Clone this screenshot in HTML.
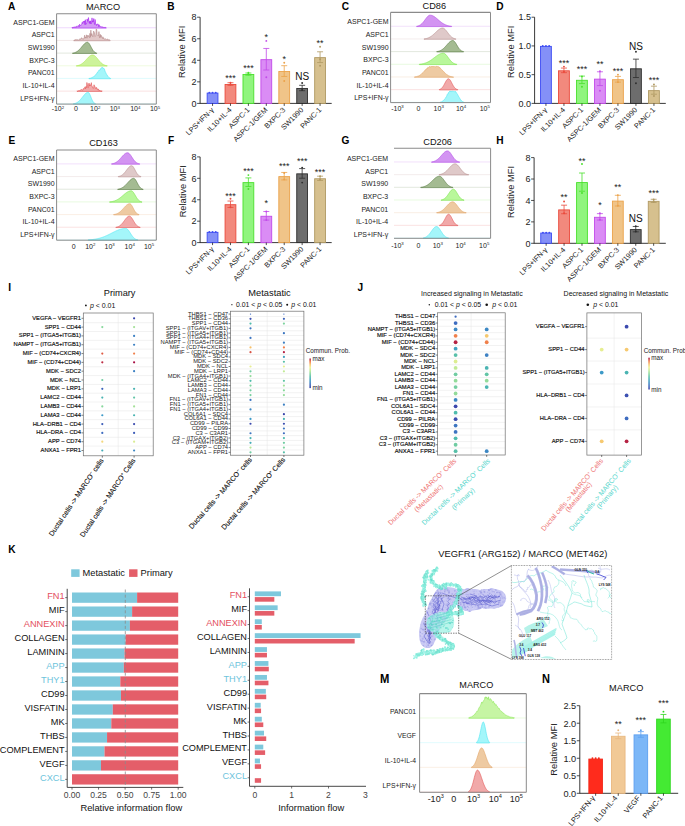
<!DOCTYPE html><html><head><meta charset="utf-8"><style>html,body{margin:0;padding:0;background:#fff;}svg{display:block;font-family:"Liberation Sans", sans-serif;}</style></head><body><svg width="685" height="826" viewBox="0 0 685 826"><rect width="685" height="826" fill="#fff"/>
<g transform="translate(8.00 10.23) scale(0.88 1)"><text x="0" y="0" font-size="11.5" font-weight="bold" fill="#000">A</text></g>
<line x1="56.60" y1="27.78" x2="156.30" y2="27.78" stroke="#a21cf0" stroke-width="0.5" stroke-opacity="0.35"/>
<path d="M72.03 28.08 L72.03 27.38 L72.48 27.74 L72.92 27.22 L73.36 27.23 L73.81 27.51 L74.25 26.94 L74.70 27.03 L75.14 27.29 L75.58 26.71 L76.03 27.47 L76.47 26.33 L76.91 26.13 L77.36 25.94 L77.80 26.43 L78.25 26.13 L78.69 25.45 L79.13 26.85 L79.58 24.31 L80.02 25.36 L80.47 25.48 L80.91 25.63 L81.35 24.38 L81.80 23.64 L82.24 22.30 L82.69 23.64 L83.13 21.54 L83.57 21.10 L84.02 22.41 L84.46 20.92 L84.90 24.62 L85.35 19.73 L85.79 24.54 L86.24 23.36 L86.68 23.48 L87.12 18.97 L87.57 21.34 L88.01 19.98 L88.46 17.58 L88.90 21.27 L89.34 23.32 L89.79 20.98 L90.23 23.69 L90.68 20.78 L91.12 23.96 L91.56 22.74 L92.01 17.88 L92.45 22.23 L92.90 20.80 L93.34 21.74 L93.78 18.52 L94.23 23.04 L94.67 24.56 L95.11 19.48 L95.56 23.56 L96.00 24.18 L96.45 25.57 L96.89 23.98 L97.33 24.05 L97.78 24.20 L98.22 24.14 L98.67 26.71 L99.11 24.73 L99.55 26.42 L100.00 25.95 L100.44 26.64 L100.89 26.58 L101.33 26.95 L101.77 26.63 L102.22 26.62 L102.66 27.36 L103.10 26.96 L103.55 27.42 L103.99 27.41 L104.44 27.55 L104.88 27.27 L105.32 27.53 L105.77 27.45 L106.21 27.78 L106.21 28.08 Z" fill="#d39af4" stroke="#a21cf0" stroke-width="0.6" stroke-linejoin="round"/>
<text x="54.60" y="24.78" font-size="7" text-anchor="end" fill="#222">ASPC1-GEM</text>
<line x1="56.60" y1="40.45" x2="156.30" y2="40.45" stroke="#b58888" stroke-width="0.5" stroke-opacity="0.35"/>
<path d="M73.79 40.75 L73.79 40.42 L74.24 40.01 L74.69 40.42 L75.13 39.57 L75.58 39.81 L76.03 39.85 L76.48 39.78 L76.93 39.39 L77.38 39.55 L77.83 40.08 L78.28 40.23 L78.73 39.69 L79.18 39.74 L79.62 39.70 L80.07 38.64 L80.52 39.42 L80.97 38.84 L81.42 37.88 L81.87 37.77 L82.32 39.14 L82.77 38.66 L83.22 39.47 L83.66 38.53 L84.11 38.51 L84.56 35.27 L85.01 38.11 L85.46 36.92 L85.91 38.19 L86.36 34.82 L86.81 37.91 L87.26 38.13 L87.71 35.19 L88.15 36.56 L88.60 35.60 L89.05 36.89 L89.50 37.70 L89.95 33.35 L90.40 37.31 L90.85 30.15 L91.30 35.63 L91.75 33.59 L92.19 34.92 L92.64 36.65 L93.09 36.94 L93.54 31.11 L93.99 31.67 L94.44 32.81 L94.89 36.72 L95.34 36.30 L95.79 35.86 L96.24 28.88 L96.68 29.69 L97.13 34.63 L97.58 35.19 L98.03 36.01 L98.48 35.79 L98.93 31.62 L99.38 35.95 L99.83 38.01 L100.28 34.30 L100.72 37.12 L101.17 35.28 L101.62 36.24 L102.07 37.85 L102.52 38.46 L102.97 36.84 L103.42 38.47 L103.87 37.98 L104.32 39.40 L104.77 39.21 L105.21 38.91 L105.66 38.77 L106.11 39.48 L106.56 38.96 L107.01 39.55 L107.46 39.22 L107.91 39.08 L108.36 39.90 L108.81 39.92 L109.26 39.84 L109.70 39.89 L110.15 40.32 L110.15 40.75 Z" fill="#e2c8c8" stroke="#b58888" stroke-width="0.6" stroke-linejoin="round"/>
<text x="54.60" y="37.45" font-size="7" text-anchor="end" fill="#222">ASPC1</text>
<line x1="56.60" y1="53.12" x2="156.30" y2="53.12" stroke="#56793f" stroke-width="0.5" stroke-opacity="0.35"/>
<path d="M72.53 53.42 L72.53 53.13 L72.97 53.06 L73.41 52.98 L73.85 52.88 L74.29 52.77 L74.73 52.64 L75.17 52.48 L75.61 52.30 L76.05 52.09 L76.49 51.86 L76.93 51.60 L77.37 51.30 L77.81 50.98 L78.25 50.62 L78.69 50.23 L79.13 49.82 L79.58 49.37 L80.02 48.89 L80.46 48.39 L80.90 47.88 L81.34 47.35 L81.78 46.81 L82.22 46.27 L82.66 45.73 L83.10 45.21 L83.54 44.70 L83.98 44.23 L84.42 43.79 L84.86 43.40 L85.30 43.05 L85.74 42.76 L86.18 42.54 L86.62 42.38 L87.07 42.29 L87.51 42.28 L87.95 42.41 L88.39 42.71 L88.83 43.16 L89.27 43.75 L89.71 44.45 L90.15 45.23 L90.59 46.06 L91.03 46.91 L91.47 47.75 L91.91 48.56 L92.35 49.32 L92.79 50.02 L93.23 50.64 L93.68 51.19 L94.12 51.65 L94.56 52.04 L95.00 52.36 L95.44 52.62 L95.88 52.83 L96.32 52.99 L96.76 53.11 L96.76 53.42 Z" fill="#a4bb92" stroke="#56793f" stroke-width="0.6" stroke-linejoin="round"/>
<text x="54.60" y="50.12" font-size="7" text-anchor="end" fill="#222">SW1990</text>
<line x1="56.60" y1="65.79" x2="156.30" y2="65.79" stroke="#a8e84a" stroke-width="0.5" stroke-opacity="0.35"/>
<path d="M76.37 66.09 L76.37 65.79 L76.82 65.72 L77.26 65.65 L77.71 65.56 L78.16 65.45 L78.60 65.33 L79.05 65.19 L79.49 65.03 L79.94 64.84 L80.39 64.64 L80.83 64.41 L81.28 64.15 L81.72 63.87 L82.17 63.56 L82.62 63.22 L83.06 62.85 L83.51 62.46 L83.96 62.04 L84.40 61.61 L84.85 61.15 L85.30 60.67 L85.74 60.18 L86.19 59.68 L86.63 59.18 L87.08 58.68 L87.53 58.18 L87.97 57.70 L88.42 57.24 L88.86 56.81 L89.31 56.41 L89.76 56.05 L90.20 55.73 L90.65 55.46 L91.10 55.24 L91.54 55.08 L91.99 54.98 L92.44 54.94 L92.88 54.97 L93.33 55.07 L93.77 55.24 L94.22 55.47 L94.67 55.77 L95.11 56.13 L95.56 56.54 L96.00 56.99 L96.45 57.48 L96.90 57.99 L97.34 58.52 L97.79 59.07 L98.24 59.62 L98.68 60.16 L99.13 60.70 L99.57 61.22 L100.02 61.71 L100.47 62.19 L100.91 62.63 L101.36 63.04 L101.81 63.43 L102.25 63.78 L102.70 64.09 L103.15 64.38 L103.59 64.63 L104.04 64.85 L104.48 65.05 L104.93 65.22 L105.38 65.37 L105.82 65.50 L106.27 65.60 L106.72 65.69 L107.16 65.77 L107.16 66.09 Z" fill="#cdf39a" stroke="#a8e84a" stroke-width="0.6" stroke-linejoin="round"/>
<text x="54.60" y="62.79" font-size="7" text-anchor="end" fill="#222">BXPC-3</text>
<line x1="56.60" y1="78.46" x2="156.30" y2="78.46" stroke="#4fe6f2" stroke-width="0.5" stroke-opacity="0.35"/>
<path d="M88.89 78.76 L88.89 78.47 L89.33 78.41 L89.77 78.35 L90.22 78.30 L90.66 78.07 L91.10 78.04 L91.55 77.72 L91.99 77.61 L92.43 77.35 L92.88 77.07 L93.32 77.00 L93.76 76.54 L94.21 76.27 L94.65 75.70 L95.09 75.34 L95.54 75.15 L95.98 74.21 L96.42 73.93 L96.87 73.31 L97.31 72.36 L97.75 72.35 L98.20 71.44 L98.64 70.69 L99.08 69.82 L99.53 69.97 L99.97 69.93 L100.42 69.69 L100.86 68.20 L101.30 67.74 L101.75 67.78 L102.19 67.85 L102.63 67.28 L103.08 68.03 L103.52 69.02 L103.96 68.54 L104.41 69.09 L104.85 70.49 L105.29 71.85 L105.74 72.63 L106.18 73.55 L106.62 74.42 L107.07 74.98 L107.51 75.92 L107.95 76.30 L108.40 76.78 L108.84 77.43 L109.28 77.70 L109.73 78.00 L110.17 78.27 L110.61 78.38 L110.61 78.76 Z" fill="#a4f6fa" stroke="#4fe6f2" stroke-width="0.6" stroke-linejoin="round"/>
<text x="54.60" y="75.46" font-size="7" text-anchor="end" fill="#222">PANC01</text>
<line x1="56.60" y1="91.13" x2="156.30" y2="91.13" stroke="#e35858" stroke-width="0.5" stroke-opacity="0.35"/>
<path d="M77.09 91.43 L77.09 90.72 L77.54 91.17 L77.98 91.08 L78.43 90.63 L78.87 90.55 L79.32 90.52 L79.76 90.56 L80.21 90.71 L80.65 89.80 L81.10 90.10 L81.55 89.41 L81.99 90.43 L82.44 90.06 L82.88 90.26 L83.33 88.59 L83.77 88.91 L84.22 87.95 L84.66 87.81 L85.11 86.78 L85.55 88.88 L86.00 86.60 L86.45 87.57 L86.89 82.53 L87.34 84.24 L87.78 87.39 L88.23 88.07 L88.67 83.92 L89.12 83.08 L89.56 86.12 L90.01 84.49 L90.45 85.61 L90.90 84.92 L91.35 82.65 L91.79 86.18 L92.24 86.22 L92.68 87.96 L93.13 87.99 L93.57 88.32 L94.02 84.78 L94.46 86.15 L94.91 86.33 L95.35 88.61 L95.80 88.74 L96.25 87.22 L96.69 88.60 L97.14 88.33 L97.58 89.86 L98.03 89.92 L98.47 88.91 L98.92 90.85 L99.36 90.65 L99.81 90.04 L100.25 90.92 L100.70 90.89 L101.15 90.87 L101.59 91.05 L102.04 90.77 L102.04 91.43 Z" fill="#f1a9a9" stroke="#e35858" stroke-width="0.6" stroke-linejoin="round"/>
<text x="54.60" y="88.13" font-size="7" text-anchor="end" fill="#222">IL-10+IL-4</text>
<line x1="56.60" y1="103.80" x2="156.30" y2="103.80" stroke="#4fe6f2" stroke-width="0.5" stroke-opacity="0.35"/>
<path d="M73.33 104.10 L73.33 103.78 L73.77 103.70 L74.22 103.61 L74.66 103.50 L75.10 103.38 L75.55 103.23 L75.99 103.06 L76.43 102.86 L76.88 102.63 L77.32 102.37 L77.76 102.09 L78.21 101.76 L78.65 101.41 L79.09 101.02 L79.54 100.59 L79.98 100.14 L80.42 99.65 L80.87 99.14 L81.31 98.60 L81.75 98.05 L82.20 97.48 L82.64 96.90 L83.08 96.33 L83.53 95.76 L83.97 95.21 L84.41 94.69 L84.86 94.20 L85.30 93.75 L85.74 93.35 L86.19 93.01 L86.63 92.73 L87.07 92.52 L87.52 92.38 L87.96 92.32 L88.40 92.39 L88.85 92.73 L89.29 93.33 L89.73 94.16 L90.18 95.15 L90.62 96.24 L91.06 97.37 L91.51 98.48 L91.95 99.52 L92.39 100.46 L92.84 101.28 L93.28 101.97 L93.72 102.53 L94.17 102.97 L94.61 103.31 L95.05 103.56 L95.50 103.74 L95.50 104.10 Z" fill="#a4f6fa" stroke="#4fe6f2" stroke-width="0.6" stroke-linejoin="round"/>
<text x="54.60" y="100.80" font-size="7" text-anchor="end" fill="#222">LPS+IFN-γ</text>
<line x1="56.60" y1="13.70" x2="156.30" y2="13.70" stroke="#8a8a8a" stroke-width="1.1"/>
<line x1="156.30" y1="13.70" x2="156.30" y2="104.10" stroke="#8a8a8a" stroke-width="1"/>
<line x1="56.60" y1="104.10" x2="156.30" y2="104.10" stroke="#8a8a8a" stroke-width="1"/>
<line x1="56.60" y1="13.70" x2="56.60" y2="104.10" stroke="#8a8a8a" stroke-width="1"/>
<text x="103.00" y="10.10" font-size="9.2" text-anchor="middle" fill="#111">MARCO</text>
<text x="57.90" y="111.20" font-size="7" text-anchor="middle" fill="#222">-10<tspan font-size="4.34" dy="-2.66">2</tspan></text>
<text x="76.00" y="111.20" font-size="7" text-anchor="middle" fill="#222">0</text>
<text x="95.20" y="111.20" font-size="7" text-anchor="middle" fill="#222">10<tspan font-size="4.34" dy="-2.66">2</tspan></text>
<text x="114.80" y="111.20" font-size="7" text-anchor="middle" fill="#222">10<tspan font-size="4.34" dy="-2.66">3</tspan></text>
<text x="135.30" y="111.20" font-size="7" text-anchor="middle" fill="#222">10<tspan font-size="4.34" dy="-2.66">4</tspan></text>
<text x="155.00" y="111.20" font-size="7" text-anchor="middle" fill="#222">10<tspan font-size="4.34" dy="-2.66">5</tspan></text>
<g transform="translate(341.70 10.23) scale(0.88 1)"><text x="0" y="0" font-size="11.5" font-weight="bold" fill="#000">C</text></g>
<line x1="390.60" y1="26.28" x2="490.50" y2="26.28" stroke="#b24ae6" stroke-width="0.5" stroke-opacity="0.35"/>
<path d="M416.60 26.58 L416.60 26.28 L417.05 26.20 L417.50 26.10 L417.95 25.99 L418.40 25.84 L418.85 25.67 L419.29 25.48 L419.74 25.25 L420.19 24.98 L420.64 24.67 L421.09 24.33 L421.54 23.94 L421.99 23.52 L422.44 23.05 L422.89 22.55 L423.34 22.01 L423.79 21.44 L424.24 20.84 L424.69 20.23 L425.14 19.61 L425.59 18.99 L426.04 18.38 L426.49 17.80 L426.94 17.25 L427.38 16.74 L427.83 16.29 L428.28 15.91 L428.73 15.60 L429.18 15.37 L429.63 15.23 L430.08 15.18 L430.53 15.19 L430.98 15.25 L431.43 15.33 L431.88 15.46 L432.33 15.61 L432.78 15.80 L433.23 16.02 L433.68 16.26 L434.13 16.53 L434.58 16.83 L435.03 17.15 L435.47 17.48 L435.92 17.83 L436.37 18.20 L436.82 18.57 L437.27 18.95 L437.72 19.34 L438.17 19.73 L438.62 20.11 L439.07 20.50 L439.52 20.88 L439.97 21.25 L440.42 21.62 L440.87 21.97 L441.32 22.31 L441.77 22.64 L442.22 22.96 L442.67 23.26 L443.12 23.54 L443.56 23.81 L444.01 24.07 L444.46 24.30 L444.91 24.53 L445.36 24.73 L445.81 24.92 L446.26 25.10 L446.71 25.26 L447.16 25.41 L447.61 25.54 L448.06 25.66 L448.51 25.77 L448.96 25.87 L449.41 25.96 L449.86 26.04 L450.31 26.11 L450.76 26.17 L451.21 26.23 L451.65 26.28 L451.65 26.58 Z" fill="#d394f2" stroke="#b24ae6" stroke-width="0.6" stroke-linejoin="round"/>
<text x="388.60" y="24.28" font-size="7" text-anchor="end" fill="#222">ASPC1-GEM</text>
<line x1="390.60" y1="38.95" x2="490.50" y2="38.95" stroke="#b78f8f" stroke-width="0.5" stroke-opacity="0.35"/>
<path d="M424.03 39.25 L424.03 38.92 L424.48 38.86 L424.93 38.79 L425.38 38.71 L425.83 38.62 L426.27 38.52 L426.72 38.40 L427.17 38.27 L427.62 38.12 L428.07 37.96 L428.52 37.78 L428.96 37.58 L429.41 37.36 L429.86 37.12 L430.31 36.86 L430.76 36.59 L431.20 36.29 L431.65 35.97 L432.10 35.63 L432.55 35.27 L433.00 34.90 L433.45 34.51 L433.89 34.11 L434.34 33.69 L434.79 33.27 L435.24 32.84 L435.69 32.40 L436.13 31.97 L436.58 31.54 L437.03 31.12 L437.48 30.72 L437.93 30.33 L438.38 29.96 L438.82 29.61 L439.27 29.29 L439.72 29.00 L440.17 28.75 L440.62 28.54 L441.07 28.37 L441.51 28.23 L441.96 28.15 L442.41 28.10 L442.86 28.12 L443.31 28.21 L443.75 28.39 L444.20 28.66 L444.65 29.00 L445.10 29.41 L445.55 29.88 L446.00 30.40 L446.44 30.95 L446.89 31.54 L447.34 32.14 L447.79 32.74 L448.24 33.34 L448.68 33.93 L449.13 34.50 L449.58 35.04 L450.03 35.55 L450.48 36.03 L450.93 36.46 L451.37 36.86 L451.82 37.21 L452.27 37.53 L452.72 37.81 L453.17 38.05 L453.61 38.26 L454.06 38.44 L454.51 38.60 L454.96 38.72 L455.41 38.83 L455.86 38.92 L455.86 39.25 Z" fill="#dfc9c9" stroke="#b78f8f" stroke-width="0.6" stroke-linejoin="round"/>
<text x="388.60" y="36.95" font-size="7" text-anchor="end" fill="#222">ASPC1</text>
<line x1="390.60" y1="51.62" x2="490.50" y2="51.62" stroke="#56793f" stroke-width="0.5" stroke-opacity="0.35"/>
<path d="M436.74 51.92 L436.74 51.60 L437.19 51.53 L437.64 51.45 L438.09 51.36 L438.53 51.25 L438.98 51.12 L439.43 50.97 L439.87 50.80 L440.32 50.61 L440.77 50.39 L441.21 50.15 L441.66 49.89 L442.11 49.59 L442.55 49.27 L443.00 48.92 L443.45 48.54 L443.89 48.13 L444.34 47.70 L444.79 47.25 L445.23 46.77 L445.68 46.28 L446.13 45.78 L446.57 45.26 L447.02 44.75 L447.47 44.24 L447.91 43.73 L448.36 43.25 L448.81 42.78 L449.26 42.34 L449.70 41.94 L450.15 41.58 L450.60 41.26 L451.04 41.00 L451.49 40.79 L451.94 40.63 L452.38 40.54 L452.83 40.52 L453.28 40.60 L453.72 40.82 L454.17 41.17 L454.62 41.63 L455.06 42.20 L455.51 42.86 L455.96 43.57 L456.40 44.32 L456.85 45.09 L457.30 45.86 L457.74 46.61 L458.19 47.32 L458.64 47.99 L459.09 48.60 L459.53 49.15 L459.98 49.64 L460.43 50.07 L460.87 50.43 L461.32 50.74 L461.77 51.00 L462.21 51.20 L462.66 51.37 L463.11 51.51 L463.55 51.61 L463.55 51.92 Z" fill="#a4bb92" stroke="#56793f" stroke-width="0.6" stroke-linejoin="round"/>
<text x="388.60" y="49.62" font-size="7" text-anchor="end" fill="#222">SW1990</text>
<line x1="390.60" y1="64.29" x2="490.50" y2="64.29" stroke="#78e24a" stroke-width="0.5" stroke-opacity="0.35"/>
<path d="M419.27 64.59 L419.27 64.27 L419.72 64.22 L420.16 64.17 L420.61 64.11 L421.06 64.05 L421.50 63.98 L421.95 63.91 L422.40 63.82 L422.84 63.73 L423.29 63.63 L423.74 63.52 L424.19 63.39 L424.63 63.26 L425.08 63.12 L425.53 62.97 L425.97 62.80 L426.42 62.63 L426.87 62.44 L427.31 62.24 L427.76 62.02 L428.21 61.79 L428.66 61.56 L429.10 61.30 L429.55 61.04 L430.00 60.77 L430.44 60.48 L430.89 60.18 L431.34 59.88 L431.78 59.56 L432.23 59.24 L432.68 58.91 L433.12 58.57 L433.57 58.23 L434.02 57.89 L434.47 57.55 L434.91 57.20 L435.36 56.86 L435.81 56.53 L436.25 56.20 L436.70 55.88 L437.15 55.56 L437.59 55.26 L438.04 54.98 L438.49 54.71 L438.93 54.45 L439.38 54.22 L439.83 54.00 L440.28 53.81 L440.72 53.65 L441.17 53.50 L441.62 53.38 L442.06 53.29 L442.51 53.23 L442.96 53.20 L443.40 53.19 L443.85 53.26 L444.30 53.41 L444.74 53.65 L445.19 53.97 L445.64 54.37 L446.09 54.83 L446.53 55.34 L446.98 55.89 L447.43 56.48 L447.87 57.09 L448.32 57.70 L448.77 58.32 L449.21 58.93 L449.66 59.51 L450.11 60.08 L450.56 60.61 L451.00 61.11 L451.45 61.57 L451.90 61.99 L452.34 62.37 L452.79 62.71 L453.24 63.01 L453.68 63.27 L454.13 63.50 L454.58 63.69 L455.02 63.86 L455.47 64.00 L455.92 64.12 L456.37 64.21 L456.81 64.29 L456.81 64.59 Z" fill="#b9f79b" stroke="#78e24a" stroke-width="0.6" stroke-linejoin="round"/>
<text x="388.60" y="62.29" font-size="7" text-anchor="end" fill="#222">BXPC-3</text>
<line x1="390.60" y1="76.96" x2="490.50" y2="76.96" stroke="#e2a466" stroke-width="0.5" stroke-opacity="0.35"/>
<path d="M414.45 77.26 L414.45 76.96 L414.90 76.90 L415.35 76.85 L415.79 76.73 L416.24 76.69 L416.69 76.55 L417.14 76.44 L417.59 76.21 L418.04 76.09 L418.48 75.99 L418.93 75.73 L419.38 75.53 L419.83 75.28 L420.28 74.90 L420.73 74.58 L421.17 74.24 L421.62 73.91 L422.07 73.31 L422.52 72.95 L422.97 72.72 L423.42 72.29 L423.86 71.60 L424.31 71.07 L424.76 70.48 L425.21 70.55 L425.66 69.53 L426.11 69.00 L426.55 69.12 L427.00 68.23 L427.45 68.33 L427.90 67.27 L428.35 67.64 L428.80 67.40 L429.25 66.59 L429.69 66.59 L430.14 66.77 L430.59 66.77 L431.04 66.79 L431.49 66.72 L431.94 66.03 L432.38 66.60 L432.83 66.71 L433.28 66.14 L433.73 66.77 L434.18 66.72 L434.63 66.23 L435.07 66.66 L435.52 66.81 L435.97 66.67 L436.42 66.57 L436.87 66.06 L437.32 66.41 L437.76 66.89 L438.21 66.39 L438.66 67.19 L439.11 67.01 L439.56 67.74 L440.01 67.60 L440.45 68.36 L440.90 68.99 L441.35 69.31 L441.80 69.74 L442.25 70.06 L442.70 70.74 L443.15 71.30 L443.59 71.51 L444.04 72.00 L444.49 72.35 L444.94 73.12 L445.39 73.41 L445.84 73.86 L446.28 74.15 L446.73 74.50 L447.18 74.71 L447.63 75.08 L448.08 75.47 L448.53 75.67 L448.97 75.80 L449.42 76.09 L449.87 76.21 L450.32 76.36 L450.77 76.53 L451.22 76.59 L451.66 76.70 L452.11 76.78 L452.56 76.88 L453.01 76.91 L453.46 76.98 L453.46 77.26 Z" fill="#eecaa2" stroke="#e2a466" stroke-width="0.6" stroke-linejoin="round"/>
<text x="388.60" y="74.96" font-size="7" text-anchor="end" fill="#222">PANC01</text>
<line x1="390.60" y1="89.63" x2="490.50" y2="89.63" stroke="#e35858" stroke-width="0.5" stroke-opacity="0.35"/>
<path d="M439.27 89.93 L439.27 89.56 L439.71 89.42 L440.15 89.24 L440.59 89.00 L441.03 88.71 L441.48 88.36 L441.92 87.93 L442.36 87.42 L442.80 86.83 L443.24 86.17 L443.68 85.44 L444.12 84.65 L444.56 83.82 L445.00 82.97 L445.44 82.12 L445.89 81.32 L446.33 80.57 L446.77 79.93 L447.21 79.41 L447.65 79.03 L448.09 78.82 L448.53 78.79 L448.97 78.93 L449.41 79.24 L449.86 79.70 L450.30 80.30 L450.74 81.01 L451.18 81.79 L451.62 82.63 L452.06 83.48 L452.50 84.32 L452.94 85.13 L453.38 85.88 L453.82 86.58 L454.27 87.19 L454.71 87.73 L455.15 88.19 L455.59 88.58 L456.03 88.89 L456.47 89.15 L456.91 89.35 L457.35 89.51 L457.79 89.63 L457.79 89.93 Z" fill="#f1a9a9" stroke="#e35858" stroke-width="0.6" stroke-linejoin="round"/>
<text x="388.60" y="87.63" font-size="7" text-anchor="end" fill="#222">IL-10+IL-4</text>
<line x1="390.60" y1="102.30" x2="490.50" y2="102.30" stroke="#4fe6f2" stroke-width="0.5" stroke-opacity="0.35"/>
<path d="M440.05 102.60 L440.05 102.22 L440.50 102.14 L440.94 102.02 L441.39 101.89 L441.83 101.56 L442.28 101.28 L442.73 101.03 L443.17 100.76 L443.62 100.32 L444.07 99.88 L444.51 99.34 L444.96 98.58 L445.41 98.16 L445.85 97.44 L446.30 96.73 L446.74 96.06 L447.19 94.56 L447.64 93.94 L448.08 94.03 L448.53 92.45 L448.98 92.13 L449.42 91.88 L449.87 90.90 L450.32 91.60 L450.76 91.30 L451.21 91.59 L451.66 90.98 L452.10 91.53 L452.55 91.03 L452.99 91.31 L453.44 91.38 L453.89 91.59 L454.33 91.70 L454.78 91.72 L455.23 91.15 L455.67 92.11 L456.12 92.17 L456.57 93.06 L457.01 93.65 L457.46 94.23 L457.90 95.25 L458.35 95.81 L458.80 96.98 L459.24 97.41 L459.69 98.25 L460.14 98.93 L460.58 99.80 L461.03 100.07 L461.48 100.73 L461.92 101.07 L462.37 101.45 L462.81 101.77 L463.26 101.97 L463.71 102.14 L464.15 102.22 L464.15 102.60 Z" fill="#a4f6fa" stroke="#4fe6f2" stroke-width="0.6" stroke-linejoin="round"/>
<text x="388.60" y="100.30" font-size="7" text-anchor="end" fill="#222">LPS+IFN-γ</text>
<line x1="390.60" y1="12.40" x2="490.50" y2="12.40" stroke="#8a8a8a" stroke-width="1.1"/>
<line x1="490.50" y1="12.40" x2="490.50" y2="102.60" stroke="#8a8a8a" stroke-width="1"/>
<line x1="390.60" y1="102.60" x2="490.50" y2="102.60" stroke="#8a8a8a" stroke-width="1"/>
<line x1="390.60" y1="12.40" x2="390.60" y2="102.60" stroke="#8a8a8a" stroke-width="1"/>
<text x="434.30" y="8.80" font-size="9.2" text-anchor="middle" fill="#111">CD86</text>
<text x="397.50" y="111.00" font-size="7" text-anchor="middle" fill="#222">-10<tspan font-size="4.34" dy="-2.66">3</tspan></text>
<text x="418.50" y="111.00" font-size="7" text-anchor="middle" fill="#222">0</text>
<text x="438.70" y="111.00" font-size="7" text-anchor="middle" fill="#222">10<tspan font-size="4.34" dy="-2.66">3</tspan></text>
<text x="461.00" y="111.00" font-size="7" text-anchor="middle" fill="#222">10<tspan font-size="4.34" dy="-2.66">4</tspan></text>
<text x="484.80" y="111.00" font-size="7" text-anchor="middle" fill="#222">10<tspan font-size="4.34" dy="-2.66">5</tspan></text>
<g transform="translate(8.50 143.53) scale(0.88 1)"><text x="0" y="0" font-size="11.5" font-weight="bold" fill="#000">E</text></g>
<line x1="56.60" y1="163.88" x2="156.30" y2="163.88" stroke="#b24ae6" stroke-width="0.5" stroke-opacity="0.35"/>
<path d="M111.60 164.18 L111.60 163.84 L112.04 163.77 L112.49 163.68 L112.93 163.58 L113.38 163.47 L113.82 163.33 L114.27 163.18 L114.71 163.00 L115.16 162.80 L115.61 162.58 L116.05 162.33 L116.50 162.06 L116.94 161.76 L117.39 161.43 L117.83 161.07 L118.28 160.68 L118.72 160.27 L119.17 159.83 L119.61 159.37 L120.06 158.90 L120.50 158.40 L120.95 157.90 L121.39 157.38 L121.84 156.87 L122.29 156.36 L122.73 155.87 L123.18 155.38 L123.62 154.93 L124.07 154.50 L124.51 154.11 L124.96 153.76 L125.40 153.45 L125.85 153.20 L126.29 153.01 L126.74 152.87 L127.18 152.79 L127.63 152.78 L128.08 152.87 L128.52 153.07 L128.97 153.37 L129.41 153.76 L129.86 154.24 L130.30 154.79 L130.75 155.39 L131.19 156.04 L131.64 156.71 L132.08 157.39 L132.53 158.07 L132.97 158.74 L133.42 159.38 L133.86 159.99 L134.31 160.55 L134.76 161.07 L135.20 161.54 L135.65 161.96 L136.09 162.34 L136.54 162.66 L136.98 162.94 L137.43 163.18 L137.87 163.38 L138.32 163.55 L138.76 163.68 L139.21 163.79 L139.65 163.88 L139.65 164.18 Z" fill="#d394f2" stroke="#b24ae6" stroke-width="0.6" stroke-linejoin="round"/>
<text x="54.60" y="160.88" font-size="7" text-anchor="end" fill="#222">ASPC1-GEM</text>
<line x1="56.60" y1="176.55" x2="156.30" y2="176.55" stroke="#b78f8f" stroke-width="0.5" stroke-opacity="0.35"/>
<path d="M118.25 176.85 L118.25 176.53 L118.69 176.45 L119.14 176.35 L119.58 176.23 L120.03 176.08 L120.47 175.91 L120.92 175.71 L121.36 175.48 L121.81 175.21 L122.25 174.91 L122.70 174.56 L123.15 174.18 L123.59 173.76 L124.04 173.30 L124.48 172.80 L124.93 172.27 L125.37 171.72 L125.82 171.14 L126.26 170.54 L126.71 169.94 L127.15 169.34 L127.60 168.76 L128.04 168.19 L128.49 167.66 L128.93 167.18 L129.38 166.75 L129.82 166.38 L130.27 166.09 L130.71 165.87 L131.16 165.74 L131.60 165.70 L132.05 165.79 L132.50 166.06 L132.94 166.49 L133.39 167.06 L133.83 167.75 L134.28 168.53 L134.72 169.36 L135.17 170.22 L135.61 171.07 L136.06 171.89 L136.50 172.67 L136.95 173.38 L137.39 174.02 L137.84 174.57 L138.28 175.05 L138.73 175.45 L139.17 175.78 L139.62 176.04 L140.06 176.25 L140.51 176.41 L140.95 176.54 L140.95 176.85 Z" fill="#dfc9c9" stroke="#b78f8f" stroke-width="0.6" stroke-linejoin="round"/>
<text x="54.60" y="173.55" font-size="7" text-anchor="end" fill="#222">ASPC1</text>
<line x1="56.60" y1="189.22" x2="156.30" y2="189.22" stroke="#56793f" stroke-width="0.5" stroke-opacity="0.35"/>
<path d="M117.71 189.52 L117.71 189.20 L118.16 189.13 L118.60 189.05 L119.05 188.95 L119.50 188.84 L119.94 188.71 L120.39 188.57 L120.84 188.40 L121.28 188.21 L121.73 188.00 L122.18 187.76 L122.62 187.49 L123.07 187.20 L123.51 186.88 L123.96 186.53 L124.41 186.16 L124.85 185.76 L125.30 185.34 L125.75 184.89 L126.19 184.42 L126.64 183.94 L127.09 183.45 L127.53 182.95 L127.98 182.44 L128.42 181.95 L128.87 181.46 L129.32 180.98 L129.76 180.53 L130.21 180.11 L130.66 179.72 L131.10 179.37 L131.55 179.06 L132.00 178.81 L132.44 178.61 L132.89 178.47 L133.33 178.39 L133.78 178.37 L134.23 178.50 L134.67 178.79 L135.12 179.25 L135.57 179.85 L136.01 180.56 L136.46 181.35 L136.90 182.19 L137.35 183.05 L137.80 183.90 L138.24 184.72 L138.69 185.49 L139.14 186.18 L139.58 186.80 L140.03 187.35 L140.48 187.81 L140.92 188.19 L141.37 188.51 L141.81 188.76 L142.26 188.96 L142.71 189.11 L143.15 189.23 L143.15 189.52 Z" fill="#a4bb92" stroke="#56793f" stroke-width="0.6" stroke-linejoin="round"/>
<text x="54.60" y="186.22" font-size="7" text-anchor="end" fill="#222">SW1990</text>
<line x1="56.60" y1="201.89" x2="156.30" y2="201.89" stroke="#78e24a" stroke-width="0.5" stroke-opacity="0.35"/>
<path d="M109.58 202.19 L109.58 201.89 L110.03 201.85 L110.48 201.79 L110.93 201.73 L111.38 201.66 L111.82 201.58 L112.27 201.50 L112.72 201.40 L113.17 201.29 L113.62 201.17 L114.07 201.04 L114.52 200.89 L114.97 200.73 L115.42 200.56 L115.87 200.37 L116.32 200.17 L116.77 199.95 L117.22 199.71 L117.67 199.46 L118.12 199.19 L118.57 198.91 L119.02 198.61 L119.47 198.30 L119.92 197.97 L120.37 197.63 L120.82 197.28 L121.27 196.91 L121.72 196.54 L122.17 196.16 L122.62 195.78 L123.07 195.39 L123.52 195.00 L123.96 194.61 L124.41 194.23 L124.86 193.86 L125.31 193.49 L125.76 193.14 L126.21 192.80 L126.66 192.48 L127.11 192.18 L127.56 191.91 L128.01 191.66 L128.46 191.44 L128.91 191.24 L129.36 191.08 L129.81 190.96 L130.26 190.87 L130.71 190.81 L131.16 190.79 L131.61 190.85 L132.06 191.05 L132.51 191.38 L132.96 191.84 L133.41 192.40 L133.86 193.04 L134.31 193.76 L134.76 194.51 L135.21 195.28 L135.66 196.06 L136.11 196.81 L136.55 197.54 L137.00 198.21 L137.45 198.83 L137.90 199.39 L138.35 199.89 L138.80 200.32 L139.25 200.69 L139.70 201.00 L140.15 201.26 L140.60 201.47 L141.05 201.64 L141.50 201.78 L141.95 201.88 L141.95 202.19 Z" fill="#b9f79b" stroke="#78e24a" stroke-width="0.6" stroke-linejoin="round"/>
<text x="54.60" y="198.89" font-size="7" text-anchor="end" fill="#222">BXPC-3</text>
<line x1="56.60" y1="214.56" x2="156.30" y2="214.56" stroke="#e2a466" stroke-width="0.5" stroke-opacity="0.35"/>
<path d="M113.63 214.86 L113.63 214.55 L114.07 214.48 L114.52 214.41 L114.97 214.31 L115.41 214.21 L115.86 214.08 L116.30 213.94 L116.75 213.77 L117.20 213.59 L117.64 213.38 L118.09 213.15 L118.53 212.89 L118.98 212.60 L119.43 212.29 L119.87 211.94 L120.32 211.58 L120.77 211.18 L121.21 210.76 L121.66 210.32 L122.10 209.86 L122.55 209.38 L123.00 208.89 L123.44 208.39 L123.89 207.89 L124.33 207.39 L124.78 206.89 L125.23 206.42 L125.67 205.96 L126.12 205.53 L126.56 205.13 L127.01 204.78 L127.46 204.46 L127.90 204.20 L128.35 203.99 L128.79 203.84 L129.24 203.74 L129.69 203.71 L130.13 203.80 L130.58 204.06 L131.02 204.48 L131.47 205.05 L131.92 205.74 L132.36 206.51 L132.81 207.35 L133.26 208.20 L133.70 209.06 L134.15 209.89 L134.59 210.66 L135.04 211.38 L135.49 212.02 L135.93 212.57 L136.38 213.05 L136.82 213.45 L137.27 213.78 L137.72 214.05 L138.16 214.26 L138.61 214.42 L139.05 214.55 L139.05 214.86 Z" fill="#eecaa2" stroke="#e2a466" stroke-width="0.6" stroke-linejoin="round"/>
<text x="54.60" y="211.56" font-size="7" text-anchor="end" fill="#222">PANC01</text>
<line x1="56.60" y1="227.23" x2="156.30" y2="227.23" stroke="#e35858" stroke-width="0.5" stroke-opacity="0.35"/>
<path d="M115.83 227.53 L115.83 227.24 L116.28 227.17 L116.73 227.07 L117.18 226.95 L117.63 226.82 L118.08 226.65 L118.53 226.46 L118.98 226.23 L119.43 225.97 L119.88 225.67 L120.33 225.33 L120.78 224.95 L121.23 224.52 L121.68 224.06 L122.14 223.56 L122.59 223.03 L123.04 222.46 L123.49 221.86 L123.94 221.25 L124.39 220.63 L124.84 220.01 L125.29 219.40 L125.74 218.81 L126.19 218.25 L126.64 217.74 L127.09 217.28 L127.54 216.89 L127.99 216.57 L128.44 216.34 L128.89 216.19 L129.34 216.13 L129.79 216.18 L130.24 216.38 L130.69 216.71 L131.14 217.16 L131.59 217.72 L132.04 218.36 L132.49 219.07 L132.94 219.83 L133.39 220.60 L133.84 221.38 L134.29 222.14 L134.75 222.86 L135.20 223.54 L135.65 224.16 L136.10 224.72 L136.55 225.22 L137.00 225.65 L137.45 226.02 L137.90 226.34 L138.35 226.60 L138.80 226.81 L139.25 226.98 L139.70 227.12 L140.15 227.22 L140.15 227.53 Z" fill="#f1a9a9" stroke="#e35858" stroke-width="0.6" stroke-linejoin="round"/>
<text x="54.60" y="224.23" font-size="7" text-anchor="end" fill="#222">IL-10+IL-4</text>
<line x1="56.60" y1="239.90" x2="156.30" y2="239.90" stroke="#4fe6f2" stroke-width="0.5" stroke-opacity="0.35"/>
<path d="M88.13 240.20 L88.13 239.88 L88.58 239.86 L89.03 239.83 L89.48 239.79 L89.93 239.76 L90.38 239.72 L90.83 239.68 L91.28 239.64 L91.72 239.59 L92.17 239.54 L92.62 239.49 L93.07 239.43 L93.52 239.37 L93.97 239.31 L94.42 239.24 L94.87 239.17 L95.32 239.10 L95.76 239.02 L96.21 238.94 L96.66 238.85 L97.11 238.76 L97.56 238.66 L98.01 238.56 L98.46 238.45 L98.91 238.34 L99.35 238.22 L99.80 238.10 L100.25 237.97 L100.70 237.84 L101.15 237.70 L101.60 237.56 L102.05 237.41 L102.50 237.25 L102.94 237.09 L103.39 236.93 L103.84 236.76 L104.29 236.58 L104.74 236.40 L105.19 236.21 L105.64 236.02 L106.09 235.83 L106.54 235.63 L106.98 235.42 L107.43 235.22 L107.88 235.01 L108.33 234.79 L108.78 234.57 L109.23 234.35 L109.68 234.13 L110.13 233.90 L110.57 233.68 L111.02 233.45 L111.47 233.22 L111.92 232.99 L112.37 232.76 L112.82 232.53 L113.27 232.31 L113.72 232.08 L114.16 231.86 L114.61 231.64 L115.06 231.42 L115.51 231.21 L115.96 231.00 L116.41 230.79 L116.86 230.59 L117.31 230.40 L117.76 230.21 L118.20 230.03 L118.65 229.86 L119.10 229.69 L119.55 229.53 L120.00 229.39 L120.45 229.25 L120.90 229.12 L121.35 229.00 L121.79 228.89 L122.24 228.79 L122.69 228.70 L123.14 228.63 L123.59 228.56 L124.04 228.51 L124.49 228.47 L124.94 228.44 L125.38 228.42 L125.83 228.42 L126.28 228.48 L126.73 228.67 L127.18 228.96 L127.63 229.35 L128.08 229.83 L128.53 230.39 L128.98 231.01 L129.42 231.68 L129.87 232.38 L130.32 233.09 L130.77 233.80 L131.22 234.49 L131.67 235.16 L132.12 235.80 L132.57 236.39 L133.01 236.94 L133.46 237.44 L133.91 237.88 L134.36 238.27 L134.81 238.61 L135.26 238.91 L135.71 239.16 L136.16 239.37 L136.60 239.54 L137.05 239.68 L137.50 239.80 L137.95 239.89 L137.95 240.20 Z" fill="#a4f6fa" stroke="#4fe6f2" stroke-width="0.6" stroke-linejoin="round"/>
<text x="54.60" y="236.90" font-size="7" text-anchor="end" fill="#222">LPS+IFN-γ</text>
<line x1="56.60" y1="150.00" x2="156.30" y2="150.00" stroke="#8a8a8a" stroke-width="1.1"/>
<line x1="156.30" y1="150.00" x2="156.30" y2="240.20" stroke="#8a8a8a" stroke-width="1"/>
<line x1="56.60" y1="240.20" x2="156.30" y2="240.20" stroke="#8a8a8a" stroke-width="1"/>
<line x1="56.60" y1="150.00" x2="56.60" y2="240.20" stroke="#8a8a8a" stroke-width="1"/>
<text x="103.50" y="146.40" font-size="9.2" text-anchor="middle" fill="#111">CD163</text>
<text x="73.70" y="248.60" font-size="7" text-anchor="middle" fill="#222">0</text>
<text x="90.30" y="248.60" font-size="7" text-anchor="middle" fill="#222">10<tspan font-size="4.34" dy="-2.66">2</tspan></text>
<text x="109.60" y="248.60" font-size="7" text-anchor="middle" fill="#222">10<tspan font-size="4.34" dy="-2.66">3</tspan></text>
<text x="129.70" y="248.60" font-size="7" text-anchor="middle" fill="#222">10<tspan font-size="4.34" dy="-2.66">4</tspan></text>
<text x="149.00" y="248.60" font-size="7" text-anchor="middle" fill="#222">10<tspan font-size="4.34" dy="-2.66">5</tspan></text>
<g transform="translate(341.60 143.53) scale(0.88 1)"><text x="0" y="0" font-size="11.5" font-weight="bold" fill="#000">G</text></g>
<line x1="394.00" y1="161.98" x2="490.60" y2="161.98" stroke="#b24ae6" stroke-width="0.5" stroke-opacity="0.35"/>
<path d="M431.58 162.28 L431.58 161.94 L432.02 161.87 L432.47 161.79 L432.91 161.69 L433.36 161.57 L433.80 161.44 L434.25 161.28 L434.70 161.11 L435.14 160.91 L435.59 160.69 L436.03 160.44 L436.48 160.17 L436.92 159.87 L437.37 159.54 L437.82 159.18 L438.26 158.79 L438.71 158.38 L439.15 157.95 L439.60 157.49 L440.04 157.01 L440.49 156.52 L440.94 156.01 L441.38 155.50 L441.83 154.99 L442.27 154.48 L442.72 153.98 L443.16 153.50 L443.61 153.04 L444.06 152.61 L444.50 152.22 L444.95 151.86 L445.39 151.56 L445.84 151.31 L446.28 151.11 L446.73 150.97 L447.18 150.89 L447.62 150.88 L448.07 150.97 L448.51 151.16 L448.96 151.46 L449.40 151.85 L449.85 152.33 L450.30 152.88 L450.74 153.48 L451.19 154.13 L451.63 154.80 L452.08 155.48 L452.52 156.16 L452.97 156.83 L453.41 157.47 L453.86 158.08 L454.31 158.65 L454.75 159.17 L455.20 159.64 L455.64 160.06 L456.09 160.44 L456.53 160.76 L456.98 161.04 L457.43 161.28 L457.87 161.48 L458.32 161.65 L458.76 161.78 L459.21 161.89 L459.65 161.98 L459.65 162.28 Z" fill="#d394f2" stroke="#b24ae6" stroke-width="0.6" stroke-linejoin="round"/>
<text x="388.20" y="160.88" font-size="7" text-anchor="end" fill="#222">ASPC1-GEM</text>
<line x1="394.00" y1="174.65" x2="490.60" y2="174.65" stroke="#b78f8f" stroke-width="0.5" stroke-opacity="0.35"/>
<path d="M439.19 174.95 L439.19 174.62 L439.64 174.55 L440.09 174.46 L440.53 174.37 L440.98 174.25 L441.42 174.12 L441.87 173.97 L442.32 173.80 L442.76 173.60 L443.21 173.38 L443.66 173.14 L444.10 172.87 L444.55 172.57 L445.00 172.25 L445.44 171.90 L445.89 171.52 L446.33 171.11 L446.78 170.69 L447.23 170.24 L447.67 169.77 L448.12 169.28 L448.57 168.79 L449.01 168.29 L449.46 167.78 L449.91 167.28 L450.35 166.80 L450.80 166.33 L451.24 165.88 L451.69 165.46 L452.14 165.08 L452.58 164.74 L453.03 164.44 L453.48 164.20 L453.92 164.01 L454.37 163.88 L454.82 163.81 L455.26 163.81 L455.71 163.88 L456.16 164.05 L456.60 164.29 L457.05 164.62 L457.49 165.01 L457.94 165.46 L458.39 165.97 L458.83 166.51 L459.28 167.09 L459.73 167.68 L460.17 168.29 L460.62 168.89 L461.07 169.48 L461.51 170.05 L461.96 170.60 L462.40 171.11 L462.85 171.60 L463.30 172.04 L463.74 172.45 L464.19 172.81 L464.64 173.14 L465.08 173.43 L465.53 173.68 L465.98 173.90 L466.42 174.09 L466.87 174.25 L467.31 174.39 L467.76 174.50 L468.21 174.59 L468.65 174.67 L468.65 174.95 Z" fill="#dfc9c9" stroke="#b78f8f" stroke-width="0.6" stroke-linejoin="round"/>
<text x="388.20" y="173.55" font-size="7" text-anchor="end" fill="#222">ASPC1</text>
<line x1="394.00" y1="187.32" x2="490.60" y2="187.32" stroke="#56793f" stroke-width="0.5" stroke-opacity="0.35"/>
<path d="M420.72 187.62 L420.72 187.30 L421.16 187.24 L421.61 187.17 L422.06 187.09 L422.51 187.00 L422.95 186.90 L423.40 186.78 L423.85 186.65 L424.30 186.51 L424.75 186.35 L425.19 186.17 L425.64 185.97 L426.09 185.75 L426.54 185.51 L426.98 185.25 L427.43 184.98 L427.88 184.68 L428.33 184.36 L428.77 184.02 L429.22 183.66 L429.67 183.28 L430.12 182.89 L430.57 182.48 L431.01 182.06 L431.46 181.63 L431.91 181.19 L432.36 180.75 L432.80 180.30 L433.25 179.87 L433.70 179.43 L434.15 179.01 L434.60 178.61 L435.04 178.22 L435.49 177.86 L435.94 177.53 L436.39 177.23 L436.83 176.96 L437.28 176.73 L437.73 176.54 L438.18 176.39 L438.62 176.29 L439.07 176.23 L439.52 176.22 L439.97 176.29 L440.42 176.45 L440.86 176.70 L441.31 177.02 L441.76 177.42 L442.21 177.88 L442.65 178.39 L443.10 178.95 L443.55 179.54 L444.00 180.15 L444.45 180.77 L444.89 181.38 L445.34 181.99 L445.79 182.58 L446.24 183.14 L446.68 183.67 L447.13 184.17 L447.58 184.63 L448.03 185.05 L448.47 185.42 L448.92 185.76 L449.37 186.06 L449.82 186.32 L450.27 186.54 L450.71 186.74 L451.16 186.90 L451.61 187.04 L452.06 187.16 L452.50 187.25 L452.95 187.33 L452.95 187.62 Z" fill="#a4bb92" stroke="#56793f" stroke-width="0.6" stroke-linejoin="round"/>
<text x="388.20" y="186.22" font-size="7" text-anchor="end" fill="#222">SW1990</text>
<line x1="394.00" y1="199.99" x2="490.60" y2="199.99" stroke="#78e24a" stroke-width="0.5" stroke-opacity="0.35"/>
<path d="M441.10 200.29 L441.10 200.01 L441.54 199.92 L441.98 199.82 L442.42 199.69 L442.86 199.53 L443.31 199.34 L443.75 199.12 L444.19 198.85 L444.63 198.55 L445.07 198.19 L445.51 197.79 L445.96 197.35 L446.40 196.85 L446.84 196.31 L447.28 195.73 L447.72 195.12 L448.16 194.48 L448.60 193.82 L449.05 193.16 L449.49 192.50 L449.93 191.87 L450.37 191.27 L450.81 190.72 L451.25 190.24 L451.70 189.83 L452.14 189.51 L452.58 189.28 L453.02 189.16 L453.46 189.15 L453.90 189.27 L454.34 189.51 L454.79 189.88 L455.23 190.36 L455.67 190.93 L456.11 191.58 L456.55 192.28 L456.99 193.01 L457.44 193.76 L457.88 194.50 L458.32 195.21 L458.76 195.90 L459.20 196.54 L459.64 197.12 L460.08 197.64 L460.53 198.11 L460.97 198.51 L461.41 198.86 L461.85 199.16 L462.29 199.40 L462.73 199.60 L463.18 199.76 L463.62 199.89 L464.06 199.99 L464.06 200.29 Z" fill="#b9f79b" stroke="#78e24a" stroke-width="0.6" stroke-linejoin="round"/>
<text x="388.20" y="198.89" font-size="7" text-anchor="end" fill="#222">BXPC-3</text>
<line x1="394.00" y1="212.66" x2="490.60" y2="212.66" stroke="#e2a466" stroke-width="0.5" stroke-opacity="0.35"/>
<path d="M436.69 212.96 L436.69 212.63 L437.14 212.56 L437.59 212.47 L438.03 212.38 L438.48 212.26 L438.92 212.13 L439.37 211.98 L439.82 211.81 L440.26 211.61 L440.71 211.39 L441.16 211.15 L441.60 210.88 L442.05 210.58 L442.50 210.26 L442.94 209.91 L443.39 209.53 L443.83 209.12 L444.28 208.70 L444.73 208.25 L445.17 207.78 L445.62 207.29 L446.07 206.80 L446.51 206.30 L446.96 205.79 L447.41 205.29 L447.85 204.81 L448.30 204.34 L448.74 203.89 L449.19 203.47 L449.64 203.09 L450.08 202.75 L450.53 202.45 L450.98 202.21 L451.42 202.02 L451.87 201.89 L452.32 201.82 L452.76 201.82 L453.21 201.89 L453.66 202.06 L454.10 202.30 L454.55 202.63 L454.99 203.02 L455.44 203.47 L455.89 203.98 L456.33 204.52 L456.78 205.10 L457.23 205.69 L457.67 206.30 L458.12 206.90 L458.57 207.49 L459.01 208.06 L459.46 208.61 L459.90 209.12 L460.35 209.61 L460.80 210.05 L461.24 210.46 L461.69 210.82 L462.14 211.15 L462.58 211.44 L463.03 211.69 L463.48 211.91 L463.92 212.10 L464.37 212.26 L464.81 212.40 L465.26 212.51 L465.71 212.60 L466.15 212.68 L466.15 212.96 Z" fill="#eecaa2" stroke="#e2a466" stroke-width="0.6" stroke-linejoin="round"/>
<text x="388.20" y="211.56" font-size="7" text-anchor="end" fill="#222">PANC01</text>
<line x1="394.00" y1="225.33" x2="490.60" y2="225.33" stroke="#e35858" stroke-width="0.5" stroke-opacity="0.35"/>
<path d="M439.50 225.63 L439.50 225.24 L439.94 225.10 L440.38 224.91 L440.82 224.67 L441.26 224.37 L441.70 224.00 L442.14 223.56 L442.58 223.04 L443.01 222.44 L443.45 221.76 L443.89 221.01 L444.33 220.21 L444.77 219.36 L445.21 218.49 L445.65 217.63 L446.09 216.81 L446.53 216.05 L446.97 215.40 L447.41 214.87 L447.85 214.49 L448.29 214.27 L448.73 214.23 L449.17 214.38 L449.61 214.69 L450.05 215.16 L450.49 215.77 L450.93 216.49 L451.37 217.29 L451.81 218.13 L452.25 219.00 L452.69 219.86 L453.12 220.69 L453.56 221.46 L454.00 222.17 L454.44 222.80 L454.88 223.35 L455.32 223.83 L455.76 224.23 L456.20 224.55 L456.64 224.82 L457.08 225.02 L457.52 225.19 L457.96 225.31 L457.96 225.63 Z" fill="#f1a9a9" stroke="#e35858" stroke-width="0.6" stroke-linejoin="round"/>
<text x="388.20" y="224.23" font-size="7" text-anchor="end" fill="#222">IL-10+IL-4</text>
<line x1="394.00" y1="238.00" x2="490.60" y2="238.00" stroke="#4fe6f2" stroke-width="0.5" stroke-opacity="0.35"/>
<path d="M423.21 238.30 L423.21 237.96 L423.66 237.87 L424.10 237.76 L424.55 237.62 L425.00 237.47 L425.44 237.28 L425.89 237.06 L426.33 236.81 L426.78 236.52 L427.23 236.19 L427.67 235.82 L428.12 235.41 L428.57 234.95 L429.01 234.46 L429.46 233.93 L429.91 233.36 L430.35 232.77 L430.80 232.15 L431.24 231.52 L431.69 230.88 L432.14 230.25 L432.58 229.63 L433.03 229.04 L433.48 228.49 L433.92 227.98 L434.37 227.54 L434.82 227.17 L435.26 226.87 L435.71 226.66 L436.16 226.54 L436.60 226.52 L437.05 226.60 L437.49 226.80 L437.94 227.11 L438.39 227.51 L438.83 228.00 L439.28 228.56 L439.73 229.19 L440.17 229.85 L440.62 230.55 L441.07 231.26 L441.51 231.96 L441.96 232.65 L442.40 233.32 L442.85 233.95 L443.30 234.53 L443.74 235.07 L444.19 235.56 L444.64 236.00 L445.08 236.39 L445.53 236.73 L445.98 237.02 L446.42 237.26 L446.87 237.47 L447.31 237.64 L447.76 237.79 L448.21 237.90 L448.65 237.99 L448.65 238.30 Z" fill="#a4f6fa" stroke="#4fe6f2" stroke-width="0.6" stroke-linejoin="round"/>
<text x="388.20" y="236.90" font-size="7" text-anchor="end" fill="#222">LPS+IFN-γ</text>
<line x1="394.00" y1="148.30" x2="490.60" y2="148.30" stroke="#8a8a8a" stroke-width="1.1"/>
<line x1="490.60" y1="148.30" x2="490.60" y2="238.30" stroke="#8a8a8a" stroke-width="1"/>
<line x1="394.00" y1="238.30" x2="490.60" y2="238.30" stroke="#8a8a8a" stroke-width="1"/>
<text x="437.60" y="144.70" font-size="9.2" text-anchor="middle" fill="#111">CD206</text>
<text x="397.50" y="248.00" font-size="7" text-anchor="middle" fill="#222">-10<tspan font-size="4.34" dy="-2.66">3</tspan></text>
<text x="418.50" y="248.00" font-size="7" text-anchor="middle" fill="#222">0</text>
<text x="437.80" y="248.00" font-size="7" text-anchor="middle" fill="#222">10<tspan font-size="4.34" dy="-2.66">3</tspan></text>
<text x="460.60" y="248.00" font-size="7" text-anchor="middle" fill="#222">10<tspan font-size="4.34" dy="-2.66">4</tspan></text>
<text x="484.20" y="248.00" font-size="7" text-anchor="middle" fill="#222">10<tspan font-size="4.34" dy="-2.66">5</tspan></text>
<g transform="translate(167.30 10.23) scale(0.88 1)"><text x="0" y="0" font-size="11.5" font-weight="bold" fill="#000">B</text></g>
<line x1="200.10" y1="17.20" x2="200.10" y2="103.80" stroke="#222" stroke-width="0.9"/>
<line x1="200.10" y1="103.40" x2="331.70" y2="103.40" stroke="#222" stroke-width="0.9"/>
<line x1="197.10" y1="103.40" x2="200.10" y2="103.40" stroke="#222" stroke-width="0.8"/>
<text x="196.50" y="106.64" font-size="9" text-anchor="end" fill="#222">0</text>
<line x1="197.10" y1="81.85" x2="200.10" y2="81.85" stroke="#222" stroke-width="0.8"/>
<text x="196.50" y="85.09" font-size="9" text-anchor="end" fill="#222">2</text>
<line x1="197.10" y1="60.30" x2="200.10" y2="60.30" stroke="#222" stroke-width="0.8"/>
<text x="196.50" y="63.54" font-size="9" text-anchor="end" fill="#222">4</text>
<line x1="197.10" y1="38.75" x2="200.10" y2="38.75" stroke="#222" stroke-width="0.8"/>
<text x="196.50" y="41.99" font-size="9" text-anchor="end" fill="#222">6</text>
<line x1="197.10" y1="17.20" x2="200.10" y2="17.20" stroke="#222" stroke-width="0.8"/>
<text x="196.50" y="20.44" font-size="9" text-anchor="end" fill="#222">8</text>
<text x="185.50" y="51.80" font-size="9.3" text-anchor="middle" fill="#222" transform="rotate(-90 185.5 51.8)">Relative MFI</text>
<rect x="207.15" y="93.08" width="10.80" height="10.33" fill="#8490f7" stroke="#3d4cf3" stroke-width="0.9"/>
<line x1="212.55" y1="103.40" x2="212.55" y2="105.90" stroke="#222" stroke-width="0.8"/>
<circle cx="209.35" cy="92.62" r="0.95" fill="#3d4cf3"/>
<circle cx="212.55" cy="92.62" r="0.95" fill="#3d4cf3"/>
<circle cx="215.75" cy="92.62" r="0.95" fill="#3d4cf3"/>
<text x="214.25" y="110.40" font-size="7.3" text-anchor="end" fill="#222" transform="rotate(-45 214.25 110.4)">LPS+IFN-γ</text>
<rect x="225.07" y="84.46" width="10.80" height="18.95" fill="#f2897d" stroke="#ea4a3c" stroke-width="0.9"/>
<line x1="230.47" y1="103.40" x2="230.47" y2="105.90" stroke="#222" stroke-width="0.8"/>
<line x1="230.47" y1="82.71" x2="230.47" y2="85.30" stroke="#ea4a3c" stroke-width="0.8"/>
<line x1="227.47" y1="82.71" x2="233.47" y2="82.71" stroke="#ea4a3c" stroke-width="0.8"/>
<line x1="227.47" y1="85.30" x2="233.47" y2="85.30" stroke="#ea4a3c" stroke-width="0.8"/>
<circle cx="230.47" cy="82.71" r="0.95" fill="#ea4a3c"/>
<circle cx="230.47" cy="84.54" r="0.95" fill="#ea4a3c"/>
<text x="230.47" y="80.62" font-size="9" text-anchor="middle" fill="#222">***</text>
<text x="232.17" y="110.40" font-size="7.3" text-anchor="end" fill="#222" transform="rotate(-45 232.17 110.4)">IL10+IL-4</text>
<rect x="242.99" y="74.54" width="10.80" height="28.86" fill="#90f57e" stroke="#49e02c" stroke-width="0.9"/>
<line x1="248.39" y1="103.40" x2="248.39" y2="105.90" stroke="#222" stroke-width="0.8"/>
<line x1="248.39" y1="73.01" x2="248.39" y2="75.17" stroke="#49e02c" stroke-width="0.8"/>
<line x1="245.39" y1="73.01" x2="251.39" y2="73.01" stroke="#49e02c" stroke-width="0.8"/>
<line x1="245.39" y1="75.17" x2="251.39" y2="75.17" stroke="#49e02c" stroke-width="0.8"/>
<circle cx="248.39" cy="72.69" r="0.95" fill="#49e02c"/>
<circle cx="248.39" cy="74.31" r="0.95" fill="#49e02c"/>
<text x="248.39" y="71.02" font-size="9" text-anchor="middle" fill="#222">***</text>
<text x="250.09" y="110.40" font-size="7.3" text-anchor="end" fill="#222" transform="rotate(-45 250.09 110.4)">ASPC-1</text>
<rect x="260.91" y="59.67" width="10.80" height="43.73" fill="#da8cf5" stroke="#c24ae9" stroke-width="0.9"/>
<line x1="266.31" y1="103.40" x2="266.31" y2="105.90" stroke="#222" stroke-width="0.8"/>
<line x1="266.31" y1="48.45" x2="266.31" y2="70.00" stroke="#c24ae9" stroke-width="0.8"/>
<line x1="263.31" y1="48.45" x2="269.31" y2="48.45" stroke="#c24ae9" stroke-width="0.8"/>
<line x1="263.31" y1="70.00" x2="269.31" y2="70.00" stroke="#c24ae9" stroke-width="0.8"/>
<circle cx="266.31" cy="40.91" r="0.95" fill="#c24ae9"/>
<circle cx="266.31" cy="77.22" r="0.95" fill="#c24ae9"/>
<text x="266.31" y="39.82" font-size="9" text-anchor="middle" fill="#222">*</text>
<text x="268.01" y="110.40" font-size="7.3" text-anchor="end" fill="#222" transform="rotate(-45 268.01 110.4)">ASPC-1/GEM</text>
<rect x="278.83" y="71.53" width="10.80" height="31.88" fill="#f0c488" stroke="#eba24a" stroke-width="0.9"/>
<line x1="284.23" y1="103.40" x2="284.23" y2="105.90" stroke="#222" stroke-width="0.8"/>
<line x1="284.23" y1="65.69" x2="284.23" y2="76.46" stroke="#eba24a" stroke-width="0.8"/>
<line x1="281.23" y1="65.69" x2="287.23" y2="65.69" stroke="#eba24a" stroke-width="0.8"/>
<line x1="281.23" y1="76.46" x2="287.23" y2="76.46" stroke="#eba24a" stroke-width="0.8"/>
<circle cx="284.23" cy="62.78" r="0.95" fill="#eba24a"/>
<circle cx="284.23" cy="80.99" r="0.95" fill="#eba24a"/>
<text x="284.23" y="62.22" font-size="9" text-anchor="middle" fill="#222">*</text>
<text x="285.93" y="110.40" font-size="7.3" text-anchor="end" fill="#222" transform="rotate(-45 285.93 110.4)">BXPC-3</text>
<rect x="296.75" y="88.44" width="10.80" height="14.96" fill="#6d6d6d" stroke="#2e2e2e" stroke-width="0.9"/>
<line x1="302.15" y1="103.40" x2="302.15" y2="105.90" stroke="#222" stroke-width="0.8"/>
<line x1="302.15" y1="85.30" x2="302.15" y2="90.69" stroke="#2e2e2e" stroke-width="0.8"/>
<line x1="299.15" y1="85.30" x2="305.15" y2="85.30" stroke="#2e2e2e" stroke-width="0.8"/>
<line x1="299.15" y1="90.69" x2="305.15" y2="90.69" stroke="#2e2e2e" stroke-width="0.8"/>
<circle cx="302.15" cy="82.93" r="0.95" fill="#2e2e2e"/>
<circle cx="302.15" cy="89.93" r="0.95" fill="#2e2e2e"/>
<text x="302.15" y="79.90" font-size="10" text-anchor="middle" fill="#111">NS</text>
<text x="303.85" y="110.40" font-size="7.3" text-anchor="end" fill="#222" transform="rotate(-45 303.85 110.4)">SW1990</text>
<rect x="314.67" y="57.63" width="10.80" height="45.77" fill="#d6c08e" stroke="#b09963" stroke-width="0.9"/>
<line x1="320.07" y1="103.40" x2="320.07" y2="105.90" stroke="#222" stroke-width="0.8"/>
<line x1="320.07" y1="51.79" x2="320.07" y2="62.56" stroke="#b09963" stroke-width="0.8"/>
<line x1="317.07" y1="51.79" x2="323.07" y2="51.79" stroke="#b09963" stroke-width="0.8"/>
<line x1="317.07" y1="62.56" x2="323.07" y2="62.56" stroke="#b09963" stroke-width="0.8"/>
<circle cx="320.07" cy="46.72" r="0.95" fill="#b09963"/>
<circle cx="320.07" cy="65.69" r="0.95" fill="#b09963"/>
<circle cx="320.07" cy="59.22" r="0.95" fill="#b09963"/>
<text x="320.07" y="45.92" font-size="9" text-anchor="middle" fill="#222">**</text>
<text x="321.77" y="110.40" font-size="7.3" text-anchor="end" fill="#222" transform="rotate(-45 321.77 110.4)">PANC-1</text>
<g transform="translate(496.30 10.13) scale(0.88 1)"><text x="0" y="0" font-size="11.5" font-weight="bold" fill="#000">D</text></g>
<line x1="534.60" y1="17.20" x2="534.60" y2="103.80" stroke="#222" stroke-width="0.9"/>
<line x1="534.60" y1="103.40" x2="665.80" y2="103.40" stroke="#222" stroke-width="0.9"/>
<line x1="531.60" y1="103.40" x2="534.60" y2="103.40" stroke="#222" stroke-width="0.8"/>
<text x="531.00" y="106.64" font-size="9" text-anchor="end" fill="#222">0.0</text>
<line x1="531.60" y1="74.67" x2="534.60" y2="74.67" stroke="#222" stroke-width="0.8"/>
<text x="531.00" y="77.91" font-size="9" text-anchor="end" fill="#222">0.5</text>
<line x1="531.60" y1="45.93" x2="534.60" y2="45.93" stroke="#222" stroke-width="0.8"/>
<text x="531.00" y="49.17" font-size="9" text-anchor="end" fill="#222">1.0</text>
<line x1="531.60" y1="17.20" x2="534.60" y2="17.20" stroke="#222" stroke-width="0.8"/>
<text x="531.00" y="20.44" font-size="9" text-anchor="end" fill="#222">1.5</text>
<text x="514.30" y="51.80" font-size="9.3" text-anchor="middle" fill="#222" transform="rotate(-90 514.3 51.8)">Relative MFI</text>
<rect x="540.55" y="46.38" width="10.80" height="57.02" fill="#8490f7" stroke="#3d4cf3" stroke-width="0.9"/>
<line x1="545.95" y1="103.40" x2="545.95" y2="105.90" stroke="#222" stroke-width="0.8"/>
<circle cx="542.75" cy="45.93" r="0.95" fill="#3d4cf3"/>
<circle cx="545.95" cy="45.93" r="0.95" fill="#3d4cf3"/>
<circle cx="549.15" cy="45.93" r="0.95" fill="#3d4cf3"/>
<text x="547.65" y="110.40" font-size="7.3" text-anchor="end" fill="#222" transform="rotate(-45 547.65 110.4)">LPS+IFN-γ</text>
<rect x="558.55" y="70.81" width="10.80" height="32.59" fill="#f2897d" stroke="#ea4a3c" stroke-width="0.9"/>
<line x1="563.95" y1="103.40" x2="563.95" y2="105.90" stroke="#222" stroke-width="0.8"/>
<line x1="563.95" y1="68.06" x2="563.95" y2="72.66" stroke="#ea4a3c" stroke-width="0.8"/>
<line x1="560.95" y1="68.06" x2="566.95" y2="68.06" stroke="#ea4a3c" stroke-width="0.8"/>
<line x1="560.95" y1="72.66" x2="566.95" y2="72.66" stroke="#ea4a3c" stroke-width="0.8"/>
<circle cx="563.95" cy="66.62" r="0.95" fill="#ea4a3c"/>
<circle cx="563.95" cy="71.79" r="0.95" fill="#ea4a3c"/>
<text x="563.95" y="66.22" font-size="9" text-anchor="middle" fill="#222">***</text>
<text x="565.65" y="110.40" font-size="7.3" text-anchor="end" fill="#222" transform="rotate(-45 565.65 110.4)">IL10+IL-4</text>
<rect x="576.55" y="80.29" width="10.80" height="23.11" fill="#90f57e" stroke="#49e02c" stroke-width="0.9"/>
<line x1="581.95" y1="103.40" x2="581.95" y2="105.90" stroke="#222" stroke-width="0.8"/>
<line x1="581.95" y1="76.10" x2="581.95" y2="83.57" stroke="#49e02c" stroke-width="0.8"/>
<line x1="578.95" y1="76.10" x2="584.95" y2="76.10" stroke="#49e02c" stroke-width="0.8"/>
<line x1="578.95" y1="83.57" x2="584.95" y2="83.57" stroke="#49e02c" stroke-width="0.8"/>
<circle cx="581.95" cy="76.39" r="0.95" fill="#49e02c"/>
<circle cx="581.95" cy="86.73" r="0.95" fill="#49e02c"/>
<text x="581.95" y="72.32" font-size="9" text-anchor="middle" fill="#222">***</text>
<text x="583.65" y="110.40" font-size="7.3" text-anchor="end" fill="#222" transform="rotate(-45 583.65 110.4)">ASPC-1</text>
<rect x="594.55" y="79.14" width="10.80" height="24.26" fill="#da8cf5" stroke="#c24ae9" stroke-width="0.9"/>
<line x1="599.95" y1="103.40" x2="599.95" y2="105.90" stroke="#222" stroke-width="0.8"/>
<line x1="599.95" y1="71.79" x2="599.95" y2="85.59" stroke="#c24ae9" stroke-width="0.8"/>
<line x1="596.95" y1="71.79" x2="602.95" y2="71.79" stroke="#c24ae9" stroke-width="0.8"/>
<line x1="596.95" y1="85.59" x2="602.95" y2="85.59" stroke="#c24ae9" stroke-width="0.8"/>
<circle cx="599.95" cy="71.22" r="0.95" fill="#c24ae9"/>
<circle cx="599.95" cy="90.76" r="0.95" fill="#c24ae9"/>
<text x="599.95" y="66.82" font-size="9" text-anchor="middle" fill="#222">**</text>
<text x="601.65" y="110.40" font-size="7.3" text-anchor="end" fill="#222" transform="rotate(-45 601.65 110.4)">ASPC-1/GEM</text>
<rect x="612.55" y="79.71" width="10.80" height="23.69" fill="#f0c488" stroke="#eba24a" stroke-width="0.9"/>
<line x1="617.95" y1="103.40" x2="617.95" y2="105.90" stroke="#222" stroke-width="0.8"/>
<line x1="617.95" y1="76.39" x2="617.95" y2="82.14" stroke="#eba24a" stroke-width="0.8"/>
<line x1="614.95" y1="76.39" x2="620.95" y2="76.39" stroke="#eba24a" stroke-width="0.8"/>
<line x1="614.95" y1="82.14" x2="620.95" y2="82.14" stroke="#eba24a" stroke-width="0.8"/>
<circle cx="617.95" cy="74.67" r="0.95" fill="#eba24a"/>
<circle cx="617.95" cy="82.14" r="0.95" fill="#eba24a"/>
<text x="617.95" y="73.92" font-size="9" text-anchor="middle" fill="#222">***</text>
<text x="619.65" y="110.40" font-size="7.3" text-anchor="end" fill="#222" transform="rotate(-45 619.65 110.4)">BXPC-3</text>
<rect x="630.55" y="68.80" width="10.80" height="34.60" fill="#6d6d6d" stroke="#2e2e2e" stroke-width="0.9"/>
<line x1="635.95" y1="103.40" x2="635.95" y2="105.90" stroke="#222" stroke-width="0.8"/>
<line x1="635.95" y1="59.15" x2="635.95" y2="77.54" stroke="#2e2e2e" stroke-width="0.8"/>
<line x1="632.95" y1="59.15" x2="638.95" y2="59.15" stroke="#2e2e2e" stroke-width="0.8"/>
<line x1="632.95" y1="77.54" x2="638.95" y2="77.54" stroke="#2e2e2e" stroke-width="0.8"/>
<circle cx="635.95" cy="51.68" r="0.95" fill="#2e2e2e"/>
<circle cx="635.95" cy="83.29" r="0.95" fill="#2e2e2e"/>
<text x="635.95" y="49.90" font-size="10" text-anchor="middle" fill="#111">NS</text>
<text x="637.65" y="110.40" font-size="7.3" text-anchor="end" fill="#222" transform="rotate(-45 637.65 110.4)">SW1990</text>
<rect x="648.55" y="90.63" width="10.80" height="12.77" fill="#d6c08e" stroke="#b09963" stroke-width="0.9"/>
<line x1="653.95" y1="103.40" x2="653.95" y2="105.90" stroke="#222" stroke-width="0.8"/>
<line x1="653.95" y1="86.16" x2="653.95" y2="94.21" stroke="#b09963" stroke-width="0.8"/>
<line x1="650.95" y1="86.16" x2="656.95" y2="86.16" stroke="#b09963" stroke-width="0.8"/>
<line x1="650.95" y1="94.21" x2="656.95" y2="94.21" stroke="#b09963" stroke-width="0.8"/>
<circle cx="653.95" cy="84.44" r="0.95" fill="#b09963"/>
<circle cx="653.95" cy="95.93" r="0.95" fill="#b09963"/>
<text x="653.95" y="83.12" font-size="9" text-anchor="middle" fill="#222">***</text>
<text x="655.65" y="110.40" font-size="7.3" text-anchor="end" fill="#222" transform="rotate(-45 655.65 110.4)">PANC-1</text>
<g transform="translate(167.90 143.53) scale(0.88 1)"><text x="0" y="0" font-size="11.5" font-weight="bold" fill="#000">F</text></g>
<line x1="200.10" y1="156.90" x2="200.10" y2="243.00" stroke="#222" stroke-width="0.9"/>
<line x1="200.10" y1="242.60" x2="331.70" y2="242.60" stroke="#222" stroke-width="0.9"/>
<line x1="197.10" y1="242.60" x2="200.10" y2="242.60" stroke="#222" stroke-width="0.8"/>
<text x="196.50" y="245.84" font-size="9" text-anchor="end" fill="#222">0</text>
<line x1="197.10" y1="221.18" x2="200.10" y2="221.18" stroke="#222" stroke-width="0.8"/>
<text x="196.50" y="224.42" font-size="9" text-anchor="end" fill="#222">2</text>
<line x1="197.10" y1="199.75" x2="200.10" y2="199.75" stroke="#222" stroke-width="0.8"/>
<text x="196.50" y="202.99" font-size="9" text-anchor="end" fill="#222">4</text>
<line x1="197.10" y1="178.32" x2="200.10" y2="178.32" stroke="#222" stroke-width="0.8"/>
<text x="196.50" y="181.56" font-size="9" text-anchor="end" fill="#222">6</text>
<line x1="197.10" y1="156.90" x2="200.10" y2="156.90" stroke="#222" stroke-width="0.8"/>
<text x="196.50" y="160.14" font-size="9" text-anchor="end" fill="#222">8</text>
<text x="185.50" y="191.25" font-size="9.3" text-anchor="middle" fill="#222" transform="rotate(-90 185.5 191.25)">Relative MFI</text>
<rect x="207.15" y="232.34" width="10.80" height="10.26" fill="#8490f7" stroke="#3d4cf3" stroke-width="0.9"/>
<line x1="212.55" y1="242.60" x2="212.55" y2="245.10" stroke="#222" stroke-width="0.8"/>
<circle cx="209.35" cy="231.89" r="0.95" fill="#3d4cf3"/>
<circle cx="212.55" cy="231.89" r="0.95" fill="#3d4cf3"/>
<circle cx="215.75" cy="231.89" r="0.95" fill="#3d4cf3"/>
<text x="214.25" y="249.60" font-size="7.3" text-anchor="end" fill="#222" transform="rotate(-45 214.25 249.6)">LPS+IFN-γ</text>
<rect x="225.07" y="204.70" width="10.80" height="37.90" fill="#f2897d" stroke="#ea4a3c" stroke-width="0.9"/>
<line x1="230.47" y1="242.60" x2="230.47" y2="245.10" stroke="#222" stroke-width="0.8"/>
<line x1="230.47" y1="201.04" x2="230.47" y2="207.46" stroke="#ea4a3c" stroke-width="0.8"/>
<line x1="227.47" y1="201.04" x2="233.47" y2="201.04" stroke="#ea4a3c" stroke-width="0.8"/>
<line x1="227.47" y1="207.46" x2="233.47" y2="207.46" stroke="#ea4a3c" stroke-width="0.8"/>
<circle cx="230.47" cy="198.68" r="0.95" fill="#ea4a3c"/>
<circle cx="230.47" cy="207.25" r="0.95" fill="#ea4a3c"/>
<text x="230.47" y="198.62" font-size="9" text-anchor="middle" fill="#222">***</text>
<text x="232.17" y="249.60" font-size="7.3" text-anchor="end" fill="#222" transform="rotate(-45 232.17 249.6)">IL10+IL-4</text>
<rect x="242.99" y="182.63" width="10.80" height="59.97" fill="#90f57e" stroke="#49e02c" stroke-width="0.9"/>
<line x1="248.39" y1="242.60" x2="248.39" y2="245.10" stroke="#222" stroke-width="0.8"/>
<line x1="248.39" y1="177.90" x2="248.39" y2="186.47" stroke="#49e02c" stroke-width="0.8"/>
<line x1="245.39" y1="177.90" x2="251.39" y2="177.90" stroke="#49e02c" stroke-width="0.8"/>
<line x1="245.39" y1="186.47" x2="251.39" y2="186.47" stroke="#49e02c" stroke-width="0.8"/>
<circle cx="248.39" cy="175.11" r="0.95" fill="#49e02c"/>
<circle cx="248.39" cy="189.04" r="0.95" fill="#49e02c"/>
<text x="248.39" y="174.02" font-size="9" text-anchor="middle" fill="#222">***</text>
<text x="250.09" y="249.60" font-size="7.3" text-anchor="end" fill="#222" transform="rotate(-45 250.09 249.6)">ASPC-1</text>
<rect x="260.91" y="216.27" width="10.80" height="26.33" fill="#da8cf5" stroke="#c24ae9" stroke-width="0.9"/>
<line x1="266.31" y1="242.60" x2="266.31" y2="245.10" stroke="#222" stroke-width="0.8"/>
<line x1="266.31" y1="211.53" x2="266.31" y2="220.10" stroke="#c24ae9" stroke-width="0.8"/>
<line x1="263.31" y1="211.53" x2="269.31" y2="211.53" stroke="#c24ae9" stroke-width="0.8"/>
<line x1="263.31" y1="220.10" x2="269.31" y2="220.10" stroke="#c24ae9" stroke-width="0.8"/>
<circle cx="266.31" cy="211.53" r="0.95" fill="#c24ae9"/>
<circle cx="266.31" cy="220.10" r="0.95" fill="#c24ae9"/>
<text x="266.31" y="206.42" font-size="9" text-anchor="middle" fill="#222">*</text>
<text x="268.01" y="249.60" font-size="7.3" text-anchor="end" fill="#222" transform="rotate(-45 268.01 249.6)">ASPC-1/GEM</text>
<rect x="278.83" y="176.63" width="10.80" height="65.97" fill="#f0c488" stroke="#eba24a" stroke-width="0.9"/>
<line x1="284.23" y1="242.60" x2="284.23" y2="245.10" stroke="#222" stroke-width="0.8"/>
<line x1="284.23" y1="172.43" x2="284.23" y2="179.93" stroke="#eba24a" stroke-width="0.8"/>
<line x1="281.23" y1="172.43" x2="287.23" y2="172.43" stroke="#eba24a" stroke-width="0.8"/>
<line x1="281.23" y1="179.93" x2="287.23" y2="179.93" stroke="#eba24a" stroke-width="0.8"/>
<circle cx="284.23" cy="172.97" r="0.95" fill="#eba24a"/>
<circle cx="284.23" cy="179.40" r="0.95" fill="#eba24a"/>
<text x="284.23" y="169.12" font-size="9" text-anchor="middle" fill="#222">***</text>
<text x="285.93" y="249.60" font-size="7.3" text-anchor="end" fill="#222" transform="rotate(-45 285.93 249.6)">BXPC-3</text>
<rect x="296.75" y="173.85" width="10.80" height="68.75" fill="#6d6d6d" stroke="#2e2e2e" stroke-width="0.9"/>
<line x1="302.15" y1="242.60" x2="302.15" y2="245.10" stroke="#222" stroke-width="0.8"/>
<line x1="302.15" y1="168.58" x2="302.15" y2="178.22" stroke="#2e2e2e" stroke-width="0.8"/>
<line x1="299.15" y1="168.58" x2="305.15" y2="168.58" stroke="#2e2e2e" stroke-width="0.8"/>
<line x1="299.15" y1="178.22" x2="305.15" y2="178.22" stroke="#2e2e2e" stroke-width="0.8"/>
<circle cx="302.15" cy="167.61" r="0.95" fill="#2e2e2e"/>
<circle cx="302.15" cy="182.61" r="0.95" fill="#2e2e2e"/>
<text x="302.15" y="163.72" font-size="9" text-anchor="middle" fill="#222">***</text>
<text x="303.85" y="249.60" font-size="7.3" text-anchor="end" fill="#222" transform="rotate(-45 303.85 249.6)">SW1990</text>
<rect x="314.67" y="178.77" width="10.80" height="63.82" fill="#d6c08e" stroke="#b09963" stroke-width="0.9"/>
<line x1="320.07" y1="242.60" x2="320.07" y2="245.10" stroke="#222" stroke-width="0.8"/>
<line x1="320.07" y1="176.18" x2="320.07" y2="180.47" stroke="#b09963" stroke-width="0.8"/>
<line x1="317.07" y1="176.18" x2="323.07" y2="176.18" stroke="#b09963" stroke-width="0.8"/>
<line x1="317.07" y1="180.47" x2="323.07" y2="180.47" stroke="#b09963" stroke-width="0.8"/>
<circle cx="320.07" cy="176.18" r="0.95" fill="#b09963"/>
<circle cx="320.07" cy="179.40" r="0.95" fill="#b09963"/>
<text x="320.07" y="174.52" font-size="9" text-anchor="middle" fill="#222">***</text>
<text x="321.77" y="249.60" font-size="7.3" text-anchor="end" fill="#222" transform="rotate(-45 321.77 249.6)">PANC-1</text>
<g transform="translate(496.20 143.53) scale(0.88 1)"><text x="0" y="0" font-size="11.5" font-weight="bold" fill="#000">H</text></g>
<line x1="534.10" y1="157.60" x2="534.10" y2="243.70" stroke="#222" stroke-width="0.9"/>
<line x1="534.10" y1="243.30" x2="665.80" y2="243.30" stroke="#222" stroke-width="0.9"/>
<line x1="531.10" y1="243.30" x2="534.10" y2="243.30" stroke="#222" stroke-width="0.8"/>
<text x="530.50" y="246.54" font-size="9" text-anchor="end" fill="#222">0</text>
<line x1="531.10" y1="221.88" x2="534.10" y2="221.88" stroke="#222" stroke-width="0.8"/>
<text x="530.50" y="225.12" font-size="9" text-anchor="end" fill="#222">2</text>
<line x1="531.10" y1="200.45" x2="534.10" y2="200.45" stroke="#222" stroke-width="0.8"/>
<text x="530.50" y="203.69" font-size="9" text-anchor="end" fill="#222">4</text>
<line x1="531.10" y1="179.03" x2="534.10" y2="179.03" stroke="#222" stroke-width="0.8"/>
<text x="530.50" y="182.27" font-size="9" text-anchor="end" fill="#222">6</text>
<line x1="531.10" y1="157.60" x2="534.10" y2="157.60" stroke="#222" stroke-width="0.8"/>
<text x="530.50" y="160.84" font-size="9" text-anchor="end" fill="#222">8</text>
<text x="514.30" y="191.95" font-size="9.3" text-anchor="middle" fill="#222" transform="rotate(-90 514.3 191.95)">Relative MFI</text>
<rect x="540.75" y="233.04" width="10.80" height="10.26" fill="#8490f7" stroke="#3d4cf3" stroke-width="0.9"/>
<line x1="546.15" y1="243.30" x2="546.15" y2="245.80" stroke="#222" stroke-width="0.8"/>
<circle cx="542.95" cy="232.59" r="0.95" fill="#3d4cf3"/>
<circle cx="546.15" cy="232.59" r="0.95" fill="#3d4cf3"/>
<circle cx="549.35" cy="232.59" r="0.95" fill="#3d4cf3"/>
<text x="547.85" y="250.30" font-size="7.3" text-anchor="end" fill="#222" transform="rotate(-45 547.85 250.3)">LPS+IFN-γ</text>
<rect x="558.67" y="209.90" width="10.80" height="33.40" fill="#f2897d" stroke="#ea4a3c" stroke-width="0.9"/>
<line x1="564.07" y1="243.30" x2="564.07" y2="245.80" stroke="#222" stroke-width="0.8"/>
<line x1="564.07" y1="205.16" x2="564.07" y2="213.73" stroke="#ea4a3c" stroke-width="0.8"/>
<line x1="561.07" y1="205.16" x2="567.07" y2="205.16" stroke="#ea4a3c" stroke-width="0.8"/>
<line x1="561.07" y1="213.73" x2="567.07" y2="213.73" stroke="#ea4a3c" stroke-width="0.8"/>
<circle cx="564.07" cy="201.52" r="0.95" fill="#ea4a3c"/>
<circle cx="564.07" cy="213.31" r="0.95" fill="#ea4a3c"/>
<text x="564.07" y="200.32" font-size="9" text-anchor="middle" fill="#222">**</text>
<text x="565.77" y="250.30" font-size="7.3" text-anchor="end" fill="#222" transform="rotate(-45 565.77 250.3)">IL10+IL-4</text>
<rect x="576.59" y="182.58" width="10.80" height="60.72" fill="#90f57e" stroke="#49e02c" stroke-width="0.9"/>
<line x1="581.99" y1="243.30" x2="581.99" y2="245.80" stroke="#222" stroke-width="0.8"/>
<line x1="581.99" y1="173.03" x2="581.99" y2="191.24" stroke="#49e02c" stroke-width="0.8"/>
<line x1="578.99" y1="173.03" x2="584.99" y2="173.03" stroke="#49e02c" stroke-width="0.8"/>
<line x1="578.99" y1="191.24" x2="584.99" y2="191.24" stroke="#49e02c" stroke-width="0.8"/>
<circle cx="581.99" cy="164.03" r="0.95" fill="#49e02c"/>
<circle cx="581.99" cy="192.95" r="0.95" fill="#49e02c"/>
<text x="581.99" y="164.12" font-size="9" text-anchor="middle" fill="#222">**</text>
<text x="583.69" y="250.30" font-size="7.3" text-anchor="end" fill="#222" transform="rotate(-45 583.69 250.3)">ASPC-1</text>
<rect x="594.51" y="217.29" width="10.80" height="26.01" fill="#da8cf5" stroke="#c24ae9" stroke-width="0.9"/>
<line x1="599.91" y1="243.30" x2="599.91" y2="245.80" stroke="#222" stroke-width="0.8"/>
<line x1="599.91" y1="213.63" x2="599.91" y2="220.05" stroke="#c24ae9" stroke-width="0.8"/>
<line x1="596.91" y1="213.63" x2="602.91" y2="213.63" stroke="#c24ae9" stroke-width="0.8"/>
<line x1="596.91" y1="220.05" x2="602.91" y2="220.05" stroke="#c24ae9" stroke-width="0.8"/>
<circle cx="599.91" cy="213.31" r="0.95" fill="#c24ae9"/>
<circle cx="599.91" cy="219.73" r="0.95" fill="#c24ae9"/>
<text x="599.91" y="207.52" font-size="9" text-anchor="middle" fill="#222">*</text>
<text x="601.61" y="250.30" font-size="7.3" text-anchor="end" fill="#222" transform="rotate(-45 601.61 250.3)">ASPC-1/GEM</text>
<rect x="612.43" y="201.11" width="10.80" height="42.19" fill="#f0c488" stroke="#eba24a" stroke-width="0.9"/>
<line x1="617.83" y1="243.30" x2="617.83" y2="245.80" stroke="#222" stroke-width="0.8"/>
<line x1="617.83" y1="195.31" x2="617.83" y2="206.02" stroke="#eba24a" stroke-width="0.8"/>
<line x1="614.83" y1="195.31" x2="620.83" y2="195.31" stroke="#eba24a" stroke-width="0.8"/>
<line x1="614.83" y1="206.02" x2="620.83" y2="206.02" stroke="#eba24a" stroke-width="0.8"/>
<circle cx="617.83" cy="195.09" r="0.95" fill="#eba24a"/>
<circle cx="617.83" cy="205.81" r="0.95" fill="#eba24a"/>
<text x="617.83" y="190.22" font-size="9" text-anchor="middle" fill="#222">**</text>
<text x="619.53" y="250.30" font-size="7.3" text-anchor="end" fill="#222" transform="rotate(-45 619.53 250.3)">BXPC-3</text>
<rect x="630.35" y="229.61" width="10.80" height="13.69" fill="#6d6d6d" stroke="#2e2e2e" stroke-width="0.9"/>
<line x1="635.75" y1="243.30" x2="635.75" y2="245.80" stroke="#222" stroke-width="0.8"/>
<line x1="635.75" y1="226.48" x2="635.75" y2="231.84" stroke="#2e2e2e" stroke-width="0.8"/>
<line x1="632.75" y1="226.48" x2="638.75" y2="226.48" stroke="#2e2e2e" stroke-width="0.8"/>
<line x1="632.75" y1="231.84" x2="638.75" y2="231.84" stroke="#2e2e2e" stroke-width="0.8"/>
<circle cx="635.75" cy="226.16" r="0.95" fill="#2e2e2e"/>
<circle cx="635.75" cy="231.52" r="0.95" fill="#2e2e2e"/>
<text x="635.75" y="221.90" font-size="10" text-anchor="middle" fill="#111">NS</text>
<text x="637.45" y="250.30" font-size="7.3" text-anchor="end" fill="#222" transform="rotate(-45 637.45 250.3)">SW1990</text>
<rect x="648.27" y="201.33" width="10.80" height="41.97" fill="#d6c08e" stroke="#b09963" stroke-width="0.9"/>
<line x1="653.67" y1="243.30" x2="653.67" y2="245.80" stroke="#222" stroke-width="0.8"/>
<line x1="653.67" y1="199.27" x2="653.67" y2="202.49" stroke="#b09963" stroke-width="0.8"/>
<line x1="650.67" y1="199.27" x2="656.67" y2="199.27" stroke="#b09963" stroke-width="0.8"/>
<line x1="650.67" y1="202.49" x2="656.67" y2="202.49" stroke="#b09963" stroke-width="0.8"/>
<circle cx="653.67" cy="199.38" r="0.95" fill="#b09963"/>
<circle cx="653.67" cy="201.52" r="0.95" fill="#b09963"/>
<text x="653.67" y="196.22" font-size="9" text-anchor="middle" fill="#222">***</text>
<text x="655.37" y="250.30" font-size="7.3" text-anchor="end" fill="#222" transform="rotate(-45 655.37 250.3)">PANC-1</text>
<g transform="translate(8.30 290.73) scale(0.88 1)"><text x="0" y="0" font-size="11.5" font-weight="bold" fill="#000">I</text></g>
<rect x="83.30" y="313.00" width="69.90" height="142.80" fill="#fff" stroke="none" stroke-width="0.8"/>
<line x1="83.30" y1="322.70" x2="153.20" y2="322.70" stroke="#e4e4e4" stroke-width="0.5"/>
<line x1="83.30" y1="331.51" x2="153.20" y2="331.51" stroke="#e4e4e4" stroke-width="0.5"/>
<line x1="83.30" y1="340.33" x2="153.20" y2="340.33" stroke="#e4e4e4" stroke-width="0.5"/>
<line x1="83.30" y1="349.14" x2="153.20" y2="349.14" stroke="#e4e4e4" stroke-width="0.5"/>
<line x1="83.30" y1="357.96" x2="153.20" y2="357.96" stroke="#e4e4e4" stroke-width="0.5"/>
<line x1="83.30" y1="366.77" x2="153.20" y2="366.77" stroke="#e4e4e4" stroke-width="0.5"/>
<line x1="83.30" y1="375.59" x2="153.20" y2="375.59" stroke="#e4e4e4" stroke-width="0.5"/>
<line x1="83.30" y1="384.40" x2="153.20" y2="384.40" stroke="#e4e4e4" stroke-width="0.5"/>
<line x1="83.30" y1="393.21" x2="153.20" y2="393.21" stroke="#e4e4e4" stroke-width="0.5"/>
<line x1="83.30" y1="402.03" x2="153.20" y2="402.03" stroke="#e4e4e4" stroke-width="0.5"/>
<line x1="83.30" y1="410.84" x2="153.20" y2="410.84" stroke="#e4e4e4" stroke-width="0.5"/>
<line x1="83.30" y1="419.66" x2="153.20" y2="419.66" stroke="#e4e4e4" stroke-width="0.5"/>
<line x1="83.30" y1="428.47" x2="153.20" y2="428.47" stroke="#e4e4e4" stroke-width="0.5"/>
<line x1="83.30" y1="437.29" x2="153.20" y2="437.29" stroke="#e4e4e4" stroke-width="0.5"/>
<line x1="83.30" y1="446.10" x2="153.20" y2="446.10" stroke="#e4e4e4" stroke-width="0.5"/>
<line x1="118.20" y1="313.00" x2="118.20" y2="455.80" stroke="#e4e4e4" stroke-width="0.5"/>
<rect x="83.30" y="313.00" width="69.90" height="142.80" fill="none" stroke="#6e6e6e" stroke-width="0.7"/>
<text x="81.00" y="319.80" font-size="5.8" text-anchor="end" fill="#111" style="stroke:#111;stroke-width:0.16px">VEGFA − VEGFR1</text>
<line x1="81.50" y1="318.29" x2="83.30" y2="318.29" stroke="#333" stroke-width="0.6"/>
<text x="81.00" y="328.61" font-size="5.8" text-anchor="end" fill="#111" style="stroke:#111;stroke-width:0.16px">SPP1 − CD44</text>
<line x1="81.50" y1="327.10" x2="83.30" y2="327.10" stroke="#333" stroke-width="0.6"/>
<text x="81.00" y="337.43" font-size="5.8" text-anchor="end" fill="#111" style="stroke:#111;stroke-width:0.16px">SPP1 − (ITGA5+ITGB1)</text>
<line x1="81.50" y1="335.92" x2="83.30" y2="335.92" stroke="#333" stroke-width="0.6"/>
<text x="81.00" y="346.24" font-size="5.8" text-anchor="end" fill="#111" style="stroke:#111;stroke-width:0.16px">NAMPT − (ITGA5+ITGB1)</text>
<line x1="81.50" y1="344.73" x2="83.30" y2="344.73" stroke="#333" stroke-width="0.6"/>
<text x="81.00" y="355.06" font-size="5.8" text-anchor="end" fill="#111" style="stroke:#111;stroke-width:0.16px">MIF − (CD74+CXCR4)</text>
<line x1="81.50" y1="353.55" x2="83.30" y2="353.55" stroke="#333" stroke-width="0.6"/>
<text x="81.00" y="363.87" font-size="5.8" text-anchor="end" fill="#111" style="stroke:#111;stroke-width:0.16px">MIF − (CD74+CD44)</text>
<line x1="81.50" y1="362.36" x2="83.30" y2="362.36" stroke="#333" stroke-width="0.6"/>
<text x="81.00" y="372.69" font-size="5.8" text-anchor="end" fill="#111" style="stroke:#111;stroke-width:0.16px">MDK − SDC2</text>
<line x1="81.50" y1="371.18" x2="83.30" y2="371.18" stroke="#333" stroke-width="0.6"/>
<text x="81.00" y="381.50" font-size="5.8" text-anchor="end" fill="#111" style="stroke:#111;stroke-width:0.16px">MDK − NCL</text>
<line x1="81.50" y1="379.99" x2="83.30" y2="379.99" stroke="#333" stroke-width="0.6"/>
<text x="81.00" y="390.32" font-size="5.8" text-anchor="end" fill="#111" style="stroke:#111;stroke-width:0.16px">MDK − LRP1</text>
<line x1="81.50" y1="388.81" x2="83.30" y2="388.81" stroke="#333" stroke-width="0.6"/>
<text x="81.00" y="399.13" font-size="5.8" text-anchor="end" fill="#111" style="stroke:#111;stroke-width:0.16px">LAMC2 − CD44</text>
<line x1="81.50" y1="397.62" x2="83.30" y2="397.62" stroke="#333" stroke-width="0.6"/>
<text x="81.00" y="407.95" font-size="5.8" text-anchor="end" fill="#111" style="stroke:#111;stroke-width:0.16px">LAMB3 − CD44</text>
<line x1="81.50" y1="406.44" x2="83.30" y2="406.44" stroke="#333" stroke-width="0.6"/>
<text x="81.00" y="416.76" font-size="5.8" text-anchor="end" fill="#111" style="stroke:#111;stroke-width:0.16px">LAMA3 − CD44</text>
<line x1="81.50" y1="415.25" x2="83.30" y2="415.25" stroke="#333" stroke-width="0.6"/>
<text x="81.00" y="425.57" font-size="5.8" text-anchor="end" fill="#111" style="stroke:#111;stroke-width:0.16px">HLA−DRB1 − CD4</text>
<line x1="81.50" y1="424.07" x2="83.30" y2="424.07" stroke="#333" stroke-width="0.6"/>
<text x="81.00" y="434.39" font-size="5.8" text-anchor="end" fill="#111" style="stroke:#111;stroke-width:0.16px">HLA−DRA − CD4</text>
<line x1="81.50" y1="432.88" x2="83.30" y2="432.88" stroke="#333" stroke-width="0.6"/>
<text x="81.00" y="443.20" font-size="5.8" text-anchor="end" fill="#111" style="stroke:#111;stroke-width:0.16px">APP − CD74</text>
<line x1="81.50" y1="441.70" x2="83.30" y2="441.70" stroke="#333" stroke-width="0.6"/>
<text x="81.00" y="452.02" font-size="5.8" text-anchor="end" fill="#111" style="stroke:#111;stroke-width:0.16px">ANXA1 − FPR1</text>
<line x1="81.50" y1="450.51" x2="83.30" y2="450.51" stroke="#333" stroke-width="0.6"/>
<circle cx="102.30" cy="327.10" r="1.10" fill="#88d89c"/>
<circle cx="102.30" cy="353.55" r="1.10" fill="#df5c44"/>
<circle cx="102.30" cy="362.36" r="1.10" fill="#bd2c44"/>
<circle cx="102.30" cy="379.99" r="1.10" fill="#70cca2"/>
<circle cx="102.30" cy="388.81" r="1.10" fill="#3d64bc"/>
<circle cx="102.30" cy="397.62" r="1.10" fill="#4ab4b2"/>
<circle cx="102.30" cy="406.44" r="1.10" fill="#88d89c"/>
<circle cx="102.30" cy="415.25" r="1.10" fill="#3d9ac8"/>
<circle cx="102.30" cy="424.07" r="1.10" fill="#3d5db8"/>
<circle cx="102.30" cy="432.88" r="1.10" fill="#3e6cc0"/>
<circle cx="102.30" cy="441.70" r="1.10" fill="#f4d87c"/>
<circle cx="102.30" cy="450.51" r="1.10" fill="#46acb8"/>
<circle cx="134.10" cy="318.29" r="1.10" fill="#3b46ac"/>
<circle cx="134.10" cy="327.10" r="1.10" fill="#a5e199"/>
<circle cx="134.10" cy="335.92" r="1.10" fill="#3d81c3"/>
<circle cx="134.10" cy="344.73" r="1.10" fill="#3d81c3"/>
<circle cx="134.10" cy="353.55" r="1.10" fill="#f0804b"/>
<circle cx="134.10" cy="362.36" r="1.10" fill="#a81045"/>
<circle cx="134.10" cy="371.18" r="1.10" fill="#3d81c3"/>
<circle cx="134.10" cy="388.81" r="1.10" fill="#4ab4b2"/>
<circle cx="134.10" cy="397.62" r="1.10" fill="#62c5a6"/>
<circle cx="134.10" cy="406.44" r="1.10" fill="#a5e199"/>
<circle cx="134.10" cy="415.25" r="1.10" fill="#4ab4b2"/>
<circle cx="134.10" cy="424.07" r="1.10" fill="#3b4aae"/>
<circle cx="134.10" cy="432.88" r="1.10" fill="#3d5db8"/>
<circle cx="134.10" cy="441.70" r="1.10" fill="#d9ed93"/>
<circle cx="134.10" cy="450.51" r="1.10" fill="#3d88c4"/>
<line x1="102.30" y1="455.80" x2="102.30" y2="457.60" stroke="#333" stroke-width="0.7"/>
<line x1="134.10" y1="455.80" x2="134.10" y2="457.60" stroke="#333" stroke-width="0.7"/>
<text x="119.60" y="295.80" font-size="9.2" text-anchor="middle" fill="#111">Primary</text>
<circle cx="85.90" cy="305.40" r="0.90" fill="#111"/>
<text x="89.90" y="307.80" font-size="7" text-anchor="start" fill="#111"><tspan font-style="italic">p</tspan> &lt; 0.01</text>
<text x="103.90" y="460.50" font-size="7.1" text-anchor="end" fill="#111" transform="rotate(-56 103.9 460.5)" style="stroke:#111;stroke-width:0.12px">Ductal cells -&gt; MARCO<tspan font-size="4.5" dy="-2.6">−</tspan><tspan dy="2.6"> cells</tspan></text>
<text x="135.70" y="460.50" font-size="7.1" text-anchor="end" fill="#111" transform="rotate(-56 135.7 460.5)" style="stroke:#111;stroke-width:0.12px">Ductal cells -&gt; MARCO<tspan font-size="4" dy="-2.5">+</tspan><tspan dy="2.5"> Cells</tspan></text>
<rect x="230.40" y="311.20" width="73.50" height="144.00" fill="#fff" stroke="none" stroke-width="0.8"/>
<line x1="230.40" y1="316.45" x2="303.90" y2="316.45" stroke="#e4e4e4" stroke-width="0.5"/>
<line x1="230.40" y1="321.21" x2="303.90" y2="321.21" stroke="#e4e4e4" stroke-width="0.5"/>
<line x1="230.40" y1="325.98" x2="303.90" y2="325.98" stroke="#e4e4e4" stroke-width="0.5"/>
<line x1="230.40" y1="330.75" x2="303.90" y2="330.75" stroke="#e4e4e4" stroke-width="0.5"/>
<line x1="230.40" y1="335.52" x2="303.90" y2="335.52" stroke="#e4e4e4" stroke-width="0.5"/>
<line x1="230.40" y1="340.29" x2="303.90" y2="340.29" stroke="#e4e4e4" stroke-width="0.5"/>
<line x1="230.40" y1="345.05" x2="303.90" y2="345.05" stroke="#e4e4e4" stroke-width="0.5"/>
<line x1="230.40" y1="349.82" x2="303.90" y2="349.82" stroke="#e4e4e4" stroke-width="0.5"/>
<line x1="230.40" y1="354.59" x2="303.90" y2="354.59" stroke="#e4e4e4" stroke-width="0.5"/>
<line x1="230.40" y1="359.36" x2="303.90" y2="359.36" stroke="#e4e4e4" stroke-width="0.5"/>
<line x1="230.40" y1="364.13" x2="303.90" y2="364.13" stroke="#e4e4e4" stroke-width="0.5"/>
<line x1="230.40" y1="368.90" x2="303.90" y2="368.90" stroke="#e4e4e4" stroke-width="0.5"/>
<line x1="230.40" y1="373.66" x2="303.90" y2="373.66" stroke="#e4e4e4" stroke-width="0.5"/>
<line x1="230.40" y1="378.43" x2="303.90" y2="378.43" stroke="#e4e4e4" stroke-width="0.5"/>
<line x1="230.40" y1="383.20" x2="303.90" y2="383.20" stroke="#e4e4e4" stroke-width="0.5"/>
<line x1="230.40" y1="387.97" x2="303.90" y2="387.97" stroke="#e4e4e4" stroke-width="0.5"/>
<line x1="230.40" y1="392.74" x2="303.90" y2="392.74" stroke="#e4e4e4" stroke-width="0.5"/>
<line x1="230.40" y1="397.50" x2="303.90" y2="397.50" stroke="#e4e4e4" stroke-width="0.5"/>
<line x1="230.40" y1="402.27" x2="303.90" y2="402.27" stroke="#e4e4e4" stroke-width="0.5"/>
<line x1="230.40" y1="407.04" x2="303.90" y2="407.04" stroke="#e4e4e4" stroke-width="0.5"/>
<line x1="230.40" y1="411.81" x2="303.90" y2="411.81" stroke="#e4e4e4" stroke-width="0.5"/>
<line x1="230.40" y1="416.58" x2="303.90" y2="416.58" stroke="#e4e4e4" stroke-width="0.5"/>
<line x1="230.40" y1="421.35" x2="303.90" y2="421.35" stroke="#e4e4e4" stroke-width="0.5"/>
<line x1="230.40" y1="426.11" x2="303.90" y2="426.11" stroke="#e4e4e4" stroke-width="0.5"/>
<line x1="230.40" y1="430.88" x2="303.90" y2="430.88" stroke="#e4e4e4" stroke-width="0.5"/>
<line x1="230.40" y1="435.65" x2="303.90" y2="435.65" stroke="#e4e4e4" stroke-width="0.5"/>
<line x1="230.40" y1="440.42" x2="303.90" y2="440.42" stroke="#e4e4e4" stroke-width="0.5"/>
<line x1="230.40" y1="445.19" x2="303.90" y2="445.19" stroke="#e4e4e4" stroke-width="0.5"/>
<line x1="230.40" y1="449.95" x2="303.90" y2="449.95" stroke="#e4e4e4" stroke-width="0.5"/>
<line x1="267.20" y1="311.20" x2="267.20" y2="455.20" stroke="#e4e4e4" stroke-width="0.5"/>
<rect x="230.40" y="311.20" width="73.50" height="144.00" fill="none" stroke="#6e6e6e" stroke-width="0.7"/>
<text x="228.10" y="315.57" font-size="5.8" text-anchor="end" fill="#222" style="stroke:#222;stroke-width:0px">THBS1 − CD47</text>
<line x1="228.60" y1="314.06" x2="230.40" y2="314.06" stroke="#333" stroke-width="0.6"/>
<text x="228.10" y="320.34" font-size="5.8" text-anchor="end" fill="#222" style="stroke:#222;stroke-width:0px">THBS1 − CD36</text>
<line x1="228.60" y1="318.83" x2="230.40" y2="318.83" stroke="#333" stroke-width="0.6"/>
<text x="228.10" y="325.11" font-size="5.8" text-anchor="end" fill="#222" style="stroke:#222;stroke-width:0px">SPP1 − CD44</text>
<line x1="228.60" y1="323.60" x2="230.40" y2="323.60" stroke="#333" stroke-width="0.6"/>
<text x="228.10" y="329.87" font-size="5.8" text-anchor="end" fill="#222" style="stroke:#222;stroke-width:0px">SPP1 − (ITGAV+ITGB1)</text>
<line x1="228.60" y1="328.37" x2="230.40" y2="328.37" stroke="#333" stroke-width="0.6"/>
<text x="228.10" y="334.64" font-size="5.8" text-anchor="end" fill="#222" style="stroke:#222;stroke-width:0px">SPP1 − (ITGA5+ITGB1)</text>
<line x1="228.60" y1="333.13" x2="230.40" y2="333.13" stroke="#333" stroke-width="0.6"/>
<text x="228.10" y="339.41" font-size="5.8" text-anchor="end" fill="#222" style="stroke:#222;stroke-width:0px">SPP1 − (ITGA4+ITGB1)</text>
<line x1="228.60" y1="337.90" x2="230.40" y2="337.90" stroke="#333" stroke-width="0.6"/>
<text x="228.10" y="344.18" font-size="5.8" text-anchor="end" fill="#222" style="stroke:#222;stroke-width:0px">NAMPT − (ITGA5+ITGB1)</text>
<line x1="228.60" y1="342.67" x2="230.40" y2="342.67" stroke="#333" stroke-width="0.6"/>
<text x="228.10" y="348.95" font-size="5.8" text-anchor="end" fill="#222" style="stroke:#222;stroke-width:0px">MIF − (CD74+CXCR4)</text>
<line x1="228.60" y1="347.44" x2="230.40" y2="347.44" stroke="#333" stroke-width="0.6"/>
<text x="228.10" y="353.71" font-size="5.8" text-anchor="end" fill="#222" style="stroke:#222;stroke-width:0px">MIF − (CD74+CD44)</text>
<line x1="228.60" y1="352.21" x2="230.40" y2="352.21" stroke="#333" stroke-width="0.6"/>
<text x="228.10" y="358.48" font-size="5.8" text-anchor="end" fill="#222" style="stroke:#222;stroke-width:0px">MDK − SDC4</text>
<line x1="228.60" y1="356.97" x2="230.40" y2="356.97" stroke="#333" stroke-width="0.6"/>
<text x="228.10" y="363.25" font-size="5.8" text-anchor="end" fill="#222" style="stroke:#222;stroke-width:0px">MDK − SDC2</text>
<line x1="228.60" y1="361.74" x2="230.40" y2="361.74" stroke="#333" stroke-width="0.6"/>
<text x="228.10" y="368.02" font-size="5.8" text-anchor="end" fill="#222" style="stroke:#222;stroke-width:0px">MDK − NCL</text>
<line x1="228.60" y1="366.51" x2="230.40" y2="366.51" stroke="#333" stroke-width="0.6"/>
<text x="228.10" y="372.79" font-size="5.8" text-anchor="end" fill="#222" style="stroke:#222;stroke-width:0px">MDK − LRP1</text>
<line x1="228.60" y1="371.28" x2="230.40" y2="371.28" stroke="#333" stroke-width="0.6"/>
<text x="228.10" y="377.56" font-size="5.8" text-anchor="end" fill="#222" style="stroke:#222;stroke-width:0px">MDK − (ITGA4+ITGB1)</text>
<line x1="228.60" y1="376.05" x2="230.40" y2="376.05" stroke="#333" stroke-width="0.6"/>
<text x="228.10" y="382.32" font-size="5.8" text-anchor="end" fill="#222" style="stroke:#222;stroke-width:0px">LAMC2 − CD44</text>
<line x1="228.60" y1="380.82" x2="230.40" y2="380.82" stroke="#333" stroke-width="0.6"/>
<text x="228.10" y="387.09" font-size="5.8" text-anchor="end" fill="#222" style="stroke:#222;stroke-width:0px">LAMB3 − CD44</text>
<line x1="228.60" y1="385.58" x2="230.40" y2="385.58" stroke="#333" stroke-width="0.6"/>
<text x="228.10" y="391.86" font-size="5.8" text-anchor="end" fill="#222" style="stroke:#222;stroke-width:0px">LAMA3 − CD44</text>
<line x1="228.60" y1="390.35" x2="230.40" y2="390.35" stroke="#333" stroke-width="0.6"/>
<text x="228.10" y="396.63" font-size="5.8" text-anchor="end" fill="#222" style="stroke:#222;stroke-width:0px">FN1 − CD44</text>
<line x1="228.60" y1="395.12" x2="230.40" y2="395.12" stroke="#333" stroke-width="0.6"/>
<text x="228.10" y="401.40" font-size="5.8" text-anchor="end" fill="#222" style="stroke:#222;stroke-width:0px">FN1 − (ITGAV+ITGB1)</text>
<line x1="228.60" y1="399.89" x2="230.40" y2="399.89" stroke="#333" stroke-width="0.6"/>
<text x="228.10" y="406.16" font-size="5.8" text-anchor="end" fill="#222" style="stroke:#222;stroke-width:0px">FN1 − (ITGA5+ITGB1)</text>
<line x1="228.60" y1="404.66" x2="230.40" y2="404.66" stroke="#333" stroke-width="0.6"/>
<text x="228.10" y="410.93" font-size="5.8" text-anchor="end" fill="#222" style="stroke:#222;stroke-width:0px">FN1 − (ITGA4+ITGB1)</text>
<line x1="228.60" y1="409.43" x2="230.40" y2="409.43" stroke="#333" stroke-width="0.6"/>
<text x="228.10" y="415.70" font-size="5.8" text-anchor="end" fill="#222" style="stroke:#222;stroke-width:0px">COL6A1 − SDC4</text>
<line x1="228.60" y1="414.19" x2="230.40" y2="414.19" stroke="#333" stroke-width="0.6"/>
<text x="228.10" y="420.47" font-size="5.8" text-anchor="end" fill="#222" style="stroke:#222;stroke-width:0px">COL6A1 − CD44</text>
<line x1="228.60" y1="418.96" x2="230.40" y2="418.96" stroke="#333" stroke-width="0.6"/>
<text x="228.10" y="425.24" font-size="5.8" text-anchor="end" fill="#222" style="stroke:#222;stroke-width:0px">CD99 − PILRA</text>
<line x1="228.60" y1="423.73" x2="230.40" y2="423.73" stroke="#333" stroke-width="0.6"/>
<text x="228.10" y="430.01" font-size="5.8" text-anchor="end" fill="#222" style="stroke:#222;stroke-width:0px">CD99 − CD99</text>
<line x1="228.60" y1="428.50" x2="230.40" y2="428.50" stroke="#333" stroke-width="0.6"/>
<text x="228.10" y="434.77" font-size="5.8" text-anchor="end" fill="#222" style="stroke:#222;stroke-width:0px">C3 − C3AR1</text>
<line x1="228.60" y1="433.27" x2="230.40" y2="433.27" stroke="#333" stroke-width="0.6"/>
<text x="228.10" y="439.54" font-size="5.8" text-anchor="end" fill="#222" style="stroke:#222;stroke-width:0px">C3 − (ITGAX+ITGB2)</text>
<line x1="228.60" y1="438.03" x2="230.40" y2="438.03" stroke="#333" stroke-width="0.6"/>
<text x="228.10" y="444.31" font-size="5.8" text-anchor="end" fill="#222" style="stroke:#222;stroke-width:0px">C3 − (ITGAM+ITGB2)</text>
<line x1="228.60" y1="442.80" x2="230.40" y2="442.80" stroke="#333" stroke-width="0.6"/>
<text x="228.10" y="449.08" font-size="5.8" text-anchor="end" fill="#222" style="stroke:#222;stroke-width:0px">APP − CD74</text>
<line x1="228.60" y1="447.57" x2="230.40" y2="447.57" stroke="#333" stroke-width="0.6"/>
<text x="228.10" y="453.85" font-size="5.8" text-anchor="end" fill="#222" style="stroke:#222;stroke-width:0px">ANXA1 − FPR1</text>
<line x1="228.60" y1="452.34" x2="230.40" y2="452.34" stroke="#333" stroke-width="0.6"/>
<circle cx="250.50" cy="314.06" r="0.66" fill="#3e6cc0"/>
<circle cx="250.50" cy="318.83" r="1.10" fill="#3c51b2"/>
<circle cx="250.50" cy="323.60" r="1.10" fill="#4fbcac"/>
<circle cx="250.50" cy="328.37" r="1.10" fill="#3d76c1"/>
<circle cx="250.50" cy="337.90" r="1.10" fill="#3d76c1"/>
<circle cx="250.50" cy="347.44" r="1.10" fill="#f8c068"/>
<circle cx="250.50" cy="352.21" r="1.10" fill="#d85344"/>
<circle cx="250.50" cy="366.51" r="1.10" fill="#e6ee91"/>
<circle cx="250.50" cy="371.28" r="1.10" fill="#70cca2"/>
<circle cx="250.50" cy="376.05" r="1.10" fill="#93db9a"/>
<circle cx="250.50" cy="380.82" r="1.10" fill="#4fbcac"/>
<circle cx="250.50" cy="385.58" r="1.10" fill="#7ed39e"/>
<circle cx="250.50" cy="390.35" r="1.10" fill="#70cca2"/>
<circle cx="250.50" cy="395.12" r="1.10" fill="#79d1a0"/>
<circle cx="250.50" cy="399.89" r="1.10" fill="#3d76c1"/>
<circle cx="250.50" cy="409.43" r="1.10" fill="#3d88c4"/>
<circle cx="250.50" cy="418.96" r="1.10" fill="#3d9ac8"/>
<circle cx="250.50" cy="423.73" r="1.10" fill="#3b4aae"/>
<circle cx="250.50" cy="433.27" r="1.10" fill="#3d76c1"/>
<circle cx="250.50" cy="438.03" r="1.10" fill="#4ab4b2"/>
<circle cx="250.50" cy="442.80" r="1.10" fill="#46acb8"/>
<circle cx="250.50" cy="447.57" r="1.10" fill="#b6e697"/>
<circle cx="250.50" cy="452.34" r="1.10" fill="#70cca2"/>
<circle cx="283.90" cy="314.06" r="0.66" fill="#3e6cc0"/>
<circle cx="283.90" cy="318.83" r="1.10" fill="#3d64bc"/>
<circle cx="283.90" cy="323.60" r="1.10" fill="#7ed39e"/>
<circle cx="283.90" cy="333.13" r="1.10" fill="#3d76c1"/>
<circle cx="283.90" cy="342.67" r="1.10" fill="#3d81c3"/>
<circle cx="283.90" cy="347.44" r="1.10" fill="#f0804b"/>
<circle cx="283.90" cy="352.21" r="1.10" fill="#b62344"/>
<circle cx="283.90" cy="356.97" r="1.10" fill="#41a1c1"/>
<circle cx="283.90" cy="361.74" r="1.10" fill="#58c0a9"/>
<circle cx="283.90" cy="366.51" r="1.10" fill="#e6ee91"/>
<circle cx="283.90" cy="371.28" r="1.10" fill="#c2ea96"/>
<circle cx="283.90" cy="380.82" r="1.10" fill="#62c5a6"/>
<circle cx="283.90" cy="385.58" r="1.10" fill="#a5e199"/>
<circle cx="283.90" cy="390.35" r="1.10" fill="#88d89c"/>
<circle cx="283.90" cy="395.12" r="1.10" fill="#93db9a"/>
<circle cx="283.90" cy="404.66" r="1.10" fill="#3d81c3"/>
<circle cx="283.90" cy="414.19" r="1.10" fill="#3b46ac"/>
<circle cx="283.90" cy="418.96" r="1.10" fill="#4ab4b2"/>
<circle cx="283.90" cy="423.73" r="1.10" fill="#3c4eb0"/>
<circle cx="283.90" cy="428.50" r="1.10" fill="#3d76c1"/>
<circle cx="283.90" cy="433.27" r="1.10" fill="#3e6cc0"/>
<circle cx="283.90" cy="438.03" r="1.10" fill="#4fbcac"/>
<circle cx="283.90" cy="442.80" r="1.10" fill="#70cca2"/>
<circle cx="283.90" cy="447.57" r="1.10" fill="#7ed39e"/>
<circle cx="283.90" cy="452.34" r="1.10" fill="#58c0a9"/>
<line x1="250.50" y1="455.20" x2="250.50" y2="457.00" stroke="#333" stroke-width="0.7"/>
<line x1="283.90" y1="455.20" x2="283.90" y2="457.00" stroke="#333" stroke-width="0.7"/>
<text x="269.50" y="295.60" font-size="9.3" text-anchor="middle" fill="#111">Metastatic</text>
<circle cx="231.90" cy="304.70" r="0.60" fill="#111"/>
<text x="236.00" y="307.00" font-size="6.9" text-anchor="start" fill="#111">0.01 &lt; <tspan font-style="italic">p</tspan> &lt; 0.05</text>
<circle cx="287.20" cy="304.70" r="1.00" fill="#111"/>
<text x="291.20" y="307.00" font-size="6.9" text-anchor="start" fill="#111"><tspan font-style="italic">p</tspan> &lt; 0.01</text>
<text x="305.80" y="353.00" font-size="6.3" text-anchor="start" fill="#222">Commun. Prob.</text>
<defs><linearGradient id="cb657" x1="0" y1="1" x2="0" y2="0">
<stop offset="0.00" stop-color="#3b3fa8"/>
<stop offset="0.10" stop-color="#3d64bc"/>
<stop offset="0.20" stop-color="#3d88c4"/>
<stop offset="0.30" stop-color="#43a7bd"/>
<stop offset="0.40" stop-color="#58c0a9"/>
<stop offset="0.50" stop-color="#88d89c"/>
<stop offset="0.60" stop-color="#c2ea96"/>
<stop offset="0.70" stop-color="#f0f090"/>
<stop offset="0.80" stop-color="#f8c068"/>
<stop offset="0.90" stop-color="#ee7044"/>
<stop offset="1.00" stop-color="#a81045"/>
</linearGradient></defs>
<rect x="309.40" y="358.50" width="1.50" height="29.60" fill="url(#cb657)" stroke="none" stroke-width="0.8"/>
<text x="312.40" y="360.50" font-size="6.3" text-anchor="start" fill="#222">max</text>
<text x="312.40" y="390.10" font-size="6.3" text-anchor="start" fill="#222">min</text>
<text x="252.30" y="460.00" font-size="7.1" text-anchor="end" fill="#111" transform="rotate(-49 252.3 460)" style="stroke:#111;stroke-width:0.12px">Ductal cells -&gt; MARCO<tspan font-size="4.5" dy="-2.6">−</tspan><tspan dy="2.6"> cells</tspan></text>
<text x="285.70" y="460.00" font-size="7.1" text-anchor="end" fill="#111" transform="rotate(-49 285.7 460)" style="stroke:#111;stroke-width:0.12px">Ductal cells -&gt; MARCO<tspan font-size="4" dy="-2.5">+</tspan><tspan dy="2.5"> Cells</tspan></text>
<g transform="translate(357.50 290.73) scale(0.88 1)"><text x="0" y="0" font-size="11.5" font-weight="bold" fill="#000">J</text></g>
<rect x="437.50" y="312.80" width="67.70" height="142.20" fill="#fff" stroke="none" stroke-width="0.8"/>
<line x1="437.50" y1="319.85" x2="505.20" y2="319.85" stroke="#e4e4e4" stroke-width="0.5"/>
<line x1="437.50" y1="326.25" x2="505.20" y2="326.25" stroke="#e4e4e4" stroke-width="0.5"/>
<line x1="437.50" y1="332.66" x2="505.20" y2="332.66" stroke="#e4e4e4" stroke-width="0.5"/>
<line x1="437.50" y1="339.06" x2="505.20" y2="339.06" stroke="#e4e4e4" stroke-width="0.5"/>
<line x1="437.50" y1="345.47" x2="505.20" y2="345.47" stroke="#e4e4e4" stroke-width="0.5"/>
<line x1="437.50" y1="351.87" x2="505.20" y2="351.87" stroke="#e4e4e4" stroke-width="0.5"/>
<line x1="437.50" y1="358.28" x2="505.20" y2="358.28" stroke="#e4e4e4" stroke-width="0.5"/>
<line x1="437.50" y1="364.68" x2="505.20" y2="364.68" stroke="#e4e4e4" stroke-width="0.5"/>
<line x1="437.50" y1="371.09" x2="505.20" y2="371.09" stroke="#e4e4e4" stroke-width="0.5"/>
<line x1="437.50" y1="377.49" x2="505.20" y2="377.49" stroke="#e4e4e4" stroke-width="0.5"/>
<line x1="437.50" y1="383.90" x2="505.20" y2="383.90" stroke="#e4e4e4" stroke-width="0.5"/>
<line x1="437.50" y1="390.31" x2="505.20" y2="390.31" stroke="#e4e4e4" stroke-width="0.5"/>
<line x1="437.50" y1="396.71" x2="505.20" y2="396.71" stroke="#e4e4e4" stroke-width="0.5"/>
<line x1="437.50" y1="403.12" x2="505.20" y2="403.12" stroke="#e4e4e4" stroke-width="0.5"/>
<line x1="437.50" y1="409.52" x2="505.20" y2="409.52" stroke="#e4e4e4" stroke-width="0.5"/>
<line x1="437.50" y1="415.93" x2="505.20" y2="415.93" stroke="#e4e4e4" stroke-width="0.5"/>
<line x1="437.50" y1="422.33" x2="505.20" y2="422.33" stroke="#e4e4e4" stroke-width="0.5"/>
<line x1="437.50" y1="428.74" x2="505.20" y2="428.74" stroke="#e4e4e4" stroke-width="0.5"/>
<line x1="437.50" y1="435.14" x2="505.20" y2="435.14" stroke="#e4e4e4" stroke-width="0.5"/>
<line x1="437.50" y1="441.55" x2="505.20" y2="441.55" stroke="#e4e4e4" stroke-width="0.5"/>
<line x1="437.50" y1="447.95" x2="505.20" y2="447.95" stroke="#e4e4e4" stroke-width="0.5"/>
<line x1="471.15" y1="312.80" x2="471.15" y2="455.00" stroke="#e4e4e4" stroke-width="0.5"/>
<rect x="437.50" y="312.80" width="67.70" height="142.20" fill="none" stroke="#6e6e6e" stroke-width="0.7"/>
<text x="435.20" y="318.15" font-size="5.8" text-anchor="end" fill="#111" style="stroke:#111;stroke-width:0.16px">THBS1 − CD47</text>
<line x1="435.70" y1="316.64" x2="437.50" y2="316.64" stroke="#333" stroke-width="0.6"/>
<text x="435.20" y="324.56" font-size="5.8" text-anchor="end" fill="#111" style="stroke:#111;stroke-width:0.16px">THBS1 − CD36</text>
<line x1="435.70" y1="323.05" x2="437.50" y2="323.05" stroke="#333" stroke-width="0.6"/>
<text x="435.20" y="330.96" font-size="5.8" text-anchor="end" fill="#111" style="stroke:#111;stroke-width:0.16px">NAMPT − (ITGA5+ITGB1)</text>
<line x1="435.70" y1="329.45" x2="437.50" y2="329.45" stroke="#333" stroke-width="0.6"/>
<text x="435.20" y="337.37" font-size="5.8" text-anchor="end" fill="#111" style="stroke:#111;stroke-width:0.16px">MIF − (CD74+CXCR4)</text>
<line x1="435.70" y1="335.86" x2="437.50" y2="335.86" stroke="#333" stroke-width="0.6"/>
<text x="435.20" y="343.77" font-size="5.8" text-anchor="end" fill="#111" style="stroke:#111;stroke-width:0.16px">MIF − (CD74+CD44)</text>
<line x1="435.70" y1="342.26" x2="437.50" y2="342.26" stroke="#333" stroke-width="0.6"/>
<text x="435.20" y="350.18" font-size="5.8" text-anchor="end" fill="#111" style="stroke:#111;stroke-width:0.16px">MDK − SDC4</text>
<line x1="435.70" y1="348.67" x2="437.50" y2="348.67" stroke="#333" stroke-width="0.6"/>
<text x="435.20" y="356.58" font-size="5.8" text-anchor="end" fill="#111" style="stroke:#111;stroke-width:0.16px">MDK − SDC2</text>
<line x1="435.70" y1="355.08" x2="437.50" y2="355.08" stroke="#333" stroke-width="0.6"/>
<text x="435.20" y="362.99" font-size="5.8" text-anchor="end" fill="#111" style="stroke:#111;stroke-width:0.16px">MDK − NCL</text>
<line x1="435.70" y1="361.48" x2="437.50" y2="361.48" stroke="#333" stroke-width="0.6"/>
<text x="435.20" y="369.39" font-size="5.8" text-anchor="end" fill="#111" style="stroke:#111;stroke-width:0.16px">MDK − LRP1</text>
<line x1="435.70" y1="367.89" x2="437.50" y2="367.89" stroke="#333" stroke-width="0.6"/>
<text x="435.20" y="375.80" font-size="5.8" text-anchor="end" fill="#111" style="stroke:#111;stroke-width:0.16px">LAMC2 − CD44</text>
<line x1="435.70" y1="374.29" x2="437.50" y2="374.29" stroke="#333" stroke-width="0.6"/>
<text x="435.20" y="382.21" font-size="5.8" text-anchor="end" fill="#111" style="stroke:#111;stroke-width:0.16px">LAMB3 − CD44</text>
<line x1="435.70" y1="380.70" x2="437.50" y2="380.70" stroke="#333" stroke-width="0.6"/>
<text x="435.20" y="388.61" font-size="5.8" text-anchor="end" fill="#111" style="stroke:#111;stroke-width:0.16px">LAMA3 − CD44</text>
<line x1="435.70" y1="387.10" x2="437.50" y2="387.10" stroke="#333" stroke-width="0.6"/>
<text x="435.20" y="395.02" font-size="5.8" text-anchor="end" fill="#111" style="stroke:#111;stroke-width:0.16px">FN1 − CD44</text>
<line x1="435.70" y1="393.51" x2="437.50" y2="393.51" stroke="#333" stroke-width="0.6"/>
<text x="435.20" y="401.42" font-size="5.8" text-anchor="end" fill="#111" style="stroke:#111;stroke-width:0.16px">FN1 − (ITGA5+ITGB1)</text>
<line x1="435.70" y1="399.91" x2="437.50" y2="399.91" stroke="#333" stroke-width="0.6"/>
<text x="435.20" y="407.83" font-size="5.8" text-anchor="end" fill="#111" style="stroke:#111;stroke-width:0.16px">COL6A1 − SDC4</text>
<line x1="435.70" y1="406.32" x2="437.50" y2="406.32" stroke="#333" stroke-width="0.6"/>
<text x="435.20" y="414.23" font-size="5.8" text-anchor="end" fill="#111" style="stroke:#111;stroke-width:0.16px">COL6A1 − CD44</text>
<line x1="435.70" y1="412.72" x2="437.50" y2="412.72" stroke="#333" stroke-width="0.6"/>
<text x="435.20" y="420.64" font-size="5.8" text-anchor="end" fill="#111" style="stroke:#111;stroke-width:0.16px">CD99 − PILRA</text>
<line x1="435.70" y1="419.13" x2="437.50" y2="419.13" stroke="#333" stroke-width="0.6"/>
<text x="435.20" y="427.04" font-size="5.8" text-anchor="end" fill="#111" style="stroke:#111;stroke-width:0.16px">CD99 − CD99</text>
<line x1="435.70" y1="425.54" x2="437.50" y2="425.54" stroke="#333" stroke-width="0.6"/>
<text x="435.20" y="433.45" font-size="5.8" text-anchor="end" fill="#111" style="stroke:#111;stroke-width:0.16px">C3 − C3AR1</text>
<line x1="435.70" y1="431.94" x2="437.50" y2="431.94" stroke="#333" stroke-width="0.6"/>
<text x="435.20" y="439.85" font-size="5.8" text-anchor="end" fill="#111" style="stroke:#111;stroke-width:0.16px">C3 − (ITGAX+ITGB2)</text>
<line x1="435.70" y1="438.35" x2="437.50" y2="438.35" stroke="#333" stroke-width="0.6"/>
<text x="435.20" y="446.26" font-size="5.8" text-anchor="end" fill="#111" style="stroke:#111;stroke-width:0.16px">C3 − (ITGAM+ITGB2)</text>
<line x1="435.70" y1="444.75" x2="437.50" y2="444.75" stroke="#333" stroke-width="0.6"/>
<text x="435.20" y="452.66" font-size="5.8" text-anchor="end" fill="#111" style="stroke:#111;stroke-width:0.16px">ANXA1 − FPR1</text>
<line x1="435.70" y1="451.16" x2="437.50" y2="451.16" stroke="#333" stroke-width="0.6"/>
<circle cx="455.60" cy="316.64" r="1.14" fill="#3e6cc0"/>
<circle cx="455.60" cy="323.05" r="1.90" fill="#3e6cc0"/>
<circle cx="455.60" cy="329.45" r="1.90" fill="#3d88c4"/>
<circle cx="455.60" cy="335.86" r="1.90" fill="#f0804b"/>
<circle cx="455.60" cy="342.26" r="1.90" fill="#b62344"/>
<circle cx="455.60" cy="348.67" r="1.90" fill="#41a1c1"/>
<circle cx="455.60" cy="355.08" r="1.90" fill="#58c0a9"/>
<circle cx="455.60" cy="361.48" r="1.90" fill="#dded92"/>
<circle cx="455.60" cy="367.89" r="1.90" fill="#c2ea96"/>
<circle cx="455.60" cy="374.29" r="1.90" fill="#70cca2"/>
<circle cx="455.60" cy="380.70" r="1.90" fill="#93db9a"/>
<circle cx="455.60" cy="387.10" r="1.90" fill="#75cea1"/>
<circle cx="455.60" cy="393.51" r="1.90" fill="#93db9a"/>
<circle cx="455.60" cy="399.91" r="1.90" fill="#3d88c4"/>
<circle cx="455.60" cy="406.32" r="1.90" fill="#3b46ac"/>
<circle cx="455.60" cy="412.72" r="1.90" fill="#4fbcac"/>
<circle cx="455.60" cy="419.13" r="1.90" fill="#3c4eb0"/>
<circle cx="455.60" cy="425.54" r="1.90" fill="#3d76c1"/>
<circle cx="455.60" cy="431.94" r="1.90" fill="#3d73c1"/>
<circle cx="455.60" cy="438.35" r="1.90" fill="#4fbcac"/>
<circle cx="455.60" cy="444.75" r="1.90" fill="#70cca2"/>
<circle cx="455.60" cy="451.16" r="1.90" fill="#58c0a9"/>
<circle cx="486.70" cy="329.45" r="1.90" fill="#3d88c4"/>
<circle cx="486.70" cy="335.86" r="1.90" fill="#f6c970"/>
<circle cx="486.70" cy="342.26" r="1.90" fill="#f0804b"/>
<circle cx="486.70" cy="355.08" r="1.90" fill="#3d81c3"/>
<circle cx="486.70" cy="367.89" r="1.90" fill="#4ab4b2"/>
<circle cx="486.70" cy="374.29" r="1.90" fill="#62c5a6"/>
<circle cx="486.70" cy="380.70" r="1.90" fill="#93db9a"/>
<circle cx="486.70" cy="387.10" r="1.90" fill="#4ab4b2"/>
<circle cx="486.70" cy="451.16" r="1.90" fill="#3d88c4"/>
<line x1="455.60" y1="455.00" x2="455.60" y2="456.80" stroke="#333" stroke-width="0.7"/>
<line x1="486.70" y1="455.00" x2="486.70" y2="456.80" stroke="#333" stroke-width="0.7"/>
<text x="421.10" y="296.00" font-size="7" text-anchor="start" fill="#111">Increased signaling in Metastatic</text>
<circle cx="429.30" cy="304.70" r="0.70" fill="#111"/>
<text x="434.70" y="307.00" font-size="6.9" text-anchor="start" fill="#111">0.01 &lt; <tspan font-style="italic">p</tspan> &lt; 0.05</text>
<circle cx="486.70" cy="304.70" r="1.30" fill="#111"/>
<text x="492.20" y="307.00" font-size="6.9" text-anchor="start" fill="#111"><tspan font-style="italic">p</tspan> &lt; 0.01</text>
<text x="456.90" y="461.50" font-size="7" text-anchor="end" fill="#ee7474" transform="rotate(-44 456.9 461.5)">Ductal cells -&gt; MARCO<tspan font-size="4" dy="-2.5">+</tspan><tspan dy="2.5"> Cells</tspan></text>
<text x="443.40" y="487.00" font-size="7" text-anchor="end" fill="#ee7474" transform="rotate(-44 443.4 487)">(Metastatic)</text>
<text x="490.60" y="461.50" font-size="7" text-anchor="end" fill="#55d6cc" transform="rotate(-44 490.6 461.5)">Ductal cells -&gt; MARCO<tspan font-size="4" dy="-2.5">+</tspan><tspan dy="2.5"> Cells</tspan></text>
<text x="475.10" y="490.50" font-size="7" text-anchor="end" fill="#55d6cc" transform="rotate(-44 475.1 490.5)">(Primary)</text>
<rect x="586.90" y="312.90" width="54.50" height="142.20" fill="#fff" stroke="none" stroke-width="0.8"/>
<line x1="586.90" y1="338.13" x2="641.40" y2="338.13" stroke="#e4e4e4" stroke-width="0.5"/>
<line x1="586.90" y1="361.06" x2="641.40" y2="361.06" stroke="#e4e4e4" stroke-width="0.5"/>
<line x1="586.90" y1="384.00" x2="641.40" y2="384.00" stroke="#e4e4e4" stroke-width="0.5"/>
<line x1="586.90" y1="406.94" x2="641.40" y2="406.94" stroke="#e4e4e4" stroke-width="0.5"/>
<line x1="586.90" y1="429.87" x2="641.40" y2="429.87" stroke="#e4e4e4" stroke-width="0.5"/>
<line x1="614.15" y1="312.90" x2="614.15" y2="455.10" stroke="#e4e4e4" stroke-width="0.5"/>
<rect x="586.90" y="312.90" width="54.50" height="142.20" fill="none" stroke="#6e6e6e" stroke-width="0.7"/>
<text x="584.60" y="328.17" font-size="5.8" text-anchor="end" fill="#111" style="stroke:#111;stroke-width:0.16px">VEGFA − VEGFR1</text>
<line x1="585.10" y1="326.66" x2="586.90" y2="326.66" stroke="#333" stroke-width="0.6"/>
<text x="584.60" y="351.10" font-size="5.8" text-anchor="end" fill="#111" style="stroke:#111;stroke-width:0.16px">SPP1 − CD44</text>
<line x1="585.10" y1="349.60" x2="586.90" y2="349.60" stroke="#333" stroke-width="0.6"/>
<text x="584.60" y="374.04" font-size="5.8" text-anchor="end" fill="#111" style="stroke:#111;stroke-width:0.16px">SPP1 − (ITGA5+ITGB1)</text>
<line x1="585.10" y1="372.53" x2="586.90" y2="372.53" stroke="#333" stroke-width="0.6"/>
<text x="584.60" y="396.98" font-size="5.8" text-anchor="end" fill="#111" style="stroke:#111;stroke-width:0.16px">HLA−DRB1 − CD4</text>
<line x1="585.10" y1="395.47" x2="586.90" y2="395.47" stroke="#333" stroke-width="0.6"/>
<text x="584.60" y="419.91" font-size="5.8" text-anchor="end" fill="#111" style="stroke:#111;stroke-width:0.16px">HLA−DRA − CD4</text>
<line x1="585.10" y1="418.40" x2="586.90" y2="418.40" stroke="#333" stroke-width="0.6"/>
<text x="584.60" y="442.85" font-size="5.8" text-anchor="end" fill="#111" style="stroke:#111;stroke-width:0.16px">APP − CD74</text>
<line x1="585.10" y1="441.34" x2="586.90" y2="441.34" stroke="#333" stroke-width="0.6"/>
<circle cx="601.70" cy="349.60" r="1.90" fill="#e6ee91"/>
<circle cx="601.70" cy="372.53" r="1.90" fill="#3d9ac8"/>
<circle cx="601.70" cy="441.34" r="1.90" fill="#f6c970"/>
<circle cx="626.60" cy="326.66" r="1.90" fill="#3b4aae"/>
<circle cx="626.60" cy="349.60" r="1.90" fill="#f6c970"/>
<circle cx="626.60" cy="372.53" r="1.90" fill="#4ab4b2"/>
<circle cx="626.60" cy="395.47" r="1.90" fill="#3c51b2"/>
<circle cx="626.60" cy="418.40" r="1.90" fill="#3e6cc0"/>
<circle cx="626.60" cy="441.34" r="1.90" fill="#b62344"/>
<line x1="601.70" y1="455.10" x2="601.70" y2="456.90" stroke="#333" stroke-width="0.7"/>
<line x1="626.60" y1="455.10" x2="626.60" y2="456.90" stroke="#333" stroke-width="0.7"/>
<text x="563.60" y="296.00" font-size="7" text-anchor="start" fill="#111">Decreased signaling in Metastatic</text>
<circle cx="587.80" cy="304.70" r="1.30" fill="#111"/>
<text x="593.20" y="307.00" font-size="6.9" text-anchor="start" fill="#111"><tspan font-style="italic">p</tspan> &lt; 0.01</text>
<text x="643.80" y="352.50" font-size="6.3" text-anchor="start" fill="#222">Commun. Prob.</text>
<defs><linearGradient id="cb821" x1="0" y1="1" x2="0" y2="0">
<stop offset="0.00" stop-color="#3b3fa8"/>
<stop offset="0.10" stop-color="#3d64bc"/>
<stop offset="0.20" stop-color="#3d88c4"/>
<stop offset="0.30" stop-color="#43a7bd"/>
<stop offset="0.40" stop-color="#58c0a9"/>
<stop offset="0.50" stop-color="#88d89c"/>
<stop offset="0.60" stop-color="#c2ea96"/>
<stop offset="0.70" stop-color="#f0f090"/>
<stop offset="0.80" stop-color="#f8c068"/>
<stop offset="0.90" stop-color="#ee7044"/>
<stop offset="1.00" stop-color="#a81045"/>
</linearGradient></defs>
<rect x="648.30" y="357.70" width="1.50" height="31.80" fill="url(#cb821)" stroke="none" stroke-width="0.8"/>
<text x="651.30" y="359.70" font-size="6.3" text-anchor="start" fill="#222">max</text>
<text x="651.30" y="391.50" font-size="6.3" text-anchor="start" fill="#222">min</text>
<text x="603.50" y="461.00" font-size="7" text-anchor="end" fill="#ee7474" transform="rotate(-50 603.5 461)">Ductal cells -&gt; MARCO<tspan font-size="4" dy="-2.5">+</tspan><tspan dy="2.5"> Cells</tspan></text>
<text x="592.00" y="484.50" font-size="7" text-anchor="end" fill="#ee7474" transform="rotate(-50 592 484.5)">(Metastatic)</text>
<text x="631.30" y="461.00" font-size="7" text-anchor="end" fill="#55d6cc" transform="rotate(-50 631.3 461)">Ductal cells -&gt; MARCO<tspan font-size="4" dy="-2.5">+</tspan><tspan dy="2.5"> Cells</tspan></text>
<text x="618.30" y="487.50" font-size="7" text-anchor="end" fill="#55d6cc" transform="rotate(-50 618.3 487.5)">(Primary)</text>
<g transform="translate(8.20 552.73) scale(0.88 1)"><text x="0" y="0" font-size="11.5" font-weight="bold" fill="#000">K</text></g>
<rect x="71.20" y="569.30" width="8.40" height="7.60" fill="#7ec8dc" stroke="none" stroke-width="0.8"/>
<text x="82.50" y="575.70" font-size="9.3" text-anchor="start" fill="#111">Metastatic</text>
<rect x="129.10" y="569.30" width="8.40" height="7.60" fill="#e45e69" stroke="none" stroke-width="0.8"/>
<text x="140.60" y="575.70" font-size="9.3" text-anchor="start" fill="#111">Primary</text>
<rect x="72.00" y="592.50" width="65.10" height="10.30" fill="#7ec8dc" stroke="none" stroke-width="0.8"/>
<rect x="137.10" y="592.50" width="41.10" height="10.30" fill="#e45e69" stroke="none" stroke-width="0.8"/>
<line x1="65.20" y1="597.65" x2="67.20" y2="597.65" stroke="#333" stroke-width="0.7"/>
<text x="64.60" y="598.85" font-size="9.2" text-anchor="end" fill="#e4505e">FN1</text>
<rect x="72.00" y="606.48" width="60.11" height="10.30" fill="#7ec8dc" stroke="none" stroke-width="0.8"/>
<rect x="132.11" y="606.48" width="46.09" height="10.30" fill="#e45e69" stroke="none" stroke-width="0.8"/>
<line x1="65.20" y1="611.63" x2="67.20" y2="611.63" stroke="#333" stroke-width="0.7"/>
<text x="64.60" y="612.83" font-size="9.2" text-anchor="end" fill="#111">MIF</text>
<rect x="72.00" y="620.46" width="57.88" height="10.30" fill="#7ec8dc" stroke="none" stroke-width="0.8"/>
<rect x="129.88" y="620.46" width="48.32" height="10.30" fill="#e45e69" stroke="none" stroke-width="0.8"/>
<line x1="65.20" y1="625.61" x2="67.20" y2="625.61" stroke="#333" stroke-width="0.7"/>
<text x="64.60" y="626.81" font-size="9.2" text-anchor="end" fill="#e4505e">ANNEXIN</text>
<rect x="72.00" y="634.44" width="53.63" height="10.30" fill="#7ec8dc" stroke="none" stroke-width="0.8"/>
<rect x="125.63" y="634.44" width="52.57" height="10.30" fill="#e45e69" stroke="none" stroke-width="0.8"/>
<line x1="65.20" y1="639.59" x2="67.20" y2="639.59" stroke="#333" stroke-width="0.7"/>
<text x="64.60" y="640.79" font-size="9.2" text-anchor="end" fill="#111">COLLAGEN</text>
<rect x="72.00" y="648.42" width="52.57" height="10.30" fill="#7ec8dc" stroke="none" stroke-width="0.8"/>
<rect x="124.57" y="648.42" width="53.63" height="10.30" fill="#e45e69" stroke="none" stroke-width="0.8"/>
<line x1="65.20" y1="653.57" x2="67.20" y2="653.57" stroke="#333" stroke-width="0.7"/>
<text x="64.60" y="654.77" font-size="9.2" text-anchor="end" fill="#111">LAMININ</text>
<rect x="72.00" y="662.40" width="51.83" height="10.30" fill="#7ec8dc" stroke="none" stroke-width="0.8"/>
<rect x="123.83" y="662.40" width="54.37" height="10.30" fill="#e45e69" stroke="none" stroke-width="0.8"/>
<line x1="65.20" y1="667.55" x2="67.20" y2="667.55" stroke="#333" stroke-width="0.7"/>
<text x="64.60" y="668.75" font-size="9.2" text-anchor="end" fill="#6ec4dc">APP</text>
<rect x="72.00" y="676.38" width="48.32" height="10.30" fill="#7ec8dc" stroke="none" stroke-width="0.8"/>
<rect x="120.32" y="676.38" width="57.88" height="10.30" fill="#e45e69" stroke="none" stroke-width="0.8"/>
<line x1="65.20" y1="681.53" x2="67.20" y2="681.53" stroke="#333" stroke-width="0.7"/>
<text x="64.60" y="682.73" font-size="9.2" text-anchor="end" fill="#6ec4dc">THY1</text>
<rect x="72.00" y="690.36" width="48.96" height="10.30" fill="#7ec8dc" stroke="none" stroke-width="0.8"/>
<rect x="120.96" y="690.36" width="57.24" height="10.30" fill="#e45e69" stroke="none" stroke-width="0.8"/>
<line x1="65.20" y1="695.51" x2="67.20" y2="695.51" stroke="#333" stroke-width="0.7"/>
<text x="64.60" y="696.71" font-size="9.2" text-anchor="end" fill="#111">CD99</text>
<rect x="72.00" y="704.34" width="40.78" height="10.30" fill="#7ec8dc" stroke="none" stroke-width="0.8"/>
<rect x="112.78" y="704.34" width="65.42" height="10.30" fill="#e45e69" stroke="none" stroke-width="0.8"/>
<line x1="65.20" y1="709.49" x2="67.20" y2="709.49" stroke="#333" stroke-width="0.7"/>
<text x="64.60" y="710.69" font-size="9.2" text-anchor="end" fill="#111">VISFATIN</text>
<rect x="72.00" y="718.32" width="39.29" height="10.30" fill="#7ec8dc" stroke="none" stroke-width="0.8"/>
<rect x="111.29" y="718.32" width="66.91" height="10.30" fill="#e45e69" stroke="none" stroke-width="0.8"/>
<line x1="65.20" y1="723.47" x2="67.20" y2="723.47" stroke="#333" stroke-width="0.7"/>
<text x="64.60" y="724.67" font-size="9.2" text-anchor="end" fill="#111">MK</text>
<rect x="72.00" y="732.30" width="35.05" height="10.30" fill="#7ec8dc" stroke="none" stroke-width="0.8"/>
<rect x="107.05" y="732.30" width="71.15" height="10.30" fill="#e45e69" stroke="none" stroke-width="0.8"/>
<line x1="65.20" y1="737.45" x2="67.20" y2="737.45" stroke="#333" stroke-width="0.7"/>
<text x="64.60" y="738.65" font-size="9.2" text-anchor="end" fill="#111">THBS</text>
<rect x="72.00" y="746.28" width="32.50" height="10.30" fill="#7ec8dc" stroke="none" stroke-width="0.8"/>
<rect x="104.50" y="746.28" width="73.70" height="10.30" fill="#e45e69" stroke="none" stroke-width="0.8"/>
<line x1="65.20" y1="751.43" x2="67.20" y2="751.43" stroke="#333" stroke-width="0.7"/>
<text x="64.60" y="752.63" font-size="9.2" text-anchor="end" fill="#111">COMPLEMENT</text>
<rect x="72.00" y="760.26" width="28.99" height="10.30" fill="#7ec8dc" stroke="none" stroke-width="0.8"/>
<rect x="100.99" y="760.26" width="77.21" height="10.30" fill="#e45e69" stroke="none" stroke-width="0.8"/>
<line x1="65.20" y1="765.41" x2="67.20" y2="765.41" stroke="#333" stroke-width="0.7"/>
<text x="64.60" y="766.61" font-size="9.2" text-anchor="end" fill="#111">VEGF</text>
<rect x="72.00" y="774.24" width="106.20" height="10.30" fill="#e45e69" stroke="none" stroke-width="0.8"/>
<line x1="65.20" y1="779.39" x2="67.20" y2="779.39" stroke="#333" stroke-width="0.7"/>
<text x="64.60" y="780.59" font-size="9.2" text-anchor="end" fill="#6ec4dc">CXCL</text>
<line x1="125.30" y1="589.50" x2="125.30" y2="787.00" stroke="#8c8c8c" stroke-width="0.8" stroke-dasharray="3,2.2"/>
<line x1="67.20" y1="588.80" x2="67.20" y2="787.40" stroke="#333" stroke-width="0.9"/>
<line x1="67.20" y1="787.40" x2="183.30" y2="787.40" stroke="#333" stroke-width="0.9"/>
<line x1="72.00" y1="787.40" x2="72.00" y2="789.60" stroke="#333" stroke-width="0.7"/>
<text x="72.00" y="798.30" font-size="8.6" text-anchor="middle" fill="#444">0.00</text>
<line x1="98.55" y1="787.40" x2="98.55" y2="789.60" stroke="#333" stroke-width="0.7"/>
<text x="98.55" y="798.30" font-size="8.6" text-anchor="middle" fill="#444">0.25</text>
<line x1="125.10" y1="787.40" x2="125.10" y2="789.60" stroke="#333" stroke-width="0.7"/>
<text x="125.10" y="798.30" font-size="8.6" text-anchor="middle" fill="#444">0.50</text>
<line x1="151.65" y1="787.40" x2="151.65" y2="789.60" stroke="#333" stroke-width="0.7"/>
<text x="151.65" y="798.30" font-size="8.6" text-anchor="middle" fill="#444">0.75</text>
<line x1="178.20" y1="787.40" x2="178.20" y2="789.60" stroke="#333" stroke-width="0.7"/>
<text x="178.20" y="798.30" font-size="8.6" text-anchor="middle" fill="#444">1.00</text>
<text x="131.30" y="811.20" font-size="9.35" text-anchor="middle" fill="#111">Relative information flow</text>
<rect x="254.80" y="591.40" width="26.16" height="4.80" fill="#7ec8dc" stroke="none" stroke-width="0.8"/>
<rect x="254.80" y="597.10" width="19.53" height="4.60" fill="#e45e69" stroke="none" stroke-width="0.8"/>
<line x1="247.60" y1="596.70" x2="249.50" y2="596.70" stroke="#333" stroke-width="0.7"/>
<text x="247.00" y="598.20" font-size="9.2" text-anchor="end" fill="#e4505e">FN1</text>
<rect x="254.80" y="605.33" width="22.85" height="4.80" fill="#7ec8dc" stroke="none" stroke-width="0.8"/>
<rect x="254.80" y="611.03" width="19.53" height="4.60" fill="#e45e69" stroke="none" stroke-width="0.8"/>
<line x1="247.60" y1="610.63" x2="249.50" y2="610.63" stroke="#333" stroke-width="0.7"/>
<text x="247.00" y="612.13" font-size="9.2" text-anchor="end" fill="#111">MIF</text>
<rect x="254.80" y="619.26" width="7.00" height="4.80" fill="#7ec8dc" stroke="none" stroke-width="0.8"/>
<rect x="254.80" y="624.96" width="7.00" height="4.60" fill="#e45e69" stroke="none" stroke-width="0.8"/>
<line x1="247.60" y1="624.56" x2="249.50" y2="624.56" stroke="#333" stroke-width="0.7"/>
<text x="247.00" y="626.06" font-size="9.2" text-anchor="end" fill="#e4505e">ANNEXIN</text>
<rect x="254.80" y="633.19" width="105.76" height="4.80" fill="#7ec8dc" stroke="none" stroke-width="0.8"/>
<rect x="254.80" y="638.89" width="99.86" height="4.60" fill="#e45e69" stroke="none" stroke-width="0.8"/>
<line x1="247.60" y1="638.49" x2="249.50" y2="638.49" stroke="#333" stroke-width="0.7"/>
<text x="247.00" y="639.99" font-size="9.2" text-anchor="end" fill="#111">COLLAGEN</text>
<rect x="254.80" y="647.12" width="12.16" height="4.80" fill="#7ec8dc" stroke="none" stroke-width="0.8"/>
<rect x="254.80" y="652.82" width="12.16" height="4.60" fill="#e45e69" stroke="none" stroke-width="0.8"/>
<line x1="247.60" y1="652.42" x2="249.50" y2="652.42" stroke="#333" stroke-width="0.7"/>
<text x="247.00" y="653.92" font-size="9.2" text-anchor="end" fill="#111">LAMININ</text>
<rect x="254.80" y="661.05" width="13.63" height="4.80" fill="#7ec8dc" stroke="none" stroke-width="0.8"/>
<rect x="254.80" y="666.75" width="14.00" height="4.60" fill="#e45e69" stroke="none" stroke-width="0.8"/>
<line x1="247.60" y1="666.35" x2="249.50" y2="666.35" stroke="#333" stroke-width="0.7"/>
<text x="247.00" y="667.85" font-size="9.2" text-anchor="end" fill="#6ec4dc">APP</text>
<rect x="254.80" y="674.98" width="12.16" height="4.80" fill="#7ec8dc" stroke="none" stroke-width="0.8"/>
<rect x="254.80" y="680.68" width="13.63" height="4.60" fill="#e45e69" stroke="none" stroke-width="0.8"/>
<line x1="247.60" y1="680.28" x2="249.50" y2="680.28" stroke="#333" stroke-width="0.7"/>
<text x="247.00" y="681.78" font-size="9.2" text-anchor="end" fill="#6ec4dc">THY1</text>
<rect x="254.80" y="688.91" width="11.05" height="4.80" fill="#7ec8dc" stroke="none" stroke-width="0.8"/>
<rect x="254.80" y="694.61" width="11.42" height="4.60" fill="#e45e69" stroke="none" stroke-width="0.8"/>
<line x1="247.60" y1="694.21" x2="249.50" y2="694.21" stroke="#333" stroke-width="0.7"/>
<text x="247.00" y="695.71" font-size="9.2" text-anchor="end" fill="#111">CD99</text>
<rect x="254.80" y="702.84" width="5.90" height="4.80" fill="#7ec8dc" stroke="none" stroke-width="0.8"/>
<rect x="254.80" y="708.54" width="6.26" height="4.60" fill="#e45e69" stroke="none" stroke-width="0.8"/>
<line x1="247.60" y1="708.14" x2="249.50" y2="708.14" stroke="#333" stroke-width="0.7"/>
<text x="247.00" y="709.64" font-size="9.2" text-anchor="end" fill="#111">VISFATIN</text>
<rect x="254.80" y="716.77" width="7.00" height="4.80" fill="#7ec8dc" stroke="none" stroke-width="0.8"/>
<rect x="254.80" y="722.47" width="8.48" height="4.60" fill="#e45e69" stroke="none" stroke-width="0.8"/>
<line x1="247.60" y1="722.07" x2="249.50" y2="722.07" stroke="#333" stroke-width="0.7"/>
<text x="247.00" y="723.57" font-size="9.2" text-anchor="end" fill="#111">MK</text>
<rect x="254.80" y="730.70" width="9.21" height="4.80" fill="#7ec8dc" stroke="none" stroke-width="0.8"/>
<rect x="254.80" y="736.40" width="11.42" height="4.60" fill="#e45e69" stroke="none" stroke-width="0.8"/>
<line x1="247.60" y1="736.00" x2="249.50" y2="736.00" stroke="#333" stroke-width="0.7"/>
<text x="247.00" y="737.50" font-size="9.2" text-anchor="end" fill="#111">THBS</text>
<rect x="254.80" y="744.63" width="8.48" height="4.80" fill="#7ec8dc" stroke="none" stroke-width="0.8"/>
<rect x="254.80" y="750.33" width="10.32" height="4.60" fill="#e45e69" stroke="none" stroke-width="0.8"/>
<line x1="247.60" y1="749.93" x2="249.50" y2="749.93" stroke="#333" stroke-width="0.7"/>
<text x="247.00" y="751.43" font-size="9.2" text-anchor="end" fill="#111">COMPLEMENT</text>
<rect x="254.80" y="758.56" width="5.16" height="4.80" fill="#7ec8dc" stroke="none" stroke-width="0.8"/>
<rect x="254.80" y="764.26" width="6.26" height="4.60" fill="#e45e69" stroke="none" stroke-width="0.8"/>
<line x1="247.60" y1="763.86" x2="249.50" y2="763.86" stroke="#333" stroke-width="0.7"/>
<text x="247.00" y="765.36" font-size="9.2" text-anchor="end" fill="#111">VEGF</text>
<rect x="254.80" y="778.19" width="6.26" height="4.60" fill="#e45e69" stroke="none" stroke-width="0.8"/>
<line x1="247.60" y1="777.79" x2="249.50" y2="777.79" stroke="#333" stroke-width="0.7"/>
<text x="247.00" y="779.29" font-size="9.2" text-anchor="end" fill="#6ec4dc">CXCL</text>
<line x1="249.50" y1="588.30" x2="249.50" y2="786.30" stroke="#333" stroke-width="0.9"/>
<line x1="249.50" y1="786.30" x2="366.00" y2="786.30" stroke="#333" stroke-width="0.9"/>
<line x1="254.80" y1="786.30" x2="254.80" y2="788.50" stroke="#333" stroke-width="0.7"/>
<text x="254.80" y="797.80" font-size="8.6" text-anchor="middle" fill="#444">0</text>
<line x1="291.65" y1="786.30" x2="291.65" y2="788.50" stroke="#333" stroke-width="0.7"/>
<text x="291.65" y="797.80" font-size="8.6" text-anchor="middle" fill="#444">1</text>
<line x1="328.50" y1="786.30" x2="328.50" y2="788.50" stroke="#333" stroke-width="0.7"/>
<text x="328.50" y="797.80" font-size="8.6" text-anchor="middle" fill="#444">2</text>
<text x="365.35" y="797.80" font-size="8.6" text-anchor="middle" fill="#444">3</text>
<text x="311.20" y="811.20" font-size="9.35" text-anchor="middle" fill="#111">Information flow</text>
<g transform="translate(380.00 552.93) scale(0.88 1)"><text x="0" y="0" font-size="11.5" font-weight="bold" fill="#000">L</text></g>
<text x="438.30" y="557.30" font-size="9.37" text-anchor="start" fill="#111">VEGFR1 (ARG152) / MARCO (MET462)</text>
<path d="M457 591 C460 588 464 590 468 588 C472 590 476 588 480 590 C484 588 488 590 492 588 C496 590 500 589 503 592 C507 595 507 600 504 604 C502 608 498 607 494 609 C490 607 486 610 482 608 C478 611 474 609 470 612 C466 610 462 611 459 608 C455 604 454 596 457 591 Z" fill="#c3c3f2" opacity="0.92"/>
<path d="M439 588 C446 586 454 587 459 590 C461 595 460 600 457 604 C454 608 451 612 449 616 C446 621 442 624 440 628 C438 634 436 640 433 645 C430 649 424 649 421 644 C418 637 419 629 421 622 C423 617 425 614 427 611 C428 606 429 602 432 598 C434 593 436 590 439 588 Z" fill="#c3c3f2" opacity="0.92"/>
<clipPath id="tx984"><path d="M457 591 C460 588 464 590 468 588 C472 590 476 588 480 590 C484 588 488 590 492 588 C496 590 500 589 503 592 C507 595 507 600 504 604 C502 608 498 607 494 609 C490 607 486 610 482 608 C478 611 474 609 470 612 C466 610 462 611 459 608 C455 604 454 596 457 591 Z"/></clipPath>
<g clip-path="url(#tx984)" opacity="0.8"><circle cx="488.5" cy="586.7" r="0.64" fill="#d2d2f7"/><circle cx="461.5" cy="588.8" r="0.87" fill="#a9a9ea"/><circle cx="485.9" cy="586.9" r="0.55" fill="#d2d2f7"/><circle cx="481.3" cy="586.7" r="0.60" fill="#b8b8f0"/><circle cx="465.9" cy="601.9" r="0.90" fill="#a9a9ea"/><circle cx="495.0" cy="590.3" r="0.71" fill="#9a9ae2"/><circle cx="462.4" cy="611.8" r="0.67" fill="#a9a9ea"/><circle cx="474.5" cy="595.7" r="0.67" fill="#9a9ae2"/><circle cx="497.6" cy="605.7" r="0.77" fill="#b8b8f0"/><circle cx="458.3" cy="593.9" r="0.81" fill="#9a9ae2"/><circle cx="485.2" cy="605.0" r="0.52" fill="#d2d2f7"/><circle cx="495.7" cy="612.6" r="0.93" fill="#a9a9ea"/><circle cx="474.5" cy="598.2" r="0.92" fill="#d2d2f7"/><circle cx="474.0" cy="591.7" r="0.63" fill="#a9a9ea"/><circle cx="486.9" cy="590.6" r="0.86" fill="#d2d2f7"/><circle cx="479.0" cy="593.3" r="0.96" fill="#d2d2f7"/><circle cx="491.0" cy="608.8" r="0.89" fill="#d2d2f7"/><circle cx="498.4" cy="607.7" r="0.70" fill="#a9a9ea"/><circle cx="465.4" cy="611.5" r="0.94" fill="#9a9ae2"/><circle cx="465.5" cy="599.5" r="0.94" fill="#b8b8f0"/><circle cx="461.7" cy="589.8" r="0.87" fill="#9a9ae2"/><circle cx="494.3" cy="597.6" r="0.79" fill="#9a9ae2"/><circle cx="465.8" cy="612.9" r="0.75" fill="#a9a9ea"/><circle cx="494.8" cy="609.2" r="0.58" fill="#d2d2f7"/><circle cx="496.8" cy="597.4" r="0.53" fill="#b8b8f0"/><circle cx="486.2" cy="598.6" r="0.63" fill="#a9a9ea"/><circle cx="490.7" cy="589.1" r="0.94" fill="#9a9ae2"/><circle cx="495.5" cy="595.2" r="0.65" fill="#d2d2f7"/><circle cx="478.5" cy="611.8" r="0.94" fill="#9a9ae2"/><circle cx="506.5" cy="606.6" r="0.75" fill="#a9a9ea"/><circle cx="501.0" cy="594.1" r="0.82" fill="#d2d2f7"/><circle cx="462.3" cy="606.6" r="0.77" fill="#a9a9ea"/><circle cx="486.3" cy="599.2" r="0.56" fill="#9a9ae2"/><circle cx="501.5" cy="608.5" r="0.65" fill="#a9a9ea"/><circle cx="467.0" cy="601.3" r="0.54" fill="#b8b8f0"/><circle cx="498.1" cy="612.4" r="0.77" fill="#d2d2f7"/><circle cx="460.9" cy="598.8" r="0.77" fill="#9a9ae2"/><circle cx="482.5" cy="602.4" r="0.98" fill="#d2d2f7"/><circle cx="492.5" cy="596.8" r="0.84" fill="#9a9ae2"/><circle cx="477.7" cy="600.0" r="0.56" fill="#d2d2f7"/><circle cx="457.5" cy="586.6" r="0.78" fill="#d2d2f7"/><circle cx="454.4" cy="605.1" r="0.53" fill="#a9a9ea"/><circle cx="502.9" cy="609.2" r="0.54" fill="#d2d2f7"/><circle cx="469.0" cy="599.1" r="0.77" fill="#b8b8f0"/><circle cx="467.1" cy="598.8" r="0.70" fill="#a9a9ea"/><circle cx="459.2" cy="597.6" r="0.71" fill="#b8b8f0"/><circle cx="500.6" cy="587.5" r="0.83" fill="#a9a9ea"/><circle cx="457.3" cy="605.7" r="0.90" fill="#a9a9ea"/><circle cx="467.4" cy="591.1" r="0.72" fill="#b8b8f0"/><circle cx="463.9" cy="598.5" r="0.94" fill="#a9a9ea"/><circle cx="477.9" cy="609.3" r="0.78" fill="#a9a9ea"/><circle cx="489.2" cy="600.6" r="0.51" fill="#a9a9ea"/><circle cx="504.0" cy="608.9" r="0.58" fill="#b8b8f0"/><circle cx="480.0" cy="609.3" r="0.95" fill="#d2d2f7"/><circle cx="474.5" cy="612.6" r="0.63" fill="#b8b8f0"/><circle cx="469.4" cy="604.8" r="0.87" fill="#b8b8f0"/><circle cx="462.4" cy="594.0" r="0.98" fill="#a9a9ea"/><circle cx="494.4" cy="587.5" r="0.79" fill="#d2d2f7"/><circle cx="457.1" cy="599.7" r="0.93" fill="#a9a9ea"/><circle cx="486.1" cy="604.2" r="0.62" fill="#a9a9ea"/><circle cx="504.8" cy="601.4" r="0.79" fill="#a9a9ea"/><circle cx="487.4" cy="597.3" r="0.79" fill="#9a9ae2"/><circle cx="504.5" cy="591.5" r="0.86" fill="#d2d2f7"/><circle cx="468.3" cy="589.5" r="0.82" fill="#b8b8f0"/><circle cx="471.1" cy="606.3" r="0.54" fill="#b8b8f0"/><circle cx="487.5" cy="601.2" r="0.55" fill="#d2d2f7"/><circle cx="481.3" cy="589.6" r="0.67" fill="#a9a9ea"/><circle cx="501.5" cy="596.0" r="0.58" fill="#9a9ae2"/><circle cx="487.0" cy="612.7" r="0.83" fill="#a9a9ea"/><circle cx="490.1" cy="601.0" r="0.97" fill="#a9a9ea"/><circle cx="504.7" cy="589.6" r="0.56" fill="#a9a9ea"/><circle cx="494.1" cy="590.2" r="0.64" fill="#d2d2f7"/><circle cx="492.8" cy="591.5" r="0.82" fill="#9a9ae2"/><circle cx="481.3" cy="592.8" r="0.95" fill="#a9a9ea"/><circle cx="459.0" cy="597.4" r="0.64" fill="#a9a9ea"/><circle cx="472.0" cy="589.5" r="0.99" fill="#d2d2f7"/><circle cx="494.0" cy="600.9" r="0.71" fill="#a9a9ea"/><circle cx="460.0" cy="611.5" r="0.85" fill="#d2d2f7"/><circle cx="483.5" cy="608.5" r="0.79" fill="#d2d2f7"/><circle cx="477.2" cy="587.1" r="0.68" fill="#a9a9ea"/><circle cx="502.5" cy="591.7" r="0.62" fill="#a9a9ea"/><circle cx="473.1" cy="601.1" r="0.94" fill="#d2d2f7"/><circle cx="504.0" cy="592.4" r="0.58" fill="#d2d2f7"/><circle cx="501.6" cy="586.7" r="0.87" fill="#9a9ae2"/><circle cx="496.2" cy="597.1" r="0.83" fill="#d2d2f7"/><circle cx="468.4" cy="607.3" r="0.55" fill="#a9a9ea"/><circle cx="500.4" cy="592.0" r="0.91" fill="#b8b8f0"/><circle cx="472.9" cy="608.2" r="0.94" fill="#d2d2f7"/><circle cx="455.3" cy="591.2" r="0.66" fill="#a9a9ea"/><circle cx="506.2" cy="593.5" r="0.82" fill="#b8b8f0"/><circle cx="490.7" cy="608.8" r="0.67" fill="#a9a9ea"/><circle cx="460.2" cy="612.2" r="0.59" fill="#9a9ae2"/><circle cx="456.1" cy="602.1" r="0.67" fill="#9a9ae2"/><circle cx="477.6" cy="612.6" r="0.56" fill="#d2d2f7"/><circle cx="467.8" cy="605.1" r="0.50" fill="#d2d2f7"/><circle cx="473.7" cy="587.9" r="0.83" fill="#9a9ae2"/><circle cx="487.7" cy="603.9" r="0.56" fill="#9a9ae2"/><circle cx="481.4" cy="604.0" r="0.66" fill="#9a9ae2"/><circle cx="483.9" cy="591.2" r="0.83" fill="#b8b8f0"/><circle cx="490.6" cy="610.4" r="0.81" fill="#9a9ae2"/><circle cx="475.9" cy="608.5" r="0.65" fill="#d2d2f7"/><circle cx="477.2" cy="601.7" r="0.83" fill="#b8b8f0"/><circle cx="477.9" cy="604.2" r="0.76" fill="#d2d2f7"/><circle cx="489.6" cy="593.7" r="0.83" fill="#9a9ae2"/><circle cx="459.0" cy="611.7" r="0.62" fill="#9a9ae2"/><circle cx="466.1" cy="591.4" r="0.51" fill="#d2d2f7"/><circle cx="507.1" cy="602.5" r="0.88" fill="#b8b8f0"/><circle cx="476.4" cy="603.0" r="0.60" fill="#b8b8f0"/><circle cx="480.7" cy="592.6" r="0.83" fill="#a9a9ea"/><circle cx="502.2" cy="609.2" r="0.94" fill="#b8b8f0"/><circle cx="465.8" cy="607.7" r="0.85" fill="#b8b8f0"/><circle cx="456.7" cy="592.7" r="0.92" fill="#b8b8f0"/><circle cx="461.2" cy="598.5" r="0.77" fill="#9a9ae2"/><circle cx="505.3" cy="610.1" r="0.81" fill="#b8b8f0"/><circle cx="498.9" cy="600.8" r="0.95" fill="#b8b8f0"/><circle cx="478.3" cy="606.3" r="0.92" fill="#9a9ae2"/><circle cx="495.4" cy="600.1" r="0.81" fill="#9a9ae2"/><circle cx="477.8" cy="605.3" r="0.62" fill="#9a9ae2"/><circle cx="471.3" cy="600.6" r="0.57" fill="#d2d2f7"/><circle cx="474.7" cy="590.1" r="0.61" fill="#b8b8f0"/><circle cx="476.0" cy="600.7" r="0.71" fill="#d2d2f7"/><circle cx="499.0" cy="596.5" r="0.88" fill="#a9a9ea"/><circle cx="500.3" cy="606.7" r="0.69" fill="#a9a9ea"/><circle cx="504.9" cy="594.1" r="0.69" fill="#b8b8f0"/><circle cx="483.1" cy="605.8" r="0.90" fill="#d2d2f7"/><circle cx="480.4" cy="593.4" r="0.74" fill="#b8b8f0"/><circle cx="472.2" cy="604.3" r="0.70" fill="#d2d2f7"/><circle cx="499.4" cy="610.8" r="0.99" fill="#a9a9ea"/><circle cx="503.0" cy="602.0" r="0.83" fill="#a9a9ea"/><circle cx="488.7" cy="589.7" r="0.73" fill="#a9a9ea"/><circle cx="468.0" cy="594.8" r="0.73" fill="#9a9ae2"/><circle cx="495.1" cy="596.2" r="0.88" fill="#b8b8f0"/><circle cx="467.6" cy="588.2" r="0.51" fill="#a9a9ea"/><circle cx="508.0" cy="595.4" r="0.83" fill="#a9a9ea"/><circle cx="494.7" cy="611.6" r="0.60" fill="#a9a9ea"/><circle cx="487.6" cy="592.4" r="0.74" fill="#a9a9ea"/><circle cx="484.5" cy="591.9" r="0.85" fill="#9a9ae2"/><circle cx="463.1" cy="602.4" r="0.87" fill="#a9a9ea"/><circle cx="496.0" cy="590.4" r="0.66" fill="#a9a9ea"/><circle cx="504.2" cy="601.5" r="0.95" fill="#b8b8f0"/><circle cx="475.4" cy="605.3" r="0.54" fill="#d2d2f7"/><circle cx="459.5" cy="606.9" r="0.93" fill="#a9a9ea"/><circle cx="497.0" cy="601.3" r="0.52" fill="#b8b8f0"/><circle cx="489.7" cy="587.9" r="0.82" fill="#a9a9ea"/><circle cx="499.9" cy="608.2" r="0.55" fill="#9a9ae2"/><circle cx="488.3" cy="608.4" r="0.85" fill="#b8b8f0"/><circle cx="463.5" cy="600.1" r="0.83" fill="#b8b8f0"/><circle cx="479.1" cy="608.3" r="0.80" fill="#9a9ae2"/><circle cx="500.0" cy="608.4" r="0.54" fill="#b8b8f0"/><circle cx="467.2" cy="598.5" r="0.81" fill="#b8b8f0"/><circle cx="472.2" cy="599.3" r="0.66" fill="#b8b8f0"/><circle cx="465.5" cy="607.5" r="0.67" fill="#9a9ae2"/><circle cx="484.0" cy="599.9" r="0.60" fill="#d2d2f7"/><circle cx="492.9" cy="599.2" r="0.88" fill="#b8b8f0"/><circle cx="488.9" cy="599.3" r="0.90" fill="#a9a9ea"/><circle cx="469.9" cy="596.9" r="0.62" fill="#9a9ae2"/><circle cx="479.6" cy="600.3" r="0.71" fill="#9a9ae2"/><circle cx="473.0" cy="598.3" r="0.65" fill="#d2d2f7"/><circle cx="460.5" cy="591.2" r="0.56" fill="#d2d2f7"/><circle cx="464.3" cy="605.9" r="0.64" fill="#9a9ae2"/><circle cx="506.9" cy="608.5" r="0.65" fill="#9a9ae2"/><circle cx="463.7" cy="586.4" r="0.77" fill="#9a9ae2"/><circle cx="456.5" cy="587.5" r="0.65" fill="#d2d2f7"/><circle cx="488.4" cy="606.3" r="0.55" fill="#a9a9ea"/><circle cx="485.0" cy="598.7" r="0.72" fill="#d2d2f7"/><circle cx="506.1" cy="592.8" r="0.93" fill="#a9a9ea"/><circle cx="498.4" cy="596.8" r="0.54" fill="#a9a9ea"/><circle cx="462.2" cy="607.9" r="0.97" fill="#a9a9ea"/><circle cx="507.7" cy="589.2" r="0.88" fill="#d2d2f7"/><circle cx="495.9" cy="596.3" r="0.95" fill="#9a9ae2"/><circle cx="500.4" cy="612.7" r="0.65" fill="#a9a9ea"/><circle cx="486.9" cy="606.0" r="0.97" fill="#d2d2f7"/><circle cx="487.8" cy="593.1" r="0.54" fill="#d2d2f7"/><circle cx="463.4" cy="588.0" r="0.50" fill="#b8b8f0"/><circle cx="491.2" cy="598.7" r="0.52" fill="#9a9ae2"/><circle cx="492.2" cy="605.0" r="0.73" fill="#d2d2f7"/><circle cx="503.9" cy="607.3" r="0.81" fill="#d2d2f7"/><circle cx="477.0" cy="600.7" r="0.82" fill="#9a9ae2"/><circle cx="498.6" cy="587.9" r="0.58" fill="#9a9ae2"/><circle cx="486.1" cy="608.3" r="0.96" fill="#b8b8f0"/><circle cx="460.7" cy="604.6" r="0.85" fill="#9a9ae2"/><circle cx="481.0" cy="599.3" r="0.54" fill="#a9a9ea"/><circle cx="502.0" cy="605.8" r="0.80" fill="#a9a9ea"/><circle cx="458.9" cy="612.0" r="0.92" fill="#a9a9ea"/><circle cx="508.0" cy="604.2" r="0.63" fill="#a9a9ea"/><circle cx="495.2" cy="590.7" r="0.76" fill="#b8b8f0"/><circle cx="503.5" cy="590.9" r="0.79" fill="#b8b8f0"/><circle cx="506.3" cy="598.7" r="0.70" fill="#9a9ae2"/><circle cx="490.2" cy="609.2" r="0.66" fill="#b8b8f0"/><circle cx="469.6" cy="611.5" r="0.91" fill="#a9a9ea"/><circle cx="478.6" cy="594.5" r="0.66" fill="#b8b8f0"/><circle cx="500.7" cy="608.3" r="0.50" fill="#b8b8f0"/><circle cx="476.3" cy="591.1" r="0.68" fill="#b8b8f0"/><circle cx="487.8" cy="606.5" r="0.60" fill="#d2d2f7"/><circle cx="504.1" cy="597.8" r="0.85" fill="#a9a9ea"/><circle cx="455.6" cy="603.0" r="0.90" fill="#d2d2f7"/><circle cx="470.8" cy="586.4" r="0.70" fill="#d2d2f7"/><circle cx="507.6" cy="610.6" r="0.73" fill="#a9a9ea"/><circle cx="489.0" cy="590.2" r="0.97" fill="#9a9ae2"/><circle cx="481.5" cy="593.4" r="0.92" fill="#b8b8f0"/><circle cx="467.2" cy="600.9" r="0.69" fill="#d2d2f7"/><circle cx="500.7" cy="593.5" r="0.90" fill="#b8b8f0"/><circle cx="472.4" cy="607.3" r="0.63" fill="#a9a9ea"/><circle cx="469.3" cy="594.1" r="0.79" fill="#b8b8f0"/><circle cx="500.7" cy="598.1" r="0.74" fill="#9a9ae2"/><circle cx="483.8" cy="600.7" r="0.73" fill="#9a9ae2"/><circle cx="501.0" cy="612.5" r="0.62" fill="#b8b8f0"/><circle cx="466.6" cy="606.9" r="0.52" fill="#b8b8f0"/><circle cx="492.1" cy="607.9" r="0.69" fill="#d2d2f7"/><circle cx="480.7" cy="587.0" r="0.75" fill="#9a9ae2"/><circle cx="501.0" cy="609.6" r="0.72" fill="#b8b8f0"/><circle cx="454.8" cy="589.9" r="0.94" fill="#d2d2f7"/><circle cx="458.0" cy="607.1" r="0.63" fill="#b8b8f0"/><circle cx="489.1" cy="609.0" r="0.93" fill="#b8b8f0"/><circle cx="505.5" cy="602.9" r="0.94" fill="#b8b8f0"/><circle cx="501.1" cy="587.0" r="0.53" fill="#9a9ae2"/><circle cx="507.9" cy="606.2" r="0.72" fill="#a9a9ea"/><circle cx="495.1" cy="605.0" r="0.55" fill="#d2d2f7"/><circle cx="491.5" cy="610.4" r="0.52" fill="#a9a9ea"/><circle cx="469.8" cy="596.1" r="0.57" fill="#b8b8f0"/><circle cx="484.6" cy="607.4" r="0.58" fill="#a9a9ea"/><circle cx="486.9" cy="596.3" r="0.84" fill="#b8b8f0"/><circle cx="503.3" cy="589.9" r="0.73" fill="#9a9ae2"/><circle cx="478.8" cy="604.0" r="0.95" fill="#b8b8f0"/><circle cx="502.7" cy="604.3" r="0.58" fill="#b8b8f0"/><circle cx="505.0" cy="612.7" r="0.65" fill="#b8b8f0"/><circle cx="491.3" cy="598.3" r="0.65" fill="#b8b8f0"/><circle cx="500.1" cy="588.9" r="0.69" fill="#9a9ae2"/><circle cx="485.0" cy="612.8" r="0.65" fill="#b8b8f0"/><circle cx="468.8" cy="601.3" r="0.84" fill="#a9a9ea"/><circle cx="503.2" cy="606.1" r="0.92" fill="#9a9ae2"/><circle cx="495.9" cy="592.2" r="0.90" fill="#d2d2f7"/><circle cx="488.4" cy="602.8" r="0.84" fill="#d2d2f7"/><circle cx="487.9" cy="610.4" r="0.82" fill="#9a9ae2"/><circle cx="496.6" cy="586.9" r="0.68" fill="#d2d2f7"/><circle cx="458.9" cy="594.0" r="0.87" fill="#d2d2f7"/><circle cx="464.8" cy="607.2" r="0.94" fill="#9a9ae2"/><circle cx="482.7" cy="610.7" r="0.92" fill="#9a9ae2"/><circle cx="503.4" cy="611.5" r="0.98" fill="#9a9ae2"/><circle cx="494.3" cy="595.1" r="0.56" fill="#a9a9ea"/><circle cx="461.6" cy="612.1" r="0.93" fill="#b8b8f0"/><circle cx="506.2" cy="607.7" r="0.68" fill="#b8b8f0"/><circle cx="454.8" cy="600.5" r="0.73" fill="#9a9ae2"/><circle cx="485.6" cy="608.2" r="0.97" fill="#a9a9ea"/><circle cx="490.4" cy="598.7" r="0.81" fill="#9a9ae2"/><circle cx="503.4" cy="592.0" r="0.53" fill="#b8b8f0"/><circle cx="503.1" cy="594.2" r="0.70" fill="#d2d2f7"/><circle cx="456.4" cy="587.0" r="1.00" fill="#a9a9ea"/><circle cx="459.2" cy="610.0" r="0.57" fill="#b8b8f0"/><circle cx="474.0" cy="611.6" r="0.85" fill="#b8b8f0"/><circle cx="485.7" cy="605.6" r="0.94" fill="#a9a9ea"/><circle cx="499.0" cy="602.6" r="0.97" fill="#9a9ae2"/><circle cx="455.8" cy="596.0" r="0.72" fill="#d2d2f7"/><circle cx="500.2" cy="588.7" r="0.84" fill="#9a9ae2"/><circle cx="457.3" cy="593.4" r="0.98" fill="#b8b8f0"/><circle cx="459.0" cy="591.7" r="0.82" fill="#a9a9ea"/><circle cx="456.7" cy="595.0" r="0.99" fill="#d2d2f7"/><circle cx="457.7" cy="606.7" r="0.60" fill="#d2d2f7"/><circle cx="497.9" cy="592.3" r="0.89" fill="#a9a9ea"/><circle cx="469.0" cy="612.6" r="0.99" fill="#9a9ae2"/><circle cx="497.1" cy="589.0" r="0.93" fill="#d2d2f7"/><circle cx="454.8" cy="607.3" r="0.62" fill="#9a9ae2"/><circle cx="454.9" cy="593.2" r="0.56" fill="#b8b8f0"/><circle cx="482.4" cy="606.1" r="0.74" fill="#9a9ae2"/><circle cx="481.7" cy="588.9" r="0.75" fill="#a9a9ea"/><circle cx="493.3" cy="610.5" r="0.83" fill="#9a9ae2"/><circle cx="478.7" cy="612.0" r="0.53" fill="#b8b8f0"/><circle cx="499.8" cy="597.5" r="0.55" fill="#b8b8f0"/><circle cx="458.0" cy="588.2" r="0.80" fill="#a9a9ea"/><circle cx="460.8" cy="602.9" r="0.79" fill="#9a9ae2"/><circle cx="474.6" cy="602.1" r="0.65" fill="#b8b8f0"/><circle cx="459.4" cy="604.9" r="0.93" fill="#d2d2f7"/><circle cx="477.2" cy="610.0" r="0.71" fill="#b8b8f0"/><circle cx="475.5" cy="605.7" r="0.66" fill="#9a9ae2"/><circle cx="489.9" cy="596.1" r="0.58" fill="#b8b8f0"/><circle cx="457.6" cy="608.5" r="0.55" fill="#a9a9ea"/><circle cx="494.2" cy="596.1" r="0.57" fill="#a9a9ea"/><circle cx="485.7" cy="601.2" r="0.66" fill="#a9a9ea"/><circle cx="476.2" cy="609.6" r="0.97" fill="#b8b8f0"/><circle cx="500.9" cy="605.5" r="0.98" fill="#9a9ae2"/><circle cx="473.0" cy="601.6" r="0.61" fill="#b8b8f0"/><circle cx="466.1" cy="588.9" r="0.92" fill="#9a9ae2"/><circle cx="460.2" cy="593.5" r="0.61" fill="#b8b8f0"/><circle cx="499.6" cy="612.3" r="0.91" fill="#a9a9ea"/><circle cx="486.9" cy="603.8" r="0.85" fill="#a9a9ea"/><circle cx="463.7" cy="605.0" r="0.65" fill="#9a9ae2"/><circle cx="473.0" cy="590.9" r="0.57" fill="#b8b8f0"/><circle cx="457.8" cy="606.0" r="0.99" fill="#a9a9ea"/><circle cx="494.3" cy="591.8" r="0.71" fill="#9a9ae2"/><circle cx="462.5" cy="594.4" r="0.66" fill="#a9a9ea"/><circle cx="501.7" cy="590.2" r="0.88" fill="#a9a9ea"/><circle cx="490.4" cy="593.3" r="0.83" fill="#b8b8f0"/><circle cx="486.8" cy="597.2" r="0.61" fill="#a9a9ea"/><circle cx="472.6" cy="589.0" r="0.84" fill="#b8b8f0"/><circle cx="482.5" cy="594.3" r="0.61" fill="#a9a9ea"/><circle cx="454.4" cy="594.1" r="0.61" fill="#d2d2f7"/><circle cx="495.3" cy="593.8" r="0.56" fill="#b8b8f0"/><circle cx="494.3" cy="590.7" r="0.69" fill="#d2d2f7"/><circle cx="481.0" cy="608.5" r="0.90" fill="#a9a9ea"/><circle cx="475.4" cy="606.0" r="0.72" fill="#b8b8f0"/><circle cx="503.7" cy="609.3" r="0.79" fill="#b8b8f0"/><circle cx="492.3" cy="597.3" r="0.56" fill="#a9a9ea"/><circle cx="506.2" cy="590.6" r="0.97" fill="#b8b8f0"/><circle cx="498.9" cy="610.8" r="0.54" fill="#a9a9ea"/><circle cx="467.1" cy="601.9" r="0.76" fill="#b8b8f0"/><circle cx="501.0" cy="606.1" r="0.61" fill="#d2d2f7"/><circle cx="458.1" cy="603.1" r="0.77" fill="#d2d2f7"/><circle cx="502.9" cy="595.4" r="0.86" fill="#d2d2f7"/><circle cx="466.8" cy="590.0" r="0.60" fill="#d2d2f7"/><circle cx="495.1" cy="603.7" r="0.59" fill="#b8b8f0"/><circle cx="479.1" cy="601.2" r="0.79" fill="#9a9ae2"/><circle cx="500.7" cy="602.9" r="0.58" fill="#a9a9ea"/><circle cx="479.3" cy="603.0" r="0.90" fill="#a9a9ea"/><circle cx="473.0" cy="588.0" r="0.73" fill="#a9a9ea"/><circle cx="457.1" cy="608.5" r="0.54" fill="#a9a9ea"/><circle cx="487.2" cy="599.7" r="0.73" fill="#a9a9ea"/><circle cx="478.3" cy="607.9" r="0.83" fill="#9a9ae2"/><circle cx="486.7" cy="599.5" r="0.98" fill="#b8b8f0"/><circle cx="459.6" cy="610.3" r="0.67" fill="#a9a9ea"/><circle cx="481.2" cy="590.7" r="0.62" fill="#b8b8f0"/><circle cx="507.5" cy="600.1" r="0.80" fill="#9a9ae2"/><circle cx="474.1" cy="593.6" r="0.70" fill="#9a9ae2"/><circle cx="490.7" cy="587.4" r="0.82" fill="#9a9ae2"/><circle cx="457.6" cy="588.6" r="0.84" fill="#9a9ae2"/><circle cx="467.6" cy="609.0" r="0.98" fill="#d2d2f7"/><circle cx="472.0" cy="601.7" r="0.57" fill="#9a9ae2"/><circle cx="470.8" cy="603.7" r="0.83" fill="#d2d2f7"/><circle cx="486.1" cy="611.3" r="0.65" fill="#b8b8f0"/><circle cx="488.7" cy="594.9" r="0.56" fill="#a9a9ea"/><circle cx="488.9" cy="597.4" r="0.68" fill="#9a9ae2"/><circle cx="470.7" cy="611.7" r="0.67" fill="#b8b8f0"/><circle cx="464.4" cy="613.0" r="0.58" fill="#9a9ae2"/><circle cx="499.6" cy="588.7" r="0.89" fill="#a9a9ea"/><circle cx="489.7" cy="609.7" r="0.81" fill="#b8b8f0"/><circle cx="462.3" cy="590.9" r="0.85" fill="#d2d2f7"/><circle cx="492.9" cy="587.2" r="0.68" fill="#d2d2f7"/><circle cx="506.4" cy="602.5" r="0.88" fill="#b8b8f0"/><circle cx="466.6" cy="592.5" r="0.98" fill="#b8b8f0"/><circle cx="502.8" cy="591.2" r="0.84" fill="#b8b8f0"/><circle cx="478.9" cy="593.6" r="0.69" fill="#b8b8f0"/><circle cx="506.2" cy="608.1" r="0.90" fill="#d2d2f7"/><circle cx="501.1" cy="587.4" r="0.74" fill="#9a9ae2"/><circle cx="483.9" cy="588.8" r="0.92" fill="#a9a9ea"/><circle cx="469.4" cy="606.6" r="0.64" fill="#d2d2f7"/><circle cx="498.9" cy="588.5" r="0.96" fill="#b8b8f0"/><circle cx="501.8" cy="611.1" r="0.71" fill="#b8b8f0"/><circle cx="481.1" cy="592.4" r="1.00" fill="#9a9ae2"/><circle cx="466.1" cy="594.6" r="0.55" fill="#9a9ae2"/><circle cx="496.7" cy="589.7" r="0.64" fill="#b8b8f0"/><circle cx="491.6" cy="589.7" r="0.85" fill="#b8b8f0"/><circle cx="487.2" cy="610.5" r="0.51" fill="#d2d2f7"/><circle cx="499.1" cy="600.8" r="0.86" fill="#b8b8f0"/><circle cx="460.0" cy="593.8" r="0.65" fill="#a9a9ea"/><circle cx="466.9" cy="603.3" r="0.81" fill="#a9a9ea"/><circle cx="460.0" cy="610.4" r="0.80" fill="#a9a9ea"/><circle cx="488.1" cy="601.5" r="0.86" fill="#9a9ae2"/><circle cx="477.2" cy="602.6" r="0.62" fill="#b8b8f0"/><circle cx="464.1" cy="604.0" r="0.76" fill="#9a9ae2"/><circle cx="457.7" cy="600.2" r="0.75" fill="#a9a9ea"/><circle cx="475.1" cy="598.7" r="0.82" fill="#9a9ae2"/><circle cx="467.7" cy="586.4" r="0.89" fill="#9a9ae2"/><circle cx="467.0" cy="603.7" r="0.55" fill="#9a9ae2"/><circle cx="461.2" cy="595.5" r="0.67" fill="#d2d2f7"/><circle cx="498.8" cy="604.5" r="0.99" fill="#b8b8f0"/><circle cx="488.1" cy="607.9" r="0.53" fill="#b8b8f0"/><circle cx="456.0" cy="591.4" r="0.90" fill="#a9a9ea"/><circle cx="471.0" cy="594.4" r="0.70" fill="#b8b8f0"/><circle cx="467.7" cy="606.3" r="0.60" fill="#9a9ae2"/><circle cx="500.6" cy="587.3" r="0.83" fill="#9a9ae2"/><circle cx="460.7" cy="595.9" r="0.94" fill="#b8b8f0"/><circle cx="502.3" cy="596.4" r="0.99" fill="#b8b8f0"/><circle cx="491.4" cy="595.9" r="0.90" fill="#9a9ae2"/><circle cx="497.3" cy="605.6" r="0.54" fill="#d2d2f7"/><circle cx="483.5" cy="594.7" r="0.54" fill="#9a9ae2"/><circle cx="470.6" cy="602.3" r="0.71" fill="#b8b8f0"/><circle cx="473.0" cy="587.1" r="0.94" fill="#9a9ae2"/><circle cx="487.2" cy="597.7" r="0.82" fill="#a9a9ea"/><circle cx="458.1" cy="603.2" r="0.68" fill="#d2d2f7"/><circle cx="505.5" cy="589.9" r="0.80" fill="#b8b8f0"/><circle cx="455.9" cy="587.8" r="0.89" fill="#9a9ae2"/><circle cx="473.6" cy="611.6" r="0.52" fill="#d2d2f7"/><circle cx="490.7" cy="611.6" r="0.69" fill="#a9a9ea"/><circle cx="485.0" cy="600.3" r="0.70" fill="#9a9ae2"/><circle cx="467.5" cy="589.1" r="0.87" fill="#b8b8f0"/><circle cx="482.0" cy="610.7" r="0.56" fill="#9a9ae2"/><circle cx="492.0" cy="591.8" r="0.81" fill="#b8b8f0"/><circle cx="464.8" cy="589.7" r="0.54" fill="#d2d2f7"/><circle cx="502.5" cy="598.0" r="0.54" fill="#9a9ae2"/><circle cx="490.1" cy="605.2" r="0.77" fill="#9a9ae2"/><circle cx="502.1" cy="609.0" r="0.86" fill="#d2d2f7"/><circle cx="496.9" cy="599.7" r="0.56" fill="#d2d2f7"/><circle cx="496.8" cy="592.4" r="0.75" fill="#9a9ae2"/><circle cx="483.9" cy="596.0" r="0.90" fill="#d2d2f7"/><circle cx="487.0" cy="588.3" r="0.65" fill="#b8b8f0"/><circle cx="482.4" cy="606.8" r="0.91" fill="#a9a9ea"/><circle cx="460.8" cy="594.6" r="0.54" fill="#b8b8f0"/><circle cx="490.7" cy="595.3" r="0.94" fill="#d2d2f7"/><circle cx="495.5" cy="589.5" r="0.75" fill="#a9a9ea"/><circle cx="498.9" cy="600.0" r="0.65" fill="#d2d2f7"/><circle cx="471.4" cy="605.2" r="0.67" fill="#9a9ae2"/><circle cx="499.7" cy="592.8" r="0.82" fill="#9a9ae2"/><circle cx="460.8" cy="594.2" r="0.77" fill="#d2d2f7"/><circle cx="486.0" cy="601.7" r="0.59" fill="#9a9ae2"/><circle cx="499.5" cy="601.2" r="0.91" fill="#a9a9ea"/><circle cx="458.4" cy="611.6" r="0.89" fill="#9a9ae2"/><circle cx="489.2" cy="606.7" r="0.71" fill="#a9a9ea"/><circle cx="480.9" cy="602.9" r="0.64" fill="#9a9ae2"/><circle cx="480.1" cy="607.7" r="0.84" fill="#9a9ae2"/><circle cx="478.5" cy="604.6" r="0.58" fill="#b8b8f0"/><circle cx="480.1" cy="591.5" r="0.80" fill="#9a9ae2"/><circle cx="500.5" cy="594.6" r="0.99" fill="#9a9ae2"/><circle cx="506.7" cy="589.5" r="0.69" fill="#a9a9ea"/><circle cx="471.2" cy="598.6" r="0.63" fill="#d2d2f7"/><circle cx="461.6" cy="587.4" r="0.97" fill="#b8b8f0"/><circle cx="467.4" cy="609.4" r="0.58" fill="#9a9ae2"/><circle cx="504.4" cy="605.5" r="0.59" fill="#d2d2f7"/><circle cx="480.9" cy="599.9" r="0.75" fill="#9a9ae2"/><circle cx="480.9" cy="588.4" r="0.70" fill="#b8b8f0"/><circle cx="506.2" cy="591.8" r="0.68" fill="#a9a9ea"/><circle cx="469.2" cy="602.1" r="0.92" fill="#b8b8f0"/></g>
<clipPath id="tx986"><path d="M439 588 C446 586 454 587 459 590 C461 595 460 600 457 604 C454 608 451 612 449 616 C446 621 442 624 440 628 C438 634 436 640 433 645 C430 649 424 649 421 644 C418 637 419 629 421 622 C423 617 425 614 427 611 C428 606 429 602 432 598 C434 593 436 590 439 588 Z"/></clipPath>
<g clip-path="url(#tx986)" opacity="0.8"><circle cx="428.9" cy="585.5" r="0.55" fill="#d2d2f7"/><circle cx="455.7" cy="632.3" r="0.88" fill="#9a9ae2"/><circle cx="418.0" cy="588.3" r="0.78" fill="#9a9ae2"/><circle cx="440.9" cy="589.8" r="0.75" fill="#9a9ae2"/><circle cx="453.1" cy="625.5" r="0.81" fill="#d2d2f7"/><circle cx="459.9" cy="610.6" r="0.90" fill="#9a9ae2"/><circle cx="441.1" cy="608.8" r="0.57" fill="#b8b8f0"/><circle cx="438.5" cy="587.9" r="0.57" fill="#9a9ae2"/><circle cx="452.2" cy="618.8" r="0.57" fill="#d2d2f7"/><circle cx="430.8" cy="624.8" r="0.58" fill="#9a9ae2"/><circle cx="442.7" cy="618.0" r="0.75" fill="#b8b8f0"/><circle cx="447.9" cy="604.5" r="0.91" fill="#9a9ae2"/><circle cx="430.9" cy="592.1" r="0.71" fill="#9a9ae2"/><circle cx="451.9" cy="632.1" r="0.84" fill="#a9a9ea"/><circle cx="442.9" cy="602.3" r="0.83" fill="#d2d2f7"/><circle cx="448.5" cy="622.9" r="0.59" fill="#b8b8f0"/><circle cx="422.6" cy="629.2" r="0.52" fill="#a9a9ea"/><circle cx="424.6" cy="613.7" r="0.71" fill="#b8b8f0"/><circle cx="447.1" cy="611.7" r="0.89" fill="#b8b8f0"/><circle cx="455.3" cy="632.8" r="0.53" fill="#d2d2f7"/><circle cx="439.3" cy="621.5" r="1.00" fill="#b8b8f0"/><circle cx="439.6" cy="605.4" r="0.59" fill="#9a9ae2"/><circle cx="440.6" cy="628.9" r="0.93" fill="#9a9ae2"/><circle cx="443.5" cy="597.5" r="0.62" fill="#9a9ae2"/><circle cx="426.1" cy="648.2" r="0.65" fill="#9a9ae2"/><circle cx="447.7" cy="629.9" r="0.74" fill="#b8b8f0"/><circle cx="431.7" cy="645.7" r="0.90" fill="#9a9ae2"/><circle cx="429.0" cy="622.3" r="0.77" fill="#b8b8f0"/><circle cx="452.8" cy="647.0" r="0.90" fill="#9a9ae2"/><circle cx="417.9" cy="647.1" r="0.54" fill="#b8b8f0"/><circle cx="445.5" cy="633.6" r="0.61" fill="#9a9ae2"/><circle cx="458.0" cy="630.3" r="0.57" fill="#d2d2f7"/><circle cx="426.9" cy="628.5" r="0.77" fill="#d2d2f7"/><circle cx="418.4" cy="611.9" r="0.86" fill="#a9a9ea"/><circle cx="446.7" cy="593.9" r="0.98" fill="#d2d2f7"/><circle cx="434.3" cy="645.8" r="0.94" fill="#b8b8f0"/><circle cx="445.3" cy="634.1" r="0.64" fill="#9a9ae2"/><circle cx="445.1" cy="644.0" r="0.54" fill="#d2d2f7"/><circle cx="440.1" cy="632.0" r="0.97" fill="#d2d2f7"/><circle cx="434.8" cy="639.4" r="0.97" fill="#a9a9ea"/><circle cx="460.9" cy="610.8" r="0.75" fill="#9a9ae2"/><circle cx="455.5" cy="585.6" r="0.78" fill="#a9a9ea"/><circle cx="457.8" cy="606.8" r="0.73" fill="#b8b8f0"/><circle cx="456.0" cy="593.7" r="0.75" fill="#9a9ae2"/><circle cx="424.7" cy="592.3" r="0.58" fill="#b8b8f0"/><circle cx="445.2" cy="631.7" r="0.51" fill="#9a9ae2"/><circle cx="451.6" cy="621.9" r="0.88" fill="#d2d2f7"/><circle cx="443.5" cy="626.5" r="0.70" fill="#b8b8f0"/><circle cx="439.2" cy="590.6" r="0.83" fill="#d2d2f7"/><circle cx="460.2" cy="616.0" r="0.97" fill="#a9a9ea"/><circle cx="427.7" cy="600.3" r="0.88" fill="#9a9ae2"/><circle cx="429.6" cy="632.0" r="0.51" fill="#9a9ae2"/><circle cx="447.2" cy="589.0" r="0.56" fill="#9a9ae2"/><circle cx="423.2" cy="629.6" r="0.96" fill="#9a9ae2"/><circle cx="447.1" cy="626.5" r="0.97" fill="#9a9ae2"/><circle cx="443.7" cy="599.2" r="0.57" fill="#d2d2f7"/><circle cx="436.5" cy="649.3" r="0.69" fill="#b8b8f0"/><circle cx="450.1" cy="637.1" r="0.91" fill="#d2d2f7"/><circle cx="446.6" cy="623.7" r="0.89" fill="#b8b8f0"/><circle cx="439.8" cy="608.5" r="0.96" fill="#a9a9ea"/><circle cx="418.8" cy="620.6" r="0.75" fill="#d2d2f7"/><circle cx="423.4" cy="640.5" r="0.72" fill="#d2d2f7"/><circle cx="448.3" cy="616.8" r="0.95" fill="#b8b8f0"/><circle cx="452.4" cy="614.5" r="0.76" fill="#b8b8f0"/><circle cx="441.4" cy="621.3" r="0.84" fill="#9a9ae2"/><circle cx="448.5" cy="610.7" r="0.91" fill="#d2d2f7"/><circle cx="442.0" cy="587.9" r="0.67" fill="#a9a9ea"/><circle cx="440.4" cy="588.9" r="0.95" fill="#b8b8f0"/><circle cx="417.4" cy="611.6" r="0.88" fill="#b8b8f0"/><circle cx="432.9" cy="642.9" r="0.72" fill="#b8b8f0"/><circle cx="432.9" cy="629.4" r="0.83" fill="#d2d2f7"/><circle cx="445.4" cy="607.6" r="0.59" fill="#b8b8f0"/><circle cx="439.8" cy="632.3" r="0.61" fill="#a9a9ea"/><circle cx="450.0" cy="648.6" r="0.73" fill="#b8b8f0"/><circle cx="439.9" cy="638.5" r="0.62" fill="#9a9ae2"/><circle cx="423.0" cy="597.3" r="0.94" fill="#a9a9ea"/><circle cx="417.4" cy="627.9" r="0.81" fill="#a9a9ea"/><circle cx="426.8" cy="589.4" r="0.80" fill="#b8b8f0"/><circle cx="442.9" cy="630.7" r="0.52" fill="#a9a9ea"/><circle cx="434.1" cy="600.2" r="0.61" fill="#a9a9ea"/><circle cx="422.3" cy="649.6" r="0.62" fill="#9a9ae2"/><circle cx="442.0" cy="635.2" r="0.91" fill="#d2d2f7"/><circle cx="429.6" cy="594.3" r="0.83" fill="#d2d2f7"/><circle cx="434.6" cy="602.9" r="0.78" fill="#d2d2f7"/><circle cx="444.2" cy="612.8" r="0.75" fill="#9a9ae2"/><circle cx="458.4" cy="628.6" r="0.89" fill="#9a9ae2"/><circle cx="447.3" cy="611.5" r="0.65" fill="#d2d2f7"/><circle cx="449.9" cy="615.8" r="0.92" fill="#9a9ae2"/><circle cx="454.6" cy="594.4" r="0.73" fill="#a9a9ea"/><circle cx="441.3" cy="647.9" r="0.78" fill="#d2d2f7"/><circle cx="433.5" cy="601.6" r="0.67" fill="#a9a9ea"/><circle cx="457.5" cy="640.1" r="0.55" fill="#d2d2f7"/><circle cx="418.3" cy="609.5" r="0.80" fill="#a9a9ea"/><circle cx="455.3" cy="597.2" r="0.88" fill="#d2d2f7"/><circle cx="437.6" cy="641.5" r="0.67" fill="#a9a9ea"/><circle cx="425.5" cy="597.4" r="0.87" fill="#b8b8f0"/><circle cx="457.1" cy="630.2" r="0.85" fill="#b8b8f0"/><circle cx="457.2" cy="620.9" r="0.89" fill="#b8b8f0"/><circle cx="437.0" cy="627.2" r="0.65" fill="#9a9ae2"/><circle cx="439.1" cy="617.3" r="0.55" fill="#b8b8f0"/><circle cx="450.3" cy="605.8" r="0.60" fill="#9a9ae2"/><circle cx="434.6" cy="621.6" r="0.61" fill="#d2d2f7"/><circle cx="416.7" cy="621.0" r="0.79" fill="#b8b8f0"/><circle cx="429.3" cy="597.8" r="0.62" fill="#d2d2f7"/><circle cx="438.5" cy="627.5" r="0.84" fill="#9a9ae2"/><circle cx="450.4" cy="616.8" r="0.86" fill="#b8b8f0"/><circle cx="436.7" cy="632.6" r="0.68" fill="#d2d2f7"/><circle cx="448.4" cy="616.7" r="0.96" fill="#a9a9ea"/><circle cx="439.6" cy="639.5" r="0.54" fill="#a9a9ea"/><circle cx="450.4" cy="611.8" r="0.92" fill="#d2d2f7"/><circle cx="419.1" cy="594.8" r="0.61" fill="#b8b8f0"/><circle cx="432.8" cy="625.2" r="0.83" fill="#b8b8f0"/><circle cx="445.7" cy="586.0" r="0.77" fill="#b8b8f0"/><circle cx="416.5" cy="619.4" r="0.64" fill="#9a9ae2"/><circle cx="416.8" cy="637.9" r="0.84" fill="#d2d2f7"/><circle cx="420.8" cy="591.3" r="0.57" fill="#d2d2f7"/><circle cx="443.9" cy="601.4" r="0.68" fill="#b8b8f0"/><circle cx="419.6" cy="647.4" r="0.73" fill="#d2d2f7"/><circle cx="460.6" cy="599.7" r="0.84" fill="#a9a9ea"/><circle cx="445.4" cy="640.8" r="0.88" fill="#a9a9ea"/><circle cx="434.2" cy="609.5" r="0.74" fill="#a9a9ea"/><circle cx="447.6" cy="590.4" r="0.92" fill="#9a9ae2"/><circle cx="441.5" cy="640.8" r="0.55" fill="#a9a9ea"/><circle cx="426.3" cy="643.6" r="0.85" fill="#b8b8f0"/><circle cx="428.2" cy="645.1" r="0.84" fill="#9a9ae2"/><circle cx="456.5" cy="621.6" r="0.52" fill="#9a9ae2"/><circle cx="416.7" cy="598.5" r="0.57" fill="#b8b8f0"/><circle cx="457.8" cy="604.5" r="0.78" fill="#b8b8f0"/><circle cx="446.5" cy="620.1" r="0.69" fill="#d2d2f7"/><circle cx="451.6" cy="629.8" r="0.54" fill="#9a9ae2"/><circle cx="418.4" cy="613.4" r="0.92" fill="#9a9ae2"/><circle cx="443.2" cy="624.9" r="0.80" fill="#9a9ae2"/><circle cx="417.3" cy="602.8" r="1.00" fill="#b8b8f0"/><circle cx="426.3" cy="620.9" r="0.69" fill="#d2d2f7"/><circle cx="446.6" cy="627.9" r="0.54" fill="#9a9ae2"/><circle cx="451.9" cy="631.4" r="0.54" fill="#d2d2f7"/><circle cx="433.1" cy="636.0" r="0.58" fill="#b8b8f0"/><circle cx="430.3" cy="591.9" r="0.50" fill="#9a9ae2"/><circle cx="436.0" cy="634.5" r="0.55" fill="#a9a9ea"/><circle cx="424.4" cy="614.2" r="0.78" fill="#b8b8f0"/><circle cx="420.6" cy="590.8" r="0.78" fill="#9a9ae2"/><circle cx="454.9" cy="585.8" r="0.71" fill="#a9a9ea"/><circle cx="448.6" cy="621.4" r="1.00" fill="#d2d2f7"/><circle cx="441.7" cy="596.0" r="0.69" fill="#d2d2f7"/><circle cx="428.1" cy="602.4" r="0.57" fill="#d2d2f7"/><circle cx="435.6" cy="612.4" r="0.74" fill="#a9a9ea"/><circle cx="432.3" cy="646.4" r="0.86" fill="#b8b8f0"/><circle cx="442.7" cy="597.7" r="0.55" fill="#9a9ae2"/><circle cx="416.3" cy="610.7" r="0.92" fill="#b8b8f0"/><circle cx="452.2" cy="606.4" r="0.67" fill="#d2d2f7"/><circle cx="429.5" cy="624.2" r="0.85" fill="#b8b8f0"/><circle cx="430.1" cy="647.7" r="0.98" fill="#9a9ae2"/><circle cx="449.1" cy="626.1" r="0.98" fill="#d2d2f7"/><circle cx="430.7" cy="603.2" r="0.89" fill="#9a9ae2"/><circle cx="421.1" cy="621.7" r="0.80" fill="#d2d2f7"/><circle cx="446.7" cy="620.8" r="0.98" fill="#b8b8f0"/><circle cx="458.4" cy="598.6" r="0.90" fill="#a9a9ea"/><circle cx="452.9" cy="636.7" r="0.70" fill="#b8b8f0"/><circle cx="422.3" cy="604.7" r="0.63" fill="#d2d2f7"/><circle cx="448.2" cy="636.3" r="0.54" fill="#b8b8f0"/><circle cx="442.2" cy="619.7" r="0.96" fill="#b8b8f0"/><circle cx="440.5" cy="636.4" r="0.68" fill="#a9a9ea"/><circle cx="420.9" cy="601.1" r="0.83" fill="#d2d2f7"/><circle cx="445.1" cy="587.9" r="0.99" fill="#b8b8f0"/><circle cx="459.5" cy="606.6" r="0.90" fill="#a9a9ea"/><circle cx="416.5" cy="601.8" r="0.76" fill="#d2d2f7"/><circle cx="436.1" cy="610.4" r="0.89" fill="#d2d2f7"/><circle cx="431.5" cy="586.6" r="0.55" fill="#b8b8f0"/><circle cx="457.4" cy="590.6" r="0.92" fill="#d2d2f7"/><circle cx="431.7" cy="607.3" r="0.89" fill="#b8b8f0"/><circle cx="431.7" cy="591.3" r="0.86" fill="#b8b8f0"/><circle cx="430.4" cy="604.5" r="0.91" fill="#a9a9ea"/><circle cx="417.0" cy="607.3" r="0.55" fill="#d2d2f7"/><circle cx="457.8" cy="633.1" r="0.76" fill="#d2d2f7"/><circle cx="430.9" cy="612.7" r="0.73" fill="#b8b8f0"/><circle cx="444.3" cy="597.1" r="0.83" fill="#b8b8f0"/><circle cx="417.3" cy="624.9" r="0.60" fill="#b8b8f0"/><circle cx="433.5" cy="630.8" r="0.60" fill="#a9a9ea"/><circle cx="442.0" cy="637.0" r="0.77" fill="#9a9ae2"/><circle cx="430.7" cy="614.7" r="0.63" fill="#b8b8f0"/><circle cx="439.7" cy="626.5" r="0.80" fill="#b8b8f0"/><circle cx="442.4" cy="607.6" r="0.92" fill="#d2d2f7"/><circle cx="452.6" cy="630.9" r="0.65" fill="#a9a9ea"/><circle cx="446.2" cy="605.4" r="0.62" fill="#a9a9ea"/><circle cx="424.2" cy="630.1" r="0.76" fill="#b8b8f0"/><circle cx="442.8" cy="622.4" r="0.71" fill="#b8b8f0"/><circle cx="444.6" cy="630.1" r="0.82" fill="#d2d2f7"/><circle cx="441.0" cy="616.8" r="0.57" fill="#9a9ae2"/><circle cx="453.9" cy="625.3" r="0.93" fill="#a9a9ea"/><circle cx="437.8" cy="597.7" r="0.69" fill="#b8b8f0"/><circle cx="434.4" cy="617.0" r="0.86" fill="#b8b8f0"/><circle cx="438.0" cy="590.4" r="0.52" fill="#d2d2f7"/><circle cx="429.1" cy="602.9" r="0.77" fill="#d2d2f7"/><circle cx="451.1" cy="621.8" r="0.89" fill="#b8b8f0"/><circle cx="440.7" cy="592.4" r="0.56" fill="#9a9ae2"/><circle cx="440.4" cy="634.2" r="0.88" fill="#b8b8f0"/><circle cx="440.6" cy="649.3" r="0.55" fill="#d2d2f7"/><circle cx="429.4" cy="650.0" r="0.72" fill="#9a9ae2"/><circle cx="454.8" cy="590.7" r="0.93" fill="#a9a9ea"/><circle cx="450.9" cy="600.4" r="0.91" fill="#9a9ae2"/><circle cx="454.7" cy="624.7" r="0.71" fill="#d2d2f7"/><circle cx="451.3" cy="637.9" r="0.90" fill="#9a9ae2"/><circle cx="440.0" cy="623.8" r="0.58" fill="#9a9ae2"/><circle cx="429.0" cy="602.4" r="0.93" fill="#a9a9ea"/><circle cx="422.1" cy="633.8" r="0.71" fill="#a9a9ea"/><circle cx="460.7" cy="641.4" r="0.56" fill="#d2d2f7"/><circle cx="427.2" cy="631.2" r="0.91" fill="#b8b8f0"/><circle cx="438.0" cy="622.5" r="0.63" fill="#b8b8f0"/><circle cx="432.9" cy="589.9" r="0.90" fill="#a9a9ea"/><circle cx="434.1" cy="633.7" r="0.85" fill="#9a9ae2"/><circle cx="436.5" cy="616.7" r="0.79" fill="#a9a9ea"/><circle cx="448.9" cy="614.8" r="0.83" fill="#9a9ae2"/><circle cx="454.3" cy="636.7" r="0.70" fill="#b8b8f0"/><circle cx="453.1" cy="617.2" r="0.66" fill="#9a9ae2"/><circle cx="431.2" cy="622.6" r="0.78" fill="#b8b8f0"/><circle cx="451.5" cy="643.1" r="0.88" fill="#a9a9ea"/><circle cx="420.5" cy="636.0" r="0.73" fill="#a9a9ea"/><circle cx="457.8" cy="595.3" r="0.73" fill="#b8b8f0"/><circle cx="425.1" cy="629.8" r="0.57" fill="#9a9ae2"/><circle cx="423.2" cy="645.6" r="0.64" fill="#9a9ae2"/><circle cx="427.3" cy="609.2" r="0.95" fill="#d2d2f7"/><circle cx="418.3" cy="625.7" r="0.86" fill="#d2d2f7"/><circle cx="435.3" cy="590.9" r="0.55" fill="#d2d2f7"/><circle cx="437.5" cy="593.6" r="0.61" fill="#b8b8f0"/><circle cx="416.4" cy="630.2" r="0.91" fill="#b8b8f0"/><circle cx="447.2" cy="616.1" r="0.61" fill="#a9a9ea"/><circle cx="448.9" cy="591.7" r="0.66" fill="#9a9ae2"/><circle cx="422.2" cy="635.3" r="0.88" fill="#d2d2f7"/><circle cx="444.9" cy="629.0" r="0.53" fill="#a9a9ea"/><circle cx="443.5" cy="595.7" r="0.68" fill="#d2d2f7"/><circle cx="444.3" cy="594.8" r="0.71" fill="#b8b8f0"/><circle cx="454.7" cy="590.6" r="0.55" fill="#a9a9ea"/><circle cx="442.5" cy="610.0" r="0.98" fill="#9a9ae2"/><circle cx="451.6" cy="601.1" r="0.82" fill="#d2d2f7"/><circle cx="440.9" cy="624.0" r="0.80" fill="#a9a9ea"/><circle cx="454.2" cy="627.8" r="0.65" fill="#d2d2f7"/><circle cx="449.7" cy="604.2" r="0.53" fill="#d2d2f7"/><circle cx="438.3" cy="592.3" r="0.75" fill="#a9a9ea"/><circle cx="439.8" cy="648.6" r="0.99" fill="#9a9ae2"/><circle cx="421.9" cy="641.0" r="0.78" fill="#9a9ae2"/><circle cx="440.6" cy="596.2" r="0.74" fill="#a9a9ea"/><circle cx="416.8" cy="589.4" r="0.63" fill="#a9a9ea"/><circle cx="457.5" cy="646.7" r="0.70" fill="#9a9ae2"/><circle cx="444.3" cy="617.6" r="0.71" fill="#b8b8f0"/><circle cx="419.7" cy="619.9" r="0.81" fill="#9a9ae2"/><circle cx="419.8" cy="590.1" r="0.96" fill="#d2d2f7"/><circle cx="440.1" cy="610.4" r="0.82" fill="#a9a9ea"/><circle cx="430.0" cy="613.4" r="0.98" fill="#d2d2f7"/><circle cx="418.6" cy="590.6" r="0.72" fill="#b8b8f0"/><circle cx="443.6" cy="588.6" r="0.83" fill="#d2d2f7"/><circle cx="421.4" cy="631.0" r="0.85" fill="#d2d2f7"/><circle cx="438.3" cy="607.5" r="0.76" fill="#9a9ae2"/><circle cx="423.5" cy="593.3" r="0.89" fill="#9a9ae2"/><circle cx="449.0" cy="592.7" r="0.95" fill="#9a9ae2"/><circle cx="452.3" cy="602.7" r="0.53" fill="#a9a9ea"/><circle cx="438.3" cy="618.2" r="0.53" fill="#d2d2f7"/><circle cx="432.5" cy="601.6" r="0.55" fill="#a9a9ea"/><circle cx="426.3" cy="618.1" r="0.52" fill="#a9a9ea"/><circle cx="427.0" cy="615.7" r="0.69" fill="#d2d2f7"/><circle cx="424.1" cy="647.4" r="0.52" fill="#b8b8f0"/><circle cx="426.1" cy="601.1" r="0.96" fill="#9a9ae2"/><circle cx="428.2" cy="590.1" r="0.69" fill="#a9a9ea"/><circle cx="424.1" cy="637.3" r="0.99" fill="#b8b8f0"/><circle cx="419.1" cy="615.2" r="0.64" fill="#9a9ae2"/><circle cx="430.7" cy="621.0" r="0.50" fill="#d2d2f7"/><circle cx="429.1" cy="636.0" r="0.87" fill="#d2d2f7"/><circle cx="436.9" cy="623.5" r="0.75" fill="#d2d2f7"/><circle cx="449.0" cy="620.5" r="0.90" fill="#d2d2f7"/><circle cx="416.3" cy="611.7" r="0.62" fill="#9a9ae2"/><circle cx="444.6" cy="630.1" r="0.50" fill="#9a9ae2"/><circle cx="416.1" cy="627.7" r="0.92" fill="#9a9ae2"/><circle cx="420.7" cy="619.4" r="0.62" fill="#b8b8f0"/><circle cx="459.3" cy="648.2" r="0.57" fill="#9a9ae2"/><circle cx="420.2" cy="644.9" r="0.95" fill="#b8b8f0"/><circle cx="447.5" cy="609.2" r="0.99" fill="#a9a9ea"/><circle cx="442.1" cy="617.9" r="0.82" fill="#b8b8f0"/><circle cx="419.4" cy="621.9" r="0.72" fill="#d2d2f7"/><circle cx="426.7" cy="602.0" r="0.66" fill="#b8b8f0"/><circle cx="447.5" cy="632.8" r="0.66" fill="#9a9ae2"/><circle cx="426.5" cy="646.3" r="0.57" fill="#a9a9ea"/><circle cx="423.0" cy="595.7" r="0.73" fill="#b8b8f0"/><circle cx="421.4" cy="608.3" r="0.89" fill="#b8b8f0"/><circle cx="429.9" cy="602.2" r="0.56" fill="#d2d2f7"/><circle cx="452.3" cy="604.8" r="0.85" fill="#a9a9ea"/><circle cx="425.7" cy="640.7" r="0.57" fill="#d2d2f7"/><circle cx="459.6" cy="610.8" r="0.52" fill="#9a9ae2"/><circle cx="427.7" cy="649.4" r="0.52" fill="#b8b8f0"/><circle cx="454.5" cy="621.1" r="0.78" fill="#a9a9ea"/><circle cx="436.8" cy="637.3" r="0.57" fill="#a9a9ea"/><circle cx="418.8" cy="635.8" r="0.61" fill="#d2d2f7"/><circle cx="453.1" cy="609.2" r="0.82" fill="#a9a9ea"/><circle cx="442.2" cy="601.8" r="0.91" fill="#a9a9ea"/><circle cx="460.9" cy="597.9" r="0.82" fill="#d2d2f7"/><circle cx="420.1" cy="640.1" r="0.90" fill="#a9a9ea"/><circle cx="417.9" cy="615.0" r="0.58" fill="#b8b8f0"/><circle cx="453.0" cy="610.7" r="0.51" fill="#b8b8f0"/><circle cx="423.8" cy="599.0" r="0.59" fill="#9a9ae2"/><circle cx="436.1" cy="594.7" r="0.81" fill="#d2d2f7"/><circle cx="445.1" cy="617.4" r="0.94" fill="#b8b8f0"/><circle cx="418.7" cy="603.2" r="0.57" fill="#d2d2f7"/><circle cx="444.9" cy="636.8" r="0.62" fill="#a9a9ea"/><circle cx="460.5" cy="635.8" r="0.68" fill="#b8b8f0"/><circle cx="431.5" cy="621.8" r="0.66" fill="#9a9ae2"/><circle cx="424.1" cy="605.7" r="0.61" fill="#9a9ae2"/><circle cx="418.6" cy="649.4" r="0.76" fill="#d2d2f7"/><circle cx="459.8" cy="591.5" r="0.83" fill="#9a9ae2"/><circle cx="440.0" cy="636.4" r="0.87" fill="#d2d2f7"/><circle cx="441.9" cy="648.9" r="0.69" fill="#d2d2f7"/><circle cx="423.9" cy="623.5" r="0.90" fill="#9a9ae2"/><circle cx="457.1" cy="586.8" r="0.85" fill="#d2d2f7"/><circle cx="441.3" cy="597.2" r="0.99" fill="#b8b8f0"/><circle cx="440.4" cy="596.4" r="0.52" fill="#a9a9ea"/><circle cx="426.5" cy="599.2" r="0.76" fill="#a9a9ea"/><circle cx="430.9" cy="624.9" r="0.90" fill="#9a9ae2"/><circle cx="448.3" cy="644.7" r="0.92" fill="#9a9ae2"/><circle cx="418.7" cy="594.6" r="0.85" fill="#d2d2f7"/><circle cx="450.8" cy="640.0" r="0.93" fill="#a9a9ea"/><circle cx="432.8" cy="646.2" r="0.70" fill="#a9a9ea"/><circle cx="431.1" cy="606.0" r="0.99" fill="#b8b8f0"/><circle cx="451.6" cy="647.4" r="0.82" fill="#d2d2f7"/><circle cx="447.8" cy="621.5" r="0.94" fill="#9a9ae2"/><circle cx="426.0" cy="623.3" r="0.59" fill="#9a9ae2"/><circle cx="449.0" cy="604.1" r="0.59" fill="#a9a9ea"/><circle cx="458.7" cy="646.7" r="0.70" fill="#a9a9ea"/><circle cx="424.2" cy="605.7" r="0.90" fill="#d2d2f7"/><circle cx="444.8" cy="591.8" r="0.75" fill="#9a9ae2"/><circle cx="449.5" cy="600.5" r="0.99" fill="#d2d2f7"/><circle cx="444.6" cy="647.6" r="0.91" fill="#9a9ae2"/><circle cx="436.1" cy="602.2" r="0.62" fill="#a9a9ea"/><circle cx="431.8" cy="636.2" r="0.86" fill="#a9a9ea"/><circle cx="433.4" cy="632.6" r="0.98" fill="#b8b8f0"/><circle cx="438.2" cy="609.6" r="0.77" fill="#a9a9ea"/><circle cx="453.3" cy="636.3" r="0.79" fill="#d2d2f7"/><circle cx="423.3" cy="589.8" r="0.92" fill="#9a9ae2"/><circle cx="416.9" cy="602.0" r="0.55" fill="#9a9ae2"/><circle cx="423.7" cy="609.4" r="0.87" fill="#a9a9ea"/><circle cx="431.2" cy="649.0" r="0.95" fill="#a9a9ea"/><circle cx="435.4" cy="627.5" r="0.80" fill="#b8b8f0"/><circle cx="423.1" cy="591.6" r="0.60" fill="#d2d2f7"/><circle cx="434.4" cy="621.0" r="0.96" fill="#9a9ae2"/><circle cx="445.7" cy="604.3" r="0.55" fill="#b8b8f0"/><circle cx="441.7" cy="639.6" r="0.58" fill="#9a9ae2"/><circle cx="416.2" cy="590.7" r="0.91" fill="#b8b8f0"/><circle cx="425.0" cy="586.7" r="0.59" fill="#9a9ae2"/><circle cx="460.0" cy="615.8" r="0.56" fill="#b8b8f0"/><circle cx="437.2" cy="643.2" r="0.63" fill="#b8b8f0"/><circle cx="424.3" cy="642.6" r="0.68" fill="#b8b8f0"/><circle cx="418.0" cy="613.6" r="0.63" fill="#9a9ae2"/><circle cx="441.4" cy="594.8" r="0.85" fill="#a9a9ea"/><circle cx="419.9" cy="607.3" r="0.77" fill="#d2d2f7"/><circle cx="440.9" cy="639.7" r="0.91" fill="#b8b8f0"/><circle cx="459.5" cy="629.7" r="0.97" fill="#d2d2f7"/><circle cx="437.4" cy="590.1" r="0.95" fill="#a9a9ea"/><circle cx="438.6" cy="643.5" r="0.90" fill="#d2d2f7"/><circle cx="421.4" cy="634.2" r="0.59" fill="#d2d2f7"/><circle cx="459.7" cy="637.5" r="0.56" fill="#b8b8f0"/><circle cx="419.5" cy="629.4" r="0.60" fill="#d2d2f7"/><circle cx="453.5" cy="601.8" r="0.96" fill="#a9a9ea"/><circle cx="419.9" cy="621.2" r="0.78" fill="#9a9ae2"/><circle cx="439.4" cy="644.6" r="0.51" fill="#b8b8f0"/><circle cx="421.1" cy="594.7" r="0.78" fill="#a9a9ea"/><circle cx="457.6" cy="621.6" r="0.55" fill="#9a9ae2"/><circle cx="455.0" cy="642.2" r="0.94" fill="#9a9ae2"/><circle cx="433.2" cy="616.6" r="0.80" fill="#a9a9ea"/><circle cx="423.7" cy="611.2" r="0.81" fill="#b8b8f0"/><circle cx="417.7" cy="642.8" r="0.67" fill="#d2d2f7"/><circle cx="418.2" cy="615.9" r="0.63" fill="#9a9ae2"/><circle cx="416.9" cy="638.1" r="0.65" fill="#9a9ae2"/><circle cx="453.9" cy="640.8" r="0.84" fill="#d2d2f7"/><circle cx="422.0" cy="648.3" r="0.72" fill="#9a9ae2"/><circle cx="428.1" cy="612.1" r="0.82" fill="#d2d2f7"/><circle cx="435.9" cy="644.4" r="0.70" fill="#b8b8f0"/><circle cx="450.2" cy="641.4" r="0.91" fill="#d2d2f7"/><circle cx="419.0" cy="631.1" r="0.70" fill="#a9a9ea"/><circle cx="423.8" cy="641.9" r="0.60" fill="#a9a9ea"/><circle cx="427.2" cy="614.7" r="0.96" fill="#d2d2f7"/><circle cx="428.3" cy="638.5" r="0.75" fill="#a9a9ea"/><circle cx="446.7" cy="600.7" r="0.74" fill="#b8b8f0"/><circle cx="424.0" cy="641.6" r="0.79" fill="#9a9ae2"/><circle cx="431.5" cy="639.4" r="0.63" fill="#a9a9ea"/><circle cx="428.8" cy="610.1" r="0.58" fill="#d2d2f7"/><circle cx="454.6" cy="627.1" r="0.84" fill="#9a9ae2"/><circle cx="445.3" cy="618.4" r="0.93" fill="#a9a9ea"/><circle cx="437.3" cy="593.6" r="0.59" fill="#a9a9ea"/><circle cx="426.1" cy="624.5" r="0.97" fill="#9a9ae2"/><circle cx="435.1" cy="609.5" r="0.67" fill="#9a9ae2"/><circle cx="425.8" cy="604.6" r="0.76" fill="#b8b8f0"/><circle cx="442.3" cy="585.5" r="1.00" fill="#9a9ae2"/><circle cx="441.3" cy="623.6" r="0.64" fill="#a9a9ea"/><circle cx="437.7" cy="606.9" r="0.64" fill="#9a9ae2"/><circle cx="454.8" cy="602.0" r="0.86" fill="#9a9ae2"/><circle cx="424.5" cy="618.6" r="0.62" fill="#a9a9ea"/><circle cx="452.2" cy="637.2" r="0.80" fill="#9a9ae2"/><circle cx="446.6" cy="631.9" r="0.83" fill="#9a9ae2"/><circle cx="427.7" cy="612.2" r="0.69" fill="#a9a9ea"/><circle cx="442.2" cy="649.7" r="0.91" fill="#9a9ae2"/><circle cx="448.7" cy="599.5" r="0.77" fill="#b8b8f0"/><circle cx="456.8" cy="628.7" r="0.75" fill="#d2d2f7"/><circle cx="453.8" cy="642.0" r="0.59" fill="#a9a9ea"/><circle cx="437.2" cy="633.2" r="0.86" fill="#d2d2f7"/><circle cx="458.6" cy="643.5" r="0.83" fill="#d2d2f7"/><circle cx="432.0" cy="633.4" r="0.65" fill="#9a9ae2"/><circle cx="432.7" cy="623.1" r="0.73" fill="#a9a9ea"/><circle cx="437.2" cy="641.3" r="0.79" fill="#a9a9ea"/><circle cx="437.2" cy="597.6" r="0.56" fill="#b8b8f0"/><circle cx="439.8" cy="611.9" r="0.94" fill="#d2d2f7"/><circle cx="422.2" cy="598.0" r="0.70" fill="#b8b8f0"/><circle cx="422.4" cy="641.1" r="0.59" fill="#a9a9ea"/><circle cx="437.9" cy="626.0" r="0.59" fill="#a9a9ea"/><circle cx="416.2" cy="602.8" r="0.88" fill="#d2d2f7"/><circle cx="441.9" cy="595.3" r="0.89" fill="#a9a9ea"/><circle cx="421.8" cy="613.2" r="0.71" fill="#b8b8f0"/><circle cx="459.4" cy="609.9" r="0.52" fill="#d2d2f7"/><circle cx="448.9" cy="646.8" r="0.95" fill="#d2d2f7"/><circle cx="416.8" cy="585.3" r="0.87" fill="#d2d2f7"/><circle cx="447.2" cy="607.4" r="0.56" fill="#b8b8f0"/><circle cx="438.7" cy="604.9" r="0.53" fill="#a9a9ea"/><circle cx="429.4" cy="603.9" r="0.86" fill="#9a9ae2"/><circle cx="435.5" cy="629.6" r="0.57" fill="#b8b8f0"/><circle cx="432.2" cy="597.2" r="0.97" fill="#b8b8f0"/><circle cx="416.9" cy="599.6" r="0.99" fill="#d2d2f7"/><circle cx="449.0" cy="623.3" r="0.58" fill="#9a9ae2"/><circle cx="448.0" cy="636.5" r="0.69" fill="#9a9ae2"/><circle cx="450.7" cy="625.5" r="0.80" fill="#a9a9ea"/><circle cx="445.8" cy="627.5" r="0.51" fill="#a9a9ea"/><circle cx="434.8" cy="609.7" r="0.77" fill="#b8b8f0"/><circle cx="447.6" cy="598.4" r="0.84" fill="#a9a9ea"/><circle cx="429.6" cy="628.0" r="0.83" fill="#9a9ae2"/><circle cx="444.0" cy="630.5" r="0.71" fill="#a9a9ea"/><circle cx="439.0" cy="625.2" r="0.64" fill="#a9a9ea"/><circle cx="438.4" cy="624.6" r="0.89" fill="#d2d2f7"/><circle cx="432.1" cy="611.6" r="0.58" fill="#b8b8f0"/><circle cx="457.0" cy="629.7" r="0.74" fill="#d2d2f7"/><circle cx="416.1" cy="628.7" r="0.95" fill="#b8b8f0"/><circle cx="422.7" cy="590.9" r="0.76" fill="#a9a9ea"/><circle cx="456.7" cy="626.9" r="0.73" fill="#9a9ae2"/><circle cx="427.9" cy="588.3" r="0.91" fill="#a9a9ea"/><circle cx="454.4" cy="608.4" r="0.84" fill="#b8b8f0"/><circle cx="449.2" cy="591.2" r="0.88" fill="#a9a9ea"/><circle cx="416.4" cy="594.0" r="0.82" fill="#9a9ae2"/><circle cx="432.1" cy="613.5" r="0.81" fill="#a9a9ea"/><circle cx="432.8" cy="607.3" r="0.56" fill="#b8b8f0"/><circle cx="459.3" cy="602.7" r="0.69" fill="#b8b8f0"/><circle cx="452.0" cy="627.2" r="0.90" fill="#a9a9ea"/><circle cx="422.0" cy="632.2" r="0.99" fill="#d2d2f7"/><circle cx="420.7" cy="644.2" r="0.74" fill="#b8b8f0"/><circle cx="424.2" cy="609.7" r="0.68" fill="#a9a9ea"/><circle cx="454.8" cy="642.2" r="0.86" fill="#d2d2f7"/><circle cx="437.7" cy="616.7" r="0.94" fill="#b8b8f0"/><circle cx="418.1" cy="602.0" r="0.66" fill="#d2d2f7"/><circle cx="460.0" cy="628.5" r="0.67" fill="#a9a9ea"/><circle cx="435.5" cy="632.2" r="0.74" fill="#b8b8f0"/><circle cx="422.7" cy="638.7" r="0.95" fill="#a9a9ea"/><circle cx="416.5" cy="645.7" r="0.75" fill="#b8b8f0"/><circle cx="454.3" cy="641.5" r="0.54" fill="#b8b8f0"/><circle cx="430.4" cy="606.5" r="0.64" fill="#d2d2f7"/><circle cx="440.8" cy="609.6" r="0.91" fill="#a9a9ea"/><circle cx="436.7" cy="637.1" r="0.72" fill="#b8b8f0"/><circle cx="436.1" cy="592.7" r="0.75" fill="#a9a9ea"/><circle cx="420.6" cy="611.8" r="0.78" fill="#a9a9ea"/><circle cx="453.2" cy="636.5" r="0.98" fill="#9a9ae2"/><circle cx="456.1" cy="621.6" r="0.83" fill="#b8b8f0"/><circle cx="458.8" cy="608.6" r="0.53" fill="#d2d2f7"/><circle cx="454.0" cy="606.6" r="0.88" fill="#b8b8f0"/><circle cx="448.2" cy="608.6" r="0.73" fill="#a9a9ea"/><circle cx="450.2" cy="599.4" r="0.67" fill="#9a9ae2"/><circle cx="440.6" cy="609.3" r="0.55" fill="#d2d2f7"/><circle cx="438.2" cy="638.4" r="0.87" fill="#b8b8f0"/><circle cx="420.8" cy="624.7" r="0.59" fill="#b8b8f0"/><circle cx="425.7" cy="638.6" r="0.60" fill="#9a9ae2"/><circle cx="420.8" cy="611.9" r="0.96" fill="#a9a9ea"/><circle cx="450.7" cy="614.3" r="0.83" fill="#d2d2f7"/><circle cx="459.4" cy="585.3" r="0.87" fill="#b8b8f0"/><circle cx="453.7" cy="616.4" r="0.75" fill="#d2d2f7"/><circle cx="447.1" cy="596.3" r="0.91" fill="#a9a9ea"/><circle cx="433.4" cy="624.0" r="0.94" fill="#b8b8f0"/><circle cx="434.8" cy="624.6" r="0.85" fill="#d2d2f7"/><circle cx="428.3" cy="647.6" r="0.99" fill="#b8b8f0"/><circle cx="452.2" cy="594.0" r="0.80" fill="#9a9ae2"/><circle cx="453.9" cy="620.6" r="0.66" fill="#d2d2f7"/><circle cx="425.0" cy="625.6" r="0.65" fill="#9a9ae2"/><circle cx="457.5" cy="593.6" r="0.86" fill="#d2d2f7"/><circle cx="438.7" cy="630.1" r="0.66" fill="#a9a9ea"/><circle cx="450.2" cy="621.5" r="0.79" fill="#b8b8f0"/><circle cx="446.3" cy="643.1" r="0.77" fill="#b8b8f0"/><circle cx="452.4" cy="619.0" r="0.51" fill="#d2d2f7"/><circle cx="418.4" cy="588.7" r="0.63" fill="#d2d2f7"/><circle cx="460.3" cy="629.4" r="0.57" fill="#a9a9ea"/><circle cx="447.1" cy="604.2" r="0.88" fill="#a9a9ea"/><circle cx="432.1" cy="614.4" r="0.81" fill="#d2d2f7"/><circle cx="449.4" cy="621.5" r="0.62" fill="#9a9ae2"/><circle cx="447.2" cy="588.1" r="0.69" fill="#b8b8f0"/><circle cx="459.1" cy="648.4" r="0.66" fill="#a9a9ea"/><circle cx="416.6" cy="601.3" r="0.81" fill="#b8b8f0"/><circle cx="453.3" cy="644.2" r="0.85" fill="#9a9ae2"/><circle cx="450.0" cy="620.5" r="0.80" fill="#d2d2f7"/><circle cx="429.2" cy="596.5" r="0.84" fill="#d2d2f7"/><circle cx="459.3" cy="632.8" r="0.56" fill="#a9a9ea"/><circle cx="435.3" cy="621.2" r="0.57" fill="#9a9ae2"/><circle cx="416.3" cy="615.3" r="0.97" fill="#a9a9ea"/><circle cx="422.9" cy="606.0" r="0.53" fill="#9a9ae2"/><circle cx="438.1" cy="622.2" r="0.68" fill="#9a9ae2"/><circle cx="439.6" cy="647.2" r="0.76" fill="#d2d2f7"/><circle cx="434.7" cy="619.9" r="0.55" fill="#d2d2f7"/><circle cx="455.8" cy="628.1" r="0.67" fill="#9a9ae2"/><circle cx="425.8" cy="633.9" r="0.77" fill="#a9a9ea"/><circle cx="421.2" cy="607.5" r="0.62" fill="#d2d2f7"/><circle cx="459.2" cy="629.4" r="0.66" fill="#a9a9ea"/><circle cx="433.4" cy="620.1" r="0.64" fill="#9a9ae2"/><circle cx="439.1" cy="618.1" r="0.74" fill="#9a9ae2"/><circle cx="456.4" cy="597.5" r="0.76" fill="#a9a9ea"/><circle cx="423.5" cy="647.2" r="0.77" fill="#a9a9ea"/><circle cx="444.2" cy="598.7" r="0.81" fill="#d2d2f7"/><circle cx="454.9" cy="612.6" r="0.55" fill="#b8b8f0"/><circle cx="445.1" cy="646.1" r="0.87" fill="#d2d2f7"/><circle cx="417.1" cy="631.6" r="0.52" fill="#a9a9ea"/><circle cx="418.4" cy="636.6" r="0.78" fill="#d2d2f7"/><circle cx="457.0" cy="611.5" r="0.73" fill="#b8b8f0"/><circle cx="435.5" cy="586.1" r="0.84" fill="#a9a9ea"/><circle cx="444.9" cy="625.2" r="0.88" fill="#a9a9ea"/><circle cx="447.5" cy="589.7" r="0.96" fill="#a9a9ea"/><circle cx="429.0" cy="629.6" r="0.80" fill="#9a9ae2"/><circle cx="450.4" cy="613.4" r="0.70" fill="#a9a9ea"/><circle cx="437.3" cy="619.7" r="0.57" fill="#b8b8f0"/><circle cx="451.9" cy="640.2" r="0.65" fill="#d2d2f7"/><circle cx="429.4" cy="642.7" r="0.98" fill="#9a9ae2"/><circle cx="459.1" cy="585.7" r="0.94" fill="#d2d2f7"/><circle cx="421.5" cy="585.3" r="0.80" fill="#a9a9ea"/><circle cx="429.7" cy="633.6" r="0.95" fill="#9a9ae2"/><circle cx="425.5" cy="643.9" r="0.93" fill="#d2d2f7"/><circle cx="423.2" cy="599.4" r="0.92" fill="#d2d2f7"/><circle cx="421.2" cy="628.6" r="0.78" fill="#a9a9ea"/><circle cx="454.3" cy="645.6" r="1.00" fill="#b8b8f0"/><circle cx="445.0" cy="589.8" r="0.84" fill="#9a9ae2"/><circle cx="420.4" cy="632.2" r="0.74" fill="#9a9ae2"/><circle cx="432.1" cy="628.6" r="0.62" fill="#9a9ae2"/><circle cx="443.9" cy="643.5" r="0.66" fill="#b8b8f0"/><circle cx="430.8" cy="627.9" r="0.85" fill="#d2d2f7"/><circle cx="441.4" cy="608.7" r="0.66" fill="#b8b8f0"/><circle cx="423.6" cy="605.4" r="0.89" fill="#b8b8f0"/><circle cx="428.5" cy="608.4" r="0.84" fill="#9a9ae2"/><circle cx="455.5" cy="615.1" r="0.68" fill="#9a9ae2"/><circle cx="437.9" cy="592.1" r="0.82" fill="#a9a9ea"/><circle cx="453.9" cy="640.8" r="0.57" fill="#d2d2f7"/><circle cx="427.8" cy="642.6" r="0.54" fill="#a9a9ea"/><circle cx="456.1" cy="640.2" r="0.82" fill="#b8b8f0"/><circle cx="450.6" cy="598.8" r="0.52" fill="#9a9ae2"/><circle cx="440.5" cy="649.9" r="0.74" fill="#d2d2f7"/><circle cx="432.5" cy="599.5" r="0.89" fill="#9a9ae2"/><circle cx="422.0" cy="617.6" r="0.55" fill="#9a9ae2"/><circle cx="438.6" cy="628.1" r="0.92" fill="#d2d2f7"/><circle cx="450.1" cy="594.1" r="0.58" fill="#d2d2f7"/><circle cx="449.1" cy="616.4" r="0.68" fill="#d2d2f7"/><circle cx="450.3" cy="600.1" r="0.63" fill="#d2d2f7"/><circle cx="417.9" cy="598.4" r="0.95" fill="#9a9ae2"/><circle cx="433.5" cy="644.7" r="0.94" fill="#a9a9ea"/><circle cx="460.1" cy="606.1" r="0.85" fill="#9a9ae2"/><circle cx="453.6" cy="602.1" r="0.77" fill="#d2d2f7"/><circle cx="432.9" cy="609.6" r="0.79" fill="#a9a9ea"/><circle cx="439.2" cy="609.5" r="0.95" fill="#b8b8f0"/></g>
<path d="M461 597 L468 599 L474 597 L480 601 L488 600 L494 602 L501 600" fill="none" stroke="#5254cc" stroke-width="0.6" opacity="0.8"/>
<path d="M463 602 L470 604 L478 605 L486 604 L492 606 L499 604" fill="none" stroke="#5254cc" stroke-width="0.6" opacity="0.8"/>
<path d="M488 596 L494 598 L500 596" fill="none" stroke="#5254cc" stroke-width="0.6" opacity="0.8"/>
<path d="M470 594 L477 596" fill="none" stroke="#5254cc" stroke-width="0.6" opacity="0.8"/>
<path d="M433 603 L436 609 L434 614 L438 618 L436 622" fill="none" stroke="#5254cc" stroke-width="0.6" opacity="0.8"/>
<path d="M437 600 L440 606 L438 611" fill="none" stroke="#5254cc" stroke-width="0.6" opacity="0.8"/>
<path d="M441 598 L444 604 L442 610" fill="none" stroke="#5254cc" stroke-width="0.6" opacity="0.8"/>
<path d="M442 593 L450 596 L456 598" fill="none" stroke="#5254cc" stroke-width="0.6" opacity="0.8"/>
<path d="M424 624 L428 630 L424 636 L427 641" fill="none" stroke="#5254cc" stroke-width="0.6" opacity="0.8"/>
<path d="M430 618 L432 626" fill="none" stroke="#5254cc" stroke-width="0.6" opacity="0.8"/>
<path d="M426 610 L429 616" fill="none" stroke="#5254cc" stroke-width="0.6" opacity="0.8"/>
<path d="M468.4 597.3 L470.4 599.1 L472.4 597.6 L474.4 598.8 L476.4 597.7 L478.4 599.1 L480.4 597.6 L482.4 598.8 L484.4 597.4 L486.4 599.2 L488.4 597.6 L490.3 598.8 L492.3 597.1 L494.3 599.1 L496.3 597.3" fill="none" stroke="#4a4cc8" stroke-width="0.55" opacity="0.75"/>
<path d="M460.6 599.3 L462.8 600.4 L465.1 599.1 L467.3 600.8 L469.6 599.4 L471.8 601.0 L474.1 599.7 L476.3 601.3 L478.6 600.2 L480.8 601.6 L483.2 600.0 L485.3 602.2 L487.6 600.6 L489.8 602.1 L492.2 600.7" fill="none" stroke="#4a4cc8" stroke-width="0.55" opacity="0.75"/>
<path d="M461.4 600.7 L463.5 603.0 L465.6 601.3 L467.8 603.0 L469.9 600.9 L472.0 602.9 L474.1 600.7 L476.3 602.4 L478.4 600.8 L480.5 602.4 L482.6 600.7 L484.8 602.4 L486.9 600.9 L489.0 602.6 L491.1 601.0" fill="none" stroke="#4a4cc8" stroke-width="0.55" opacity="0.75"/>
<path d="M459.4 597.8 L461.6 599.6 L464.1 598.3 L466.4 599.6 L468.9 598.4 L471.1 600.3 L473.6 599.0 L475.9 600.7 L478.4 599.0 L480.7 600.6 L483.2 599.3 L485.5 600.9 L487.9 599.6 L490.2 601.7 L492.7 599.7" fill="none" stroke="#4a4cc8" stroke-width="0.55" opacity="0.75"/>
<path d="M465.8 602.8 L468.0 604.1 L470.2 602.5 L472.5 604.2 L474.6 602.0 L476.9 603.8 L479.1 602.1 L481.3 603.9 L483.5 601.8 L485.7 603.8 L487.9 602.2 L490.2 603.3 L492.3 601.8 L494.6 603.2 L496.8 601.4" fill="none" stroke="#4a4cc8" stroke-width="0.55" opacity="0.75"/>
<path d="M468.5 596.4 L470.5 598.3 L472.3 596.2 L474.3 597.6 L476.1 596.4 L478.2 597.7 L479.9 595.6 L482.0 597.2 L483.8 595.6 L485.8 596.8 L487.6 595.1 L489.6 596.6 L491.4 594.7 L493.5 596.4 L495.3 594.8" fill="none" stroke="#4a4cc8" stroke-width="0.55" opacity="0.75"/>
<path d="M466.2 596.3 L468.6 598.1 L471.0 596.5 L473.4 598.1 L475.8 596.5 L478.2 597.8 L480.6 596.4 L483.0 598.0 L485.4 596.0 L487.8 598.1 L490.2 596.0 L492.6 597.9 L495.0 596.1 L497.4 597.8 L499.8 596.2" fill="none" stroke="#4a4cc8" stroke-width="0.55" opacity="0.75"/>
<path d="M438.3 595.3 L436.2 597.1 L437.3 599.4 L435.4 601.1 L436.6 603.4 L435.3 605.3 L436.0 607.5 L434.1 609.2 L435.5 611.6 L434.0 613.4 L434.7 615.6" fill="none" stroke="#4a4cc8" stroke-width="0.55" opacity="0.75"/>
<path d="M436.1 592.4 L434.2 595.0 L435.6 597.9 L433.6 600.5 L435.2 603.4 L432.8 606.0 L434.4 608.9 L432.5 611.5 L433.5 614.4 L431.8 617.0 L433.3 619.9" fill="none" stroke="#4a4cc8" stroke-width="0.55" opacity="0.75"/>
<path d="M439.2 592.3 L437.9 594.5 L438.8 596.9 L437.6 599.1 L438.5 601.4 L437.4 603.7 L439.0 606.1 L436.8 608.2 L438.3 610.6 L436.8 612.8 L438.2 615.2" fill="none" stroke="#4a4cc8" stroke-width="0.55" opacity="0.75"/>
<path d="M442.9 598.1 L440.8 598.8 L442.2 600.9 L440.0 601.5 L441.1 603.5 L439.0 604.2 L439.8 606.0 L437.9 606.8 L438.9 608.7 L436.6 609.3 L437.4 611.1" fill="none" stroke="#4a4cc8" stroke-width="0.55" opacity="0.75"/>
<path d="M441.5 593.1 L439.0 594.6 L440.5 597.1 L437.9 598.6 L439.3 601.1 L437.0 602.7 L438.1 605.1 L435.7 606.6 L437.0 609.1 L434.7 610.7 L436.0 613.2" fill="none" stroke="#4a4cc8" stroke-width="0.55" opacity="0.75"/>
<path d="M449.8 595.7 L448.6 597.6 L449.4 599.8 L447.8 601.6 L449.5 603.9 L447.3 605.7 L448.6 607.9 L447.1 609.7 L448.6 612.0 L446.5 613.8 L447.5 615.9" fill="none" stroke="#4a4cc8" stroke-width="0.55" opacity="0.75"/>
<path d="M431.0 622.1 L429.4 624.6 L430.5 627.4 L428.6 629.9 L429.5 632.8 L427.7 635.3 L428.9 638.1 L427.1 640.6 L428.5 643.5" fill="none" stroke="#4a4cc8" stroke-width="0.55" opacity="0.75"/>
<path d="M431.9 624.1 L430.3 626.4 L431.1 629.0 L429.8 631.4 L430.9 634.0 L429.4 636.4 L430.1 639.0 L428.5 641.3 L430.0 644.0" fill="none" stroke="#4a4cc8" stroke-width="0.55" opacity="0.75"/>
<path d="M428.7 624.9 L427.8 627.2 L429.5 629.2 L428.2 631.5 L430.1 633.5 L428.4 635.9 L430.4 637.9 L429.0 640.2 L430.9 642.2" fill="none" stroke="#4a4cc8" stroke-width="0.55" opacity="0.75"/>
<path d="M431.5 622.3 L430.0 624.7 L431.3 627.4 L429.7 629.8 L430.9 632.5 L429.4 634.9 L430.6 637.6 L429.1 640.0 L430.4 642.7" fill="none" stroke="#4a4cc8" stroke-width="0.55" opacity="0.75"/>
<path d="M429.2 623.6 L428.1 625.5 L429.6 627.2 L428.3 629.1 L429.8 630.8 L428.7 632.7 L430.1 634.4 L429.0 636.3 L430.6 638.0" fill="none" stroke="#4a4cc8" stroke-width="0.55" opacity="0.75"/>
<g opacity="0.85"><circle cx="436.0" cy="569.1" r="0.82" fill="#9af4e6"/><circle cx="436.1" cy="569.0" r="0.95" fill="#6fe6d2"/><circle cx="437.7" cy="568.6" r="1.15" fill="#9af4e6"/><circle cx="436.8" cy="567.7" r="1.17" fill="#6fe6d2"/><circle cx="437.5" cy="571.0" r="0.78" fill="#7eeedc"/><circle cx="436.5" cy="570.2" r="1.25" fill="#9af4e6"/><circle cx="435.9" cy="568.9" r="1.01" fill="#7eeedc"/><circle cx="434.7" cy="570.5" r="0.73" fill="#9af4e6"/><circle cx="434.2" cy="570.3" r="0.95" fill="#9af4e6"/><circle cx="435.4" cy="571.0" r="1.01" fill="#9af4e6"/><circle cx="434.6" cy="571.4" r="0.89" fill="#6fe6d2"/><circle cx="434.0" cy="570.0" r="1.00" fill="#9af4e6"/><circle cx="434.0" cy="572.1" r="0.97" fill="#5fdcc8"/><circle cx="435.5" cy="570.5" r="0.86" fill="#6fe6d2"/><circle cx="435.4" cy="570.6" r="1.21" fill="#5fdcc8"/><circle cx="433.7" cy="570.6" r="1.17" fill="#7eeedc"/><circle cx="434.9" cy="572.3" r="0.87" fill="#9af4e6"/><circle cx="433.9" cy="570.7" r="0.92" fill="#5fdcc8"/><circle cx="434.3" cy="570.2" r="1.11" fill="#5fdcc8"/><circle cx="433.4" cy="572.6" r="0.71" fill="#6fe6d2"/><circle cx="432.5" cy="570.9" r="1.09" fill="#7eeedc"/><circle cx="433.9" cy="573.6" r="0.75" fill="#5fdcc8"/><circle cx="433.2" cy="573.1" r="0.92" fill="#7eeedc"/><circle cx="434.4" cy="573.9" r="0.75" fill="#5fdcc8"/><circle cx="432.8" cy="574.2" r="0.86" fill="#6fe6d2"/><circle cx="434.2" cy="574.8" r="0.72" fill="#9af4e6"/><circle cx="433.3" cy="573.4" r="0.96" fill="#9af4e6"/><circle cx="432.3" cy="573.9" r="1.22" fill="#6fe6d2"/><circle cx="431.7" cy="573.9" r="1.11" fill="#5fdcc8"/><circle cx="431.3" cy="574.2" r="0.87" fill="#9af4e6"/><circle cx="431.6" cy="574.9" r="0.75" fill="#9af4e6"/><circle cx="431.8" cy="575.4" r="0.87" fill="#7eeedc"/><circle cx="430.5" cy="575.1" r="0.77" fill="#9af4e6"/><circle cx="431.9" cy="575.3" r="1.21" fill="#5fdcc8"/><circle cx="431.2" cy="577.2" r="1.14" fill="#6fe6d2"/><circle cx="432.0" cy="574.7" r="0.80" fill="#5fdcc8"/><circle cx="431.0" cy="576.5" r="1.11" fill="#5fdcc8"/><circle cx="431.7" cy="575.6" r="0.74" fill="#6fe6d2"/><circle cx="429.5" cy="576.5" r="1.04" fill="#9af4e6"/><circle cx="430.8" cy="578.1" r="1.14" fill="#5fdcc8"/><circle cx="431.0" cy="577.4" r="0.78" fill="#7eeedc"/><circle cx="430.1" cy="576.1" r="0.85" fill="#5fdcc8"/><circle cx="430.7" cy="577.7" r="0.73" fill="#7eeedc"/><circle cx="430.8" cy="577.9" r="0.85" fill="#5fdcc8"/><circle cx="430.6" cy="577.4" r="0.78" fill="#5fdcc8"/><circle cx="430.9" cy="578.9" r="1.13" fill="#5fdcc8"/><circle cx="431.8" cy="578.5" r="1.14" fill="#9af4e6"/><circle cx="432.1" cy="579.2" r="0.78" fill="#9af4e6"/><circle cx="430.9" cy="578.7" r="0.96" fill="#6fe6d2"/><circle cx="431.4" cy="578.6" r="0.91" fill="#7eeedc"/><circle cx="432.0" cy="580.6" r="0.84" fill="#5fdcc8"/><circle cx="431.0" cy="582.4" r="0.81" fill="#7eeedc"/><circle cx="428.5" cy="579.7" r="0.96" fill="#9af4e6"/><circle cx="431.5" cy="579.8" r="1.10" fill="#7eeedc"/></g>
<g opacity="0.85"><circle cx="427.5" cy="572.1" r="0.81" fill="#7eeedc"/><circle cx="427.9" cy="570.3" r="0.76" fill="#5fdcc8"/><circle cx="427.1" cy="571.8" r="0.85" fill="#7eeedc"/><circle cx="426.8" cy="571.7" r="1.23" fill="#5fdcc8"/><circle cx="427.0" cy="571.4" r="1.12" fill="#6fe6d2"/><circle cx="427.4" cy="572.2" r="1.04" fill="#7eeedc"/><circle cx="428.2" cy="572.8" r="1.09" fill="#7eeedc"/><circle cx="427.5" cy="572.8" r="1.24" fill="#9af4e6"/><circle cx="427.2" cy="572.0" r="0.81" fill="#5fdcc8"/><circle cx="426.5" cy="573.3" r="1.19" fill="#5fdcc8"/><circle cx="426.4" cy="572.3" r="1.00" fill="#5fdcc8"/><circle cx="426.9" cy="574.0" r="0.89" fill="#5fdcc8"/><circle cx="426.3" cy="575.6" r="1.20" fill="#6fe6d2"/><circle cx="427.0" cy="574.2" r="0.86" fill="#9af4e6"/><circle cx="425.4" cy="574.2" r="1.13" fill="#5fdcc8"/><circle cx="426.2" cy="572.6" r="1.04" fill="#9af4e6"/><circle cx="426.3" cy="574.3" r="1.10" fill="#5fdcc8"/><circle cx="426.7" cy="576.3" r="1.12" fill="#6fe6d2"/><circle cx="425.5" cy="575.0" r="1.05" fill="#7eeedc"/><circle cx="427.2" cy="576.3" r="0.72" fill="#6fe6d2"/><circle cx="426.0" cy="576.2" r="0.76" fill="#6fe6d2"/><circle cx="426.9" cy="576.7" r="1.16" fill="#5fdcc8"/><circle cx="424.4" cy="576.3" r="0.84" fill="#9af4e6"/><circle cx="426.1" cy="577.9" r="0.71" fill="#6fe6d2"/><circle cx="424.5" cy="575.3" r="1.16" fill="#5fdcc8"/><circle cx="425.8" cy="576.7" r="1.01" fill="#5fdcc8"/><circle cx="426.2" cy="576.1" r="0.73" fill="#9af4e6"/><circle cx="424.1" cy="577.2" r="1.16" fill="#7eeedc"/><circle cx="427.6" cy="577.2" r="0.75" fill="#6fe6d2"/><circle cx="424.8" cy="577.9" r="0.99" fill="#6fe6d2"/><circle cx="423.3" cy="577.6" r="1.01" fill="#5fdcc8"/><circle cx="425.3" cy="577.0" r="1.02" fill="#5fdcc8"/><circle cx="424.9" cy="578.1" r="0.76" fill="#6fe6d2"/><circle cx="424.1" cy="578.7" r="1.06" fill="#5fdcc8"/><circle cx="426.8" cy="578.7" r="1.00" fill="#9af4e6"/><circle cx="425.6" cy="578.7" r="1.05" fill="#9af4e6"/><circle cx="424.0" cy="579.3" r="0.82" fill="#9af4e6"/><circle cx="424.3" cy="580.8" r="1.23" fill="#7eeedc"/><circle cx="424.5" cy="578.0" r="1.03" fill="#6fe6d2"/><circle cx="425.6" cy="580.5" r="0.87" fill="#6fe6d2"/><circle cx="425.0" cy="581.8" r="1.12" fill="#9af4e6"/><circle cx="425.7" cy="580.5" r="1.01" fill="#6fe6d2"/><circle cx="425.6" cy="582.1" r="0.79" fill="#9af4e6"/><circle cx="423.9" cy="582.4" r="0.83" fill="#9af4e6"/><circle cx="425.4" cy="582.5" r="1.20" fill="#7eeedc"/><circle cx="424.4" cy="580.4" r="0.80" fill="#7eeedc"/><circle cx="424.0" cy="582.1" r="1.10" fill="#5fdcc8"/><circle cx="424.9" cy="582.6" r="1.12" fill="#9af4e6"/><circle cx="425.2" cy="582.3" r="1.21" fill="#7eeedc"/><circle cx="425.0" cy="582.5" r="1.06" fill="#7eeedc"/><circle cx="423.6" cy="582.6" r="0.73" fill="#7eeedc"/><circle cx="424.0" cy="584.6" r="0.88" fill="#6fe6d2"/><circle cx="425.2" cy="585.1" r="1.25" fill="#5fdcc8"/><circle cx="424.5" cy="582.8" r="0.75" fill="#5fdcc8"/><circle cx="424.2" cy="585.4" r="0.77" fill="#7eeedc"/><circle cx="422.9" cy="584.7" r="1.00" fill="#9af4e6"/><circle cx="425.2" cy="585.5" r="1.13" fill="#6fe6d2"/><circle cx="424.4" cy="584.0" r="0.81" fill="#5fdcc8"/><circle cx="423.9" cy="585.0" r="1.04" fill="#6fe6d2"/><circle cx="424.3" cy="586.2" r="0.94" fill="#7eeedc"/><circle cx="424.9" cy="586.6" r="0.90" fill="#6fe6d2"/><circle cx="423.7" cy="587.1" r="0.71" fill="#9af4e6"/><circle cx="424.6" cy="587.2" r="1.15" fill="#5fdcc8"/><circle cx="423.5" cy="585.8" r="1.21" fill="#6fe6d2"/><circle cx="424.4" cy="587.8" r="1.12" fill="#7eeedc"/><circle cx="424.3" cy="587.2" r="1.22" fill="#6fe6d2"/><circle cx="425.2" cy="586.3" r="0.71" fill="#7eeedc"/><circle cx="423.7" cy="588.5" r="0.88" fill="#6fe6d2"/><circle cx="424.3" cy="589.0" r="0.84" fill="#5fdcc8"/><circle cx="422.0" cy="586.0" r="1.08" fill="#7eeedc"/><circle cx="422.6" cy="589.9" r="0.99" fill="#9af4e6"/><circle cx="424.3" cy="589.1" r="1.13" fill="#9af4e6"/><circle cx="425.1" cy="589.4" r="0.70" fill="#5fdcc8"/><circle cx="423.2" cy="587.9" r="1.20" fill="#9af4e6"/><circle cx="424.0" cy="589.4" r="1.18" fill="#5fdcc8"/><circle cx="424.0" cy="590.4" r="1.24" fill="#7eeedc"/><circle cx="424.7" cy="589.4" r="1.03" fill="#7eeedc"/><circle cx="424.2" cy="591.0" r="0.95" fill="#7eeedc"/><circle cx="425.7" cy="591.0" r="0.87" fill="#5fdcc8"/><circle cx="423.3" cy="590.8" r="0.89" fill="#9af4e6"/><circle cx="423.2" cy="591.6" r="1.25" fill="#9af4e6"/><circle cx="424.2" cy="589.8" r="1.18" fill="#7eeedc"/><circle cx="425.7" cy="590.7" r="0.82" fill="#9af4e6"/><circle cx="424.7" cy="590.7" r="0.75" fill="#5fdcc8"/><circle cx="422.3" cy="591.8" r="1.18" fill="#6fe6d2"/><circle cx="422.6" cy="592.6" r="0.93" fill="#9af4e6"/><circle cx="424.2" cy="592.1" r="1.00" fill="#6fe6d2"/><circle cx="422.8" cy="591.5" r="1.08" fill="#6fe6d2"/><circle cx="423.9" cy="592.4" r="1.09" fill="#6fe6d2"/><circle cx="421.6" cy="593.8" r="1.12" fill="#6fe6d2"/><circle cx="422.8" cy="594.5" r="1.22" fill="#7eeedc"/><circle cx="424.0" cy="595.1" r="0.78" fill="#7eeedc"/><circle cx="423.4" cy="592.2" r="0.93" fill="#5fdcc8"/><circle cx="422.7" cy="595.4" r="1.15" fill="#9af4e6"/><circle cx="423.4" cy="595.0" r="0.77" fill="#7eeedc"/><circle cx="423.2" cy="593.3" r="0.85" fill="#6fe6d2"/><circle cx="422.5" cy="594.6" r="0.71" fill="#7eeedc"/><circle cx="422.6" cy="594.1" r="0.98" fill="#5fdcc8"/><circle cx="422.7" cy="594.7" r="1.17" fill="#5fdcc8"/><circle cx="422.4" cy="595.6" r="0.82" fill="#5fdcc8"/><circle cx="422.8" cy="595.8" r="0.85" fill="#5fdcc8"/><circle cx="423.0" cy="597.3" r="0.81" fill="#6fe6d2"/><circle cx="424.6" cy="597.3" r="1.24" fill="#5fdcc8"/><circle cx="422.0" cy="594.8" r="1.19" fill="#5fdcc8"/><circle cx="422.4" cy="597.1" r="1.10" fill="#5fdcc8"/><circle cx="422.4" cy="596.1" r="1.22" fill="#7eeedc"/><circle cx="421.5" cy="597.4" r="1.15" fill="#7eeedc"/><circle cx="423.0" cy="597.0" r="1.00" fill="#7eeedc"/><circle cx="421.4" cy="597.6" r="1.05" fill="#7eeedc"/><circle cx="422.8" cy="598.9" r="1.19" fill="#9af4e6"/><circle cx="421.4" cy="598.7" r="1.04" fill="#7eeedc"/><circle cx="421.6" cy="596.7" r="0.95" fill="#5fdcc8"/><circle cx="423.4" cy="599.6" r="0.80" fill="#6fe6d2"/><circle cx="421.9" cy="599.5" r="0.71" fill="#5fdcc8"/><circle cx="421.5" cy="598.7" r="0.81" fill="#5fdcc8"/><circle cx="423.3" cy="599.9" r="1.06" fill="#6fe6d2"/><circle cx="422.8" cy="599.5" r="0.76" fill="#5fdcc8"/><circle cx="422.6" cy="599.7" r="1.09" fill="#6fe6d2"/><circle cx="422.4" cy="601.1" r="1.12" fill="#9af4e6"/><circle cx="421.8" cy="600.0" r="0.78" fill="#6fe6d2"/><circle cx="423.8" cy="602.3" r="0.93" fill="#9af4e6"/><circle cx="422.9" cy="598.7" r="0.86" fill="#6fe6d2"/><circle cx="423.8" cy="601.8" r="0.81" fill="#9af4e6"/><circle cx="424.5" cy="601.6" r="0.97" fill="#7eeedc"/><circle cx="422.8" cy="601.3" r="0.82" fill="#5fdcc8"/><circle cx="422.7" cy="602.3" r="1.03" fill="#7eeedc"/><circle cx="423.8" cy="603.6" r="1.04" fill="#6fe6d2"/><circle cx="424.3" cy="602.7" r="1.06" fill="#7eeedc"/><circle cx="424.1" cy="603.2" r="1.02" fill="#9af4e6"/><circle cx="423.8" cy="603.3" r="0.76" fill="#6fe6d2"/><circle cx="424.5" cy="604.1" r="1.06" fill="#6fe6d2"/><circle cx="425.6" cy="603.2" r="0.90" fill="#7eeedc"/><circle cx="425.0" cy="604.4" r="0.90" fill="#5fdcc8"/><circle cx="425.0" cy="602.6" r="1.16" fill="#7eeedc"/><circle cx="424.4" cy="605.0" r="1.08" fill="#9af4e6"/><circle cx="424.1" cy="605.3" r="0.82" fill="#6fe6d2"/><circle cx="424.4" cy="604.7" r="1.10" fill="#7eeedc"/><circle cx="423.3" cy="605.1" r="1.21" fill="#9af4e6"/><circle cx="423.3" cy="606.3" r="0.84" fill="#9af4e6"/><circle cx="426.0" cy="605.0" r="0.97" fill="#5fdcc8"/></g>
<g opacity="0.85"><circle cx="430.4" cy="580.0" r="1.04" fill="#9af4e6"/><circle cx="431.1" cy="580.0" r="0.71" fill="#7eeedc"/><circle cx="431.2" cy="579.8" r="1.04" fill="#5fdcc8"/><circle cx="430.6" cy="580.9" r="1.01" fill="#6fe6d2"/><circle cx="432.2" cy="580.9" r="0.85" fill="#7eeedc"/><circle cx="431.2" cy="581.9" r="0.88" fill="#7eeedc"/><circle cx="432.4" cy="581.9" r="0.92" fill="#7eeedc"/><circle cx="432.1" cy="580.8" r="1.16" fill="#5fdcc8"/><circle cx="433.5" cy="581.0" r="1.06" fill="#5fdcc8"/><circle cx="432.7" cy="582.6" r="1.18" fill="#9af4e6"/><circle cx="430.8" cy="582.6" r="1.21" fill="#7eeedc"/><circle cx="432.8" cy="581.6" r="1.10" fill="#9af4e6"/><circle cx="432.5" cy="582.6" r="1.02" fill="#9af4e6"/><circle cx="433.2" cy="580.9" r="0.89" fill="#6fe6d2"/><circle cx="432.9" cy="583.3" r="1.24" fill="#6fe6d2"/><circle cx="432.1" cy="582.7" r="1.03" fill="#9af4e6"/><circle cx="433.0" cy="582.8" r="0.72" fill="#5fdcc8"/><circle cx="434.8" cy="584.5" r="0.90" fill="#9af4e6"/><circle cx="433.7" cy="584.7" r="0.76" fill="#7eeedc"/><circle cx="433.8" cy="582.0" r="0.94" fill="#7eeedc"/><circle cx="434.5" cy="582.5" r="0.78" fill="#9af4e6"/><circle cx="435.2" cy="583.7" r="0.99" fill="#9af4e6"/><circle cx="435.4" cy="586.1" r="1.15" fill="#6fe6d2"/><circle cx="434.4" cy="584.9" r="0.91" fill="#7eeedc"/><circle cx="436.8" cy="585.0" r="1.08" fill="#7eeedc"/><circle cx="433.8" cy="586.6" r="0.76" fill="#9af4e6"/><circle cx="436.6" cy="585.5" r="1.05" fill="#6fe6d2"/><circle cx="434.8" cy="585.8" r="0.85" fill="#9af4e6"/><circle cx="435.7" cy="584.3" r="0.85" fill="#6fe6d2"/><circle cx="435.5" cy="585.8" r="1.04" fill="#7eeedc"/><circle cx="436.1" cy="586.8" r="0.88" fill="#6fe6d2"/><circle cx="437.4" cy="585.4" r="1.02" fill="#6fe6d2"/><circle cx="437.4" cy="586.8" r="0.89" fill="#5fdcc8"/><circle cx="436.5" cy="586.4" r="1.20" fill="#7eeedc"/><circle cx="437.1" cy="586.7" r="0.93" fill="#6fe6d2"/><circle cx="436.3" cy="584.7" r="1.05" fill="#5fdcc8"/><circle cx="436.8" cy="586.1" r="1.15" fill="#7eeedc"/><circle cx="438.8" cy="586.4" r="0.96" fill="#6fe6d2"/><circle cx="439.2" cy="587.7" r="1.08" fill="#7eeedc"/><circle cx="436.5" cy="587.2" r="1.09" fill="#5fdcc8"/><circle cx="436.2" cy="587.4" r="0.78" fill="#9af4e6"/><circle cx="439.1" cy="586.5" r="1.08" fill="#9af4e6"/><circle cx="439.3" cy="585.3" r="0.95" fill="#7eeedc"/><circle cx="439.3" cy="587.3" r="0.96" fill="#6fe6d2"/><circle cx="439.3" cy="588.1" r="1.02" fill="#7eeedc"/><circle cx="438.2" cy="588.1" r="0.76" fill="#7eeedc"/><circle cx="440.2" cy="586.4" r="0.92" fill="#5fdcc8"/><circle cx="440.0" cy="588.2" r="0.79" fill="#5fdcc8"/><circle cx="439.8" cy="588.2" r="1.15" fill="#5fdcc8"/><circle cx="440.7" cy="586.7" r="1.13" fill="#6fe6d2"/><circle cx="441.6" cy="589.0" r="1.11" fill="#5fdcc8"/><circle cx="441.9" cy="588.6" r="0.88" fill="#7eeedc"/><circle cx="441.7" cy="587.5" r="1.23" fill="#7eeedc"/><circle cx="440.4" cy="587.2" r="1.03" fill="#5fdcc8"/><circle cx="441.3" cy="588.9" r="0.73" fill="#6fe6d2"/><circle cx="442.7" cy="586.0" r="1.20" fill="#7eeedc"/><circle cx="442.4" cy="586.1" r="0.95" fill="#9af4e6"/><circle cx="441.4" cy="588.2" r="0.81" fill="#9af4e6"/><circle cx="442.2" cy="588.6" r="1.07" fill="#5fdcc8"/><circle cx="442.3" cy="585.2" r="1.24" fill="#7eeedc"/><circle cx="442.3" cy="586.1" r="1.17" fill="#9af4e6"/><circle cx="444.9" cy="587.6" r="1.23" fill="#7eeedc"/><circle cx="443.1" cy="584.9" r="0.90" fill="#9af4e6"/><circle cx="444.0" cy="586.0" r="1.09" fill="#5fdcc8"/><circle cx="442.9" cy="585.2" r="0.92" fill="#5fdcc8"/><circle cx="442.7" cy="585.9" r="0.96" fill="#6fe6d2"/><circle cx="442.7" cy="585.4" r="0.90" fill="#5fdcc8"/><circle cx="446.1" cy="588.5" r="1.07" fill="#6fe6d2"/><circle cx="446.1" cy="585.8" r="0.78" fill="#5fdcc8"/><circle cx="443.4" cy="583.6" r="0.77" fill="#6fe6d2"/><circle cx="444.6" cy="584.6" r="0.95" fill="#5fdcc8"/><circle cx="444.5" cy="584.7" r="0.93" fill="#5fdcc8"/><circle cx="445.1" cy="585.5" r="0.93" fill="#7eeedc"/><circle cx="444.0" cy="584.3" r="0.83" fill="#9af4e6"/><circle cx="445.0" cy="585.4" r="0.90" fill="#7eeedc"/><circle cx="444.7" cy="584.2" r="0.76" fill="#5fdcc8"/><circle cx="446.7" cy="584.4" r="1.10" fill="#9af4e6"/><circle cx="446.0" cy="584.6" r="1.19" fill="#7eeedc"/><circle cx="446.8" cy="585.5" r="1.07" fill="#7eeedc"/><circle cx="446.3" cy="583.2" r="1.02" fill="#7eeedc"/><circle cx="448.2" cy="583.6" r="0.71" fill="#5fdcc8"/><circle cx="446.3" cy="584.1" r="1.10" fill="#5fdcc8"/><circle cx="446.3" cy="586.2" r="0.86" fill="#6fe6d2"/><circle cx="449.8" cy="584.7" r="1.11" fill="#9af4e6"/><circle cx="449.3" cy="584.7" r="0.79" fill="#7eeedc"/><circle cx="447.9" cy="583.7" r="1.11" fill="#7eeedc"/><circle cx="448.8" cy="584.7" r="0.98" fill="#9af4e6"/><circle cx="448.9" cy="585.6" r="0.85" fill="#9af4e6"/><circle cx="449.8" cy="584.4" r="0.80" fill="#6fe6d2"/><circle cx="448.9" cy="583.6" r="0.80" fill="#6fe6d2"/><circle cx="448.3" cy="584.5" r="1.17" fill="#9af4e6"/><circle cx="452.3" cy="584.1" r="1.03" fill="#6fe6d2"/><circle cx="451.2" cy="583.1" r="0.93" fill="#5fdcc8"/><circle cx="450.5" cy="585.4" r="1.05" fill="#6fe6d2"/><circle cx="449.4" cy="583.6" r="0.73" fill="#9af4e6"/><circle cx="451.0" cy="584.0" r="0.79" fill="#5fdcc8"/><circle cx="450.5" cy="584.6" r="1.22" fill="#6fe6d2"/><circle cx="450.5" cy="585.4" r="0.96" fill="#6fe6d2"/><circle cx="451.1" cy="584.3" r="0.86" fill="#5fdcc8"/><circle cx="451.4" cy="585.0" r="0.99" fill="#7eeedc"/><circle cx="453.4" cy="585.3" r="0.89" fill="#5fdcc8"/><circle cx="451.5" cy="583.8" r="0.85" fill="#9af4e6"/><circle cx="453.0" cy="585.2" r="1.06" fill="#5fdcc8"/><circle cx="451.7" cy="585.1" r="0.83" fill="#6fe6d2"/><circle cx="452.2" cy="584.7" r="1.25" fill="#9af4e6"/><circle cx="452.2" cy="584.5" r="1.16" fill="#7eeedc"/><circle cx="453.1" cy="585.6" r="1.08" fill="#9af4e6"/><circle cx="454.1" cy="585.7" r="0.81" fill="#7eeedc"/><circle cx="454.3" cy="584.9" r="1.03" fill="#6fe6d2"/><circle cx="455.7" cy="584.8" r="1.09" fill="#7eeedc"/><circle cx="456.0" cy="585.9" r="0.91" fill="#6fe6d2"/><circle cx="456.1" cy="584.4" r="0.84" fill="#5fdcc8"/><circle cx="455.3" cy="585.1" r="0.95" fill="#9af4e6"/><circle cx="455.7" cy="584.0" r="1.07" fill="#9af4e6"/><circle cx="455.9" cy="587.1" r="0.85" fill="#7eeedc"/><circle cx="455.4" cy="586.1" r="0.73" fill="#9af4e6"/><circle cx="456.6" cy="586.0" r="1.24" fill="#6fe6d2"/><circle cx="456.1" cy="585.3" r="0.97" fill="#6fe6d2"/><circle cx="456.1" cy="585.5" r="1.04" fill="#7eeedc"/><circle cx="458.2" cy="585.0" r="0.76" fill="#7eeedc"/><circle cx="458.8" cy="586.5" r="1.13" fill="#7eeedc"/><circle cx="457.9" cy="585.6" r="1.05" fill="#7eeedc"/><circle cx="457.6" cy="585.4" r="1.09" fill="#5fdcc8"/><circle cx="457.0" cy="585.6" r="1.22" fill="#5fdcc8"/><circle cx="457.6" cy="586.3" r="1.10" fill="#7eeedc"/><circle cx="458.4" cy="586.2" r="1.22" fill="#5fdcc8"/><circle cx="459.8" cy="587.1" r="1.25" fill="#9af4e6"/><circle cx="458.6" cy="585.5" r="1.05" fill="#7eeedc"/><circle cx="457.9" cy="588.2" r="0.89" fill="#5fdcc8"/><circle cx="459.2" cy="586.1" r="0.81" fill="#7eeedc"/><circle cx="460.5" cy="587.1" r="0.86" fill="#5fdcc8"/><circle cx="460.2" cy="586.6" r="0.90" fill="#7eeedc"/><circle cx="460.1" cy="587.3" r="0.80" fill="#7eeedc"/><circle cx="459.8" cy="589.3" r="1.03" fill="#5fdcc8"/><circle cx="458.2" cy="589.5" r="1.05" fill="#5fdcc8"/><circle cx="457.8" cy="588.1" r="0.95" fill="#7eeedc"/><circle cx="459.9" cy="589.1" r="1.13" fill="#7eeedc"/><circle cx="459.0" cy="589.3" r="1.06" fill="#5fdcc8"/><circle cx="461.4" cy="588.9" r="1.00" fill="#6fe6d2"/><circle cx="459.9" cy="589.4" r="0.78" fill="#7eeedc"/><circle cx="457.8" cy="590.4" r="0.73" fill="#6fe6d2"/><circle cx="461.1" cy="590.2" r="1.20" fill="#7eeedc"/><circle cx="459.4" cy="590.7" r="1.03" fill="#7eeedc"/><circle cx="460.8" cy="591.4" r="1.04" fill="#7eeedc"/><circle cx="460.0" cy="590.2" r="1.15" fill="#5fdcc8"/><circle cx="458.6" cy="593.3" r="1.02" fill="#6fe6d2"/><circle cx="458.5" cy="593.6" r="0.82" fill="#7eeedc"/><circle cx="458.9" cy="591.1" r="0.77" fill="#6fe6d2"/><circle cx="459.4" cy="591.5" r="0.90" fill="#6fe6d2"/><circle cx="457.5" cy="592.8" r="0.72" fill="#7eeedc"/><circle cx="459.5" cy="591.3" r="0.91" fill="#6fe6d2"/><circle cx="460.2" cy="592.6" r="0.70" fill="#6fe6d2"/><circle cx="460.3" cy="592.3" r="1.03" fill="#9af4e6"/><circle cx="457.6" cy="593.8" r="1.12" fill="#6fe6d2"/><circle cx="459.2" cy="594.7" r="0.99" fill="#5fdcc8"/><circle cx="458.9" cy="594.0" r="1.08" fill="#6fe6d2"/><circle cx="458.4" cy="592.7" r="0.75" fill="#9af4e6"/><circle cx="458.6" cy="594.0" r="0.83" fill="#7eeedc"/><circle cx="461.0" cy="594.2" r="1.04" fill="#6fe6d2"/><circle cx="457.3" cy="594.7" r="0.81" fill="#7eeedc"/><circle cx="458.9" cy="596.4" r="1.08" fill="#5fdcc8"/><circle cx="457.8" cy="594.9" r="1.21" fill="#7eeedc"/><circle cx="457.7" cy="594.8" r="0.94" fill="#9af4e6"/><circle cx="456.8" cy="594.1" r="0.95" fill="#7eeedc"/><circle cx="457.9" cy="593.8" r="0.80" fill="#7eeedc"/><circle cx="457.5" cy="595.8" r="1.19" fill="#5fdcc8"/><circle cx="457.2" cy="595.8" r="0.81" fill="#9af4e6"/><circle cx="457.9" cy="596.7" r="0.83" fill="#6fe6d2"/><circle cx="457.5" cy="594.9" r="0.91" fill="#6fe6d2"/><circle cx="458.7" cy="597.3" r="0.73" fill="#5fdcc8"/><circle cx="458.7" cy="598.9" r="0.95" fill="#5fdcc8"/><circle cx="456.8" cy="597.9" r="0.81" fill="#9af4e6"/><circle cx="457.9" cy="597.6" r="0.77" fill="#7eeedc"/><circle cx="457.2" cy="598.1" r="0.96" fill="#5fdcc8"/><circle cx="457.5" cy="598.9" r="1.19" fill="#6fe6d2"/><circle cx="457.5" cy="597.0" r="1.04" fill="#6fe6d2"/><circle cx="456.0" cy="598.2" r="0.83" fill="#5fdcc8"/><circle cx="457.6" cy="597.9" r="1.25" fill="#5fdcc8"/><circle cx="457.2" cy="598.6" r="1.10" fill="#6fe6d2"/><circle cx="456.9" cy="600.2" r="0.82" fill="#6fe6d2"/><circle cx="458.3" cy="598.7" r="0.93" fill="#7eeedc"/><circle cx="457.7" cy="600.0" r="1.12" fill="#7eeedc"/><circle cx="455.7" cy="600.6" r="1.15" fill="#7eeedc"/><circle cx="455.9" cy="600.4" r="1.01" fill="#7eeedc"/><circle cx="456.1" cy="599.9" r="0.82" fill="#9af4e6"/><circle cx="456.0" cy="602.0" r="0.75" fill="#5fdcc8"/><circle cx="456.0" cy="600.8" r="0.95" fill="#7eeedc"/><circle cx="457.2" cy="601.1" r="0.78" fill="#5fdcc8"/><circle cx="456.8" cy="603.4" r="1.04" fill="#7eeedc"/><circle cx="456.3" cy="601.5" r="1.19" fill="#9af4e6"/><circle cx="455.2" cy="602.1" r="1.11" fill="#6fe6d2"/><circle cx="456.0" cy="601.9" r="1.18" fill="#7eeedc"/><circle cx="453.8" cy="602.6" r="0.90" fill="#7eeedc"/><circle cx="456.5" cy="603.3" r="1.04" fill="#9af4e6"/><circle cx="454.8" cy="604.3" r="1.09" fill="#6fe6d2"/><circle cx="456.2" cy="603.9" r="1.00" fill="#5fdcc8"/><circle cx="455.4" cy="602.3" r="1.18" fill="#6fe6d2"/><circle cx="455.5" cy="602.3" r="0.88" fill="#9af4e6"/><circle cx="454.2" cy="604.2" r="0.73" fill="#9af4e6"/><circle cx="454.6" cy="605.1" r="0.99" fill="#7eeedc"/><circle cx="453.7" cy="604.8" r="1.15" fill="#9af4e6"/><circle cx="454.0" cy="604.9" r="1.07" fill="#7eeedc"/><circle cx="455.2" cy="606.7" r="0.75" fill="#5fdcc8"/><circle cx="455.1" cy="604.6" r="1.23" fill="#7eeedc"/><circle cx="454.4" cy="605.8" r="0.78" fill="#6fe6d2"/><circle cx="454.9" cy="604.6" r="1.05" fill="#9af4e6"/><circle cx="452.7" cy="606.5" r="1.21" fill="#5fdcc8"/><circle cx="453.3" cy="606.6" r="1.05" fill="#9af4e6"/><circle cx="453.6" cy="606.4" r="1.14" fill="#9af4e6"/><circle cx="452.8" cy="606.6" r="1.06" fill="#9af4e6"/><circle cx="451.9" cy="606.7" r="0.99" fill="#5fdcc8"/><circle cx="452.1" cy="606.9" r="1.19" fill="#9af4e6"/><circle cx="453.2" cy="607.6" r="0.97" fill="#9af4e6"/><circle cx="452.9" cy="606.7" r="0.89" fill="#5fdcc8"/><circle cx="453.7" cy="607.1" r="0.79" fill="#9af4e6"/><circle cx="452.8" cy="607.9" r="1.09" fill="#6fe6d2"/><circle cx="452.4" cy="608.2" r="1.25" fill="#6fe6d2"/><circle cx="451.4" cy="608.1" r="0.81" fill="#7eeedc"/><circle cx="450.6" cy="606.1" r="0.78" fill="#5fdcc8"/><circle cx="451.3" cy="608.1" r="0.87" fill="#7eeedc"/><circle cx="450.7" cy="609.2" r="0.78" fill="#5fdcc8"/><circle cx="452.0" cy="608.4" r="1.23" fill="#9af4e6"/><circle cx="450.7" cy="608.4" r="1.19" fill="#6fe6d2"/><circle cx="451.6" cy="607.6" r="1.21" fill="#9af4e6"/><circle cx="450.4" cy="608.1" r="1.20" fill="#6fe6d2"/><circle cx="450.7" cy="609.0" r="0.71" fill="#6fe6d2"/><circle cx="450.3" cy="610.0" r="0.73" fill="#6fe6d2"/><circle cx="450.1" cy="609.6" r="1.21" fill="#9af4e6"/><circle cx="450.5" cy="610.7" r="1.17" fill="#7eeedc"/><circle cx="451.3" cy="610.2" r="0.97" fill="#7eeedc"/><circle cx="450.8" cy="610.3" r="0.78" fill="#5fdcc8"/><circle cx="449.5" cy="611.4" r="0.86" fill="#9af4e6"/><circle cx="449.5" cy="612.1" r="1.01" fill="#6fe6d2"/><circle cx="449.7" cy="610.2" r="1.25" fill="#5fdcc8"/><circle cx="449.2" cy="613.2" r="1.23" fill="#5fdcc8"/><circle cx="449.4" cy="610.7" r="1.16" fill="#7eeedc"/><circle cx="449.7" cy="612.7" r="1.24" fill="#9af4e6"/><circle cx="451.4" cy="613.0" r="1.12" fill="#7eeedc"/><circle cx="450.3" cy="612.6" r="0.85" fill="#6fe6d2"/><circle cx="447.7" cy="612.0" r="1.12" fill="#6fe6d2"/><circle cx="449.3" cy="614.6" r="0.86" fill="#5fdcc8"/><circle cx="450.3" cy="613.4" r="1.16" fill="#9af4e6"/><circle cx="447.0" cy="613.4" r="0.82" fill="#7eeedc"/><circle cx="448.9" cy="614.0" r="1.05" fill="#5fdcc8"/><circle cx="449.1" cy="614.7" r="0.86" fill="#6fe6d2"/><circle cx="446.8" cy="613.9" r="0.83" fill="#7eeedc"/><circle cx="448.0" cy="613.2" r="1.23" fill="#9af4e6"/><circle cx="446.9" cy="613.7" r="1.18" fill="#5fdcc8"/><circle cx="449.3" cy="614.4" r="0.91" fill="#7eeedc"/><circle cx="447.9" cy="614.2" r="0.73" fill="#9af4e6"/><circle cx="446.0" cy="615.5" r="0.90" fill="#7eeedc"/><circle cx="447.2" cy="616.1" r="1.20" fill="#9af4e6"/><circle cx="447.8" cy="615.8" r="1.05" fill="#7eeedc"/><circle cx="445.5" cy="615.4" r="0.80" fill="#7eeedc"/><circle cx="446.4" cy="615.7" r="0.88" fill="#9af4e6"/><circle cx="447.4" cy="614.8" r="0.87" fill="#9af4e6"/></g>
<g opacity="0.85"><circle cx="450.3" cy="614.4" r="1.15" fill="#7eeedc"/><circle cx="449.8" cy="614.3" r="1.13" fill="#5fdcc8"/><circle cx="449.0" cy="615.2" r="0.76" fill="#6fe6d2"/><circle cx="448.4" cy="613.7" r="1.14" fill="#7eeedc"/><circle cx="448.9" cy="614.5" r="0.76" fill="#6fe6d2"/><circle cx="451.2" cy="613.2" r="0.87" fill="#9af4e6"/><circle cx="451.5" cy="614.2" r="1.24" fill="#9af4e6"/><circle cx="451.2" cy="614.2" r="1.11" fill="#7eeedc"/><circle cx="451.7" cy="615.1" r="0.78" fill="#6fe6d2"/><circle cx="451.2" cy="614.0" r="1.24" fill="#5fdcc8"/><circle cx="451.4" cy="612.1" r="0.74" fill="#5fdcc8"/><circle cx="452.0" cy="613.2" r="0.76" fill="#7eeedc"/><circle cx="450.7" cy="613.7" r="0.72" fill="#9af4e6"/><circle cx="451.8" cy="612.2" r="1.13" fill="#6fe6d2"/><circle cx="452.5" cy="613.0" r="1.07" fill="#7eeedc"/><circle cx="454.3" cy="614.1" r="1.22" fill="#9af4e6"/><circle cx="452.5" cy="614.5" r="1.13" fill="#6fe6d2"/><circle cx="453.2" cy="613.2" r="1.15" fill="#7eeedc"/><circle cx="452.7" cy="612.9" r="1.23" fill="#6fe6d2"/><circle cx="454.8" cy="612.6" r="1.24" fill="#7eeedc"/><circle cx="456.1" cy="612.2" r="1.17" fill="#5fdcc8"/><circle cx="453.8" cy="613.9" r="0.94" fill="#7eeedc"/><circle cx="455.3" cy="613.7" r="0.91" fill="#6fe6d2"/><circle cx="454.2" cy="612.9" r="1.12" fill="#9af4e6"/><circle cx="455.8" cy="613.3" r="0.77" fill="#9af4e6"/><circle cx="455.2" cy="612.1" r="0.72" fill="#9af4e6"/><circle cx="455.2" cy="613.1" r="0.95" fill="#9af4e6"/><circle cx="455.4" cy="611.7" r="0.82" fill="#5fdcc8"/><circle cx="456.1" cy="614.7" r="0.80" fill="#7eeedc"/><circle cx="457.6" cy="612.3" r="1.22" fill="#9af4e6"/><circle cx="458.3" cy="615.9" r="0.97" fill="#7eeedc"/><circle cx="456.2" cy="613.8" r="1.07" fill="#7eeedc"/><circle cx="458.0" cy="613.9" r="1.02" fill="#7eeedc"/><circle cx="457.4" cy="611.6" r="0.79" fill="#9af4e6"/><circle cx="458.7" cy="613.2" r="1.03" fill="#5fdcc8"/><circle cx="459.1" cy="614.4" r="1.10" fill="#9af4e6"/><circle cx="458.6" cy="612.0" r="1.03" fill="#5fdcc8"/><circle cx="457.8" cy="614.3" r="1.22" fill="#5fdcc8"/><circle cx="458.5" cy="613.4" r="0.95" fill="#7eeedc"/><circle cx="459.0" cy="614.4" r="1.05" fill="#6fe6d2"/><circle cx="460.8" cy="613.7" r="1.16" fill="#5fdcc8"/><circle cx="458.6" cy="611.6" r="0.91" fill="#9af4e6"/><circle cx="460.6" cy="614.4" r="0.75" fill="#7eeedc"/><circle cx="459.5" cy="612.7" r="0.97" fill="#5fdcc8"/><circle cx="460.9" cy="614.7" r="0.97" fill="#9af4e6"/><circle cx="459.1" cy="613.2" r="1.00" fill="#7eeedc"/><circle cx="461.2" cy="613.6" r="0.94" fill="#7eeedc"/><circle cx="460.5" cy="614.1" r="0.91" fill="#5fdcc8"/><circle cx="462.0" cy="613.8" r="1.06" fill="#9af4e6"/><circle cx="461.9" cy="613.4" r="0.94" fill="#9af4e6"/><circle cx="461.8" cy="612.8" r="0.76" fill="#5fdcc8"/><circle cx="461.3" cy="612.7" r="1.01" fill="#5fdcc8"/><circle cx="462.1" cy="613.6" r="0.73" fill="#9af4e6"/><circle cx="460.4" cy="613.9" r="1.04" fill="#9af4e6"/><circle cx="462.4" cy="612.7" r="0.73" fill="#7eeedc"/><circle cx="462.9" cy="613.9" r="1.15" fill="#7eeedc"/><circle cx="462.3" cy="611.7" r="0.91" fill="#5fdcc8"/><circle cx="461.8" cy="613.5" r="0.89" fill="#6fe6d2"/><circle cx="462.1" cy="613.5" r="1.03" fill="#7eeedc"/><circle cx="462.3" cy="612.1" r="0.79" fill="#9af4e6"/><circle cx="463.0" cy="612.2" r="0.93" fill="#5fdcc8"/><circle cx="461.8" cy="613.1" r="1.02" fill="#9af4e6"/><circle cx="461.2" cy="612.0" r="1.01" fill="#5fdcc8"/><circle cx="462.7" cy="612.1" r="0.88" fill="#9af4e6"/><circle cx="461.9" cy="611.5" r="1.23" fill="#6fe6d2"/><circle cx="460.0" cy="610.9" r="1.13" fill="#6fe6d2"/><circle cx="461.4" cy="610.7" r="1.25" fill="#5fdcc8"/><circle cx="461.8" cy="609.4" r="1.23" fill="#7eeedc"/><circle cx="460.8" cy="609.6" r="1.01" fill="#5fdcc8"/><circle cx="460.6" cy="610.3" r="0.74" fill="#9af4e6"/><circle cx="460.5" cy="609.5" r="1.06" fill="#9af4e6"/><circle cx="461.4" cy="610.3" r="1.04" fill="#5fdcc8"/><circle cx="460.5" cy="608.1" r="1.18" fill="#6fe6d2"/><circle cx="460.5" cy="608.7" r="1.23" fill="#5fdcc8"/><circle cx="460.5" cy="609.7" r="1.14" fill="#5fdcc8"/><circle cx="461.8" cy="608.0" r="0.73" fill="#6fe6d2"/><circle cx="459.9" cy="608.5" r="0.78" fill="#9af4e6"/><circle cx="460.7" cy="607.4" r="1.17" fill="#7eeedc"/><circle cx="458.8" cy="606.5" r="0.85" fill="#9af4e6"/><circle cx="459.4" cy="607.2" r="1.03" fill="#5fdcc8"/><circle cx="459.4" cy="607.7" r="0.72" fill="#9af4e6"/><circle cx="458.4" cy="607.5" r="0.94" fill="#7eeedc"/><circle cx="459.2" cy="607.4" r="0.72" fill="#9af4e6"/><circle cx="458.7" cy="606.4" r="1.17" fill="#5fdcc8"/></g>
<path d="M428 618 C434 612 444 610 452 614 C456 620 454 628 450 632 C442 634 434 634 429 630 C426 626 426 622 428 618 Z" fill="#8aeedf" opacity="0.6"/>
<clipPath id="tx1022"><path d="M428 618 C434 612 444 610 452 614 C456 620 454 628 450 632 C442 634 434 634 429 630 C426 626 426 622 428 618 Z"/></clipPath>
<g clip-path="url(#tx1022)" opacity="0.8"><circle cx="450.6" cy="609.5" r="0.95" fill="#72e4d4"/><circle cx="444.5" cy="632.3" r="0.95" fill="#b0f6ec"/><circle cx="454.5" cy="626.8" r="0.94" fill="#b0f6ec"/><circle cx="456.1" cy="628.3" r="0.57" fill="#5fd8c8"/><circle cx="443.4" cy="622.0" r="0.56" fill="#72e4d4"/><circle cx="440.9" cy="610.5" r="0.80" fill="#72e4d4"/><circle cx="435.2" cy="624.4" r="0.69" fill="#9cf2e4"/><circle cx="455.8" cy="614.1" r="0.55" fill="#9cf2e4"/><circle cx="457.0" cy="620.3" r="0.63" fill="#5fd8c8"/><circle cx="440.7" cy="618.5" r="0.97" fill="#72e4d4"/><circle cx="442.6" cy="621.3" r="0.62" fill="#72e4d4"/><circle cx="453.9" cy="634.2" r="0.68" fill="#72e4d4"/><circle cx="451.9" cy="608.6" r="0.98" fill="#5fd8c8"/><circle cx="452.6" cy="626.5" r="0.97" fill="#9cf2e4"/><circle cx="432.6" cy="618.8" r="0.82" fill="#72e4d4"/><circle cx="454.7" cy="627.2" r="0.77" fill="#9cf2e4"/><circle cx="453.2" cy="618.9" r="0.95" fill="#b0f6ec"/><circle cx="455.5" cy="633.7" r="0.65" fill="#9cf2e4"/><circle cx="434.1" cy="632.1" r="0.58" fill="#b0f6ec"/><circle cx="445.5" cy="632.6" r="0.88" fill="#b0f6ec"/><circle cx="450.8" cy="615.7" r="0.54" fill="#b0f6ec"/><circle cx="440.0" cy="619.6" r="0.92" fill="#b0f6ec"/><circle cx="453.8" cy="631.0" r="0.91" fill="#72e4d4"/><circle cx="441.2" cy="617.9" r="0.80" fill="#72e4d4"/><circle cx="439.4" cy="608.8" r="0.53" fill="#9cf2e4"/><circle cx="445.4" cy="630.1" r="0.57" fill="#b0f6ec"/><circle cx="430.8" cy="616.6" r="0.79" fill="#5fd8c8"/><circle cx="429.4" cy="622.5" r="0.98" fill="#9cf2e4"/><circle cx="452.8" cy="627.2" r="0.90" fill="#72e4d4"/><circle cx="439.4" cy="632.5" r="0.57" fill="#9cf2e4"/><circle cx="447.4" cy="631.1" r="0.90" fill="#9cf2e4"/><circle cx="426.9" cy="618.3" r="0.70" fill="#b0f6ec"/><circle cx="456.1" cy="632.8" r="0.61" fill="#5fd8c8"/><circle cx="455.4" cy="626.1" r="0.81" fill="#5fd8c8"/><circle cx="457.1" cy="613.6" r="0.85" fill="#9cf2e4"/><circle cx="425.7" cy="625.3" r="0.80" fill="#9cf2e4"/><circle cx="427.0" cy="618.3" r="0.97" fill="#5fd8c8"/><circle cx="424.5" cy="622.7" r="0.89" fill="#b0f6ec"/><circle cx="452.1" cy="621.8" r="0.61" fill="#9cf2e4"/><circle cx="430.5" cy="632.1" r="0.89" fill="#72e4d4"/><circle cx="449.4" cy="618.7" r="0.72" fill="#9cf2e4"/><circle cx="444.4" cy="635.9" r="0.64" fill="#9cf2e4"/><circle cx="438.2" cy="619.4" r="0.57" fill="#72e4d4"/><circle cx="457.2" cy="614.6" r="0.73" fill="#9cf2e4"/><circle cx="436.6" cy="627.2" r="0.73" fill="#5fd8c8"/><circle cx="439.9" cy="632.4" r="0.99" fill="#b0f6ec"/><circle cx="447.4" cy="628.0" r="0.85" fill="#72e4d4"/><circle cx="426.5" cy="623.6" r="0.53" fill="#9cf2e4"/><circle cx="440.0" cy="617.9" r="0.80" fill="#5fd8c8"/><circle cx="424.2" cy="622.1" r="0.69" fill="#b0f6ec"/><circle cx="446.8" cy="611.7" r="0.95" fill="#5fd8c8"/><circle cx="443.7" cy="615.3" r="0.75" fill="#72e4d4"/><circle cx="453.8" cy="611.7" r="0.66" fill="#b0f6ec"/><circle cx="428.8" cy="611.3" r="0.52" fill="#9cf2e4"/><circle cx="441.0" cy="635.3" r="0.64" fill="#72e4d4"/><circle cx="455.5" cy="615.9" r="0.94" fill="#72e4d4"/><circle cx="441.6" cy="620.2" r="0.58" fill="#b0f6ec"/><circle cx="450.0" cy="612.2" r="0.93" fill="#b0f6ec"/><circle cx="425.8" cy="612.2" r="0.61" fill="#5fd8c8"/><circle cx="440.0" cy="612.6" r="0.73" fill="#5fd8c8"/><circle cx="457.8" cy="634.0" r="0.52" fill="#72e4d4"/><circle cx="457.6" cy="623.7" r="0.73" fill="#5fd8c8"/><circle cx="452.8" cy="632.3" r="0.56" fill="#5fd8c8"/><circle cx="430.9" cy="616.0" r="0.92" fill="#72e4d4"/><circle cx="443.2" cy="626.6" r="0.61" fill="#5fd8c8"/><circle cx="441.9" cy="624.0" r="0.71" fill="#5fd8c8"/><circle cx="432.4" cy="621.9" r="0.55" fill="#72e4d4"/><circle cx="424.9" cy="627.1" r="0.84" fill="#b0f6ec"/><circle cx="436.7" cy="634.0" r="0.55" fill="#72e4d4"/><circle cx="429.2" cy="610.3" r="0.92" fill="#b0f6ec"/><circle cx="439.4" cy="634.7" r="0.80" fill="#5fd8c8"/><circle cx="435.2" cy="609.2" r="0.81" fill="#b0f6ec"/><circle cx="435.0" cy="628.5" r="0.87" fill="#9cf2e4"/><circle cx="431.2" cy="609.4" r="0.82" fill="#72e4d4"/><circle cx="451.1" cy="628.8" r="0.77" fill="#b0f6ec"/><circle cx="427.1" cy="615.1" r="0.62" fill="#b0f6ec"/><circle cx="427.0" cy="631.9" r="0.58" fill="#b0f6ec"/><circle cx="433.7" cy="629.1" r="0.83" fill="#5fd8c8"/><circle cx="434.2" cy="630.4" r="0.87" fill="#72e4d4"/><circle cx="454.7" cy="624.9" r="0.68" fill="#5fd8c8"/><circle cx="452.3" cy="622.4" r="0.74" fill="#b0f6ec"/><circle cx="440.2" cy="623.8" r="0.71" fill="#b0f6ec"/><circle cx="451.6" cy="625.2" r="0.72" fill="#b0f6ec"/><circle cx="427.2" cy="622.4" r="0.99" fill="#9cf2e4"/><circle cx="446.0" cy="628.0" r="0.97" fill="#5fd8c8"/><circle cx="433.9" cy="620.2" r="0.95" fill="#b0f6ec"/><circle cx="434.2" cy="635.6" r="0.84" fill="#72e4d4"/><circle cx="452.6" cy="622.6" r="0.65" fill="#5fd8c8"/><circle cx="442.7" cy="633.7" r="0.76" fill="#b0f6ec"/><circle cx="438.0" cy="621.0" r="0.86" fill="#72e4d4"/><circle cx="436.1" cy="624.4" r="0.88" fill="#5fd8c8"/><circle cx="427.9" cy="626.5" r="0.59" fill="#9cf2e4"/><circle cx="452.7" cy="609.3" r="0.71" fill="#72e4d4"/><circle cx="434.7" cy="628.3" r="0.88" fill="#b0f6ec"/><circle cx="445.2" cy="615.4" r="0.98" fill="#9cf2e4"/><circle cx="431.2" cy="610.2" r="0.99" fill="#72e4d4"/><circle cx="453.6" cy="611.0" r="0.77" fill="#5fd8c8"/><circle cx="437.4" cy="608.4" r="0.83" fill="#b0f6ec"/><circle cx="447.5" cy="632.3" r="0.98" fill="#b0f6ec"/><circle cx="434.3" cy="630.8" r="0.81" fill="#b0f6ec"/><circle cx="451.4" cy="610.5" r="0.57" fill="#9cf2e4"/><circle cx="427.8" cy="608.4" r="0.99" fill="#5fd8c8"/><circle cx="431.1" cy="626.2" r="0.82" fill="#b0f6ec"/><circle cx="452.6" cy="632.0" r="0.77" fill="#5fd8c8"/><circle cx="434.2" cy="621.0" r="0.74" fill="#5fd8c8"/><circle cx="428.0" cy="633.3" r="0.87" fill="#b0f6ec"/><circle cx="456.8" cy="621.2" r="0.93" fill="#9cf2e4"/><circle cx="430.8" cy="623.9" r="0.92" fill="#5fd8c8"/><circle cx="435.4" cy="610.9" r="0.92" fill="#b0f6ec"/><circle cx="457.3" cy="631.8" r="0.87" fill="#72e4d4"/><circle cx="425.3" cy="619.2" r="0.76" fill="#b0f6ec"/><circle cx="431.9" cy="609.7" r="0.51" fill="#72e4d4"/><circle cx="442.8" cy="615.5" r="0.82" fill="#b0f6ec"/><circle cx="428.0" cy="625.4" r="0.82" fill="#b0f6ec"/><circle cx="447.7" cy="608.6" r="0.64" fill="#9cf2e4"/><circle cx="440.0" cy="620.3" r="0.75" fill="#72e4d4"/><circle cx="455.3" cy="631.9" r="0.86" fill="#b0f6ec"/><circle cx="428.5" cy="616.2" r="0.86" fill="#b0f6ec"/><circle cx="452.3" cy="626.8" r="0.87" fill="#b0f6ec"/><circle cx="451.2" cy="631.6" r="0.81" fill="#72e4d4"/><circle cx="447.5" cy="610.4" r="0.74" fill="#9cf2e4"/><circle cx="430.8" cy="625.0" r="0.55" fill="#b0f6ec"/><circle cx="456.1" cy="621.8" r="0.62" fill="#5fd8c8"/><circle cx="458.0" cy="618.0" r="0.63" fill="#9cf2e4"/><circle cx="429.9" cy="632.1" r="0.75" fill="#5fd8c8"/><circle cx="435.5" cy="611.2" r="0.61" fill="#9cf2e4"/><circle cx="440.5" cy="635.8" r="0.89" fill="#5fd8c8"/><circle cx="450.2" cy="623.6" r="0.95" fill="#5fd8c8"/><circle cx="448.0" cy="633.9" r="0.72" fill="#b0f6ec"/><circle cx="456.7" cy="629.2" r="0.99" fill="#5fd8c8"/><circle cx="452.0" cy="609.2" r="0.55" fill="#5fd8c8"/><circle cx="453.6" cy="633.5" r="0.58" fill="#72e4d4"/><circle cx="448.1" cy="629.3" r="0.75" fill="#5fd8c8"/><circle cx="429.2" cy="618.2" r="0.91" fill="#5fd8c8"/><circle cx="452.9" cy="620.3" r="0.71" fill="#5fd8c8"/><circle cx="432.3" cy="630.7" r="0.67" fill="#9cf2e4"/><circle cx="426.9" cy="618.4" r="0.88" fill="#72e4d4"/><circle cx="445.4" cy="614.9" r="0.88" fill="#b0f6ec"/><circle cx="450.8" cy="611.9" r="0.71" fill="#b0f6ec"/><circle cx="454.5" cy="634.7" r="0.76" fill="#72e4d4"/><circle cx="456.1" cy="620.4" r="0.89" fill="#5fd8c8"/><circle cx="426.9" cy="616.8" r="0.99" fill="#9cf2e4"/><circle cx="438.8" cy="619.0" r="0.52" fill="#9cf2e4"/><circle cx="454.7" cy="609.6" r="0.82" fill="#72e4d4"/><circle cx="438.3" cy="632.8" r="0.85" fill="#72e4d4"/><circle cx="448.5" cy="616.8" r="0.67" fill="#72e4d4"/><circle cx="454.6" cy="625.1" r="0.57" fill="#b0f6ec"/><circle cx="439.2" cy="613.7" r="0.77" fill="#b0f6ec"/><circle cx="447.7" cy="632.9" r="0.89" fill="#b0f6ec"/><circle cx="450.4" cy="632.7" r="0.54" fill="#72e4d4"/><circle cx="437.3" cy="628.1" r="0.94" fill="#72e4d4"/><circle cx="431.3" cy="622.3" r="0.66" fill="#72e4d4"/><circle cx="449.7" cy="612.5" r="0.51" fill="#72e4d4"/><circle cx="432.2" cy="629.7" r="0.86" fill="#5fd8c8"/><circle cx="448.9" cy="631.6" r="0.63" fill="#72e4d4"/><circle cx="428.2" cy="629.2" r="0.97" fill="#b0f6ec"/><circle cx="434.1" cy="628.6" r="0.73" fill="#9cf2e4"/><circle cx="451.4" cy="635.7" r="0.78" fill="#9cf2e4"/><circle cx="435.9" cy="616.0" r="0.89" fill="#9cf2e4"/><circle cx="448.3" cy="622.6" r="0.62" fill="#72e4d4"/><circle cx="441.6" cy="613.4" r="0.89" fill="#b0f6ec"/><circle cx="427.3" cy="627.9" r="0.91" fill="#5fd8c8"/><circle cx="427.1" cy="619.9" r="0.57" fill="#9cf2e4"/><circle cx="439.2" cy="618.3" r="0.76" fill="#b0f6ec"/><circle cx="453.6" cy="624.4" r="0.82" fill="#b0f6ec"/><circle cx="447.4" cy="634.5" r="0.87" fill="#b0f6ec"/><circle cx="452.0" cy="612.0" r="0.56" fill="#b0f6ec"/><circle cx="428.4" cy="627.7" r="0.93" fill="#5fd8c8"/><circle cx="447.6" cy="620.8" r="0.52" fill="#9cf2e4"/><circle cx="456.1" cy="618.3" r="0.98" fill="#b0f6ec"/><circle cx="427.8" cy="618.3" r="0.64" fill="#9cf2e4"/><circle cx="428.0" cy="616.5" r="0.69" fill="#72e4d4"/><circle cx="440.5" cy="630.2" r="0.57" fill="#b0f6ec"/><circle cx="425.7" cy="633.0" r="0.94" fill="#9cf2e4"/><circle cx="430.2" cy="628.7" r="0.50" fill="#72e4d4"/><circle cx="426.3" cy="609.3" r="0.74" fill="#72e4d4"/><circle cx="443.2" cy="633.2" r="0.89" fill="#b0f6ec"/><circle cx="452.4" cy="631.3" r="0.57" fill="#9cf2e4"/><circle cx="441.2" cy="620.9" r="0.72" fill="#b0f6ec"/><circle cx="429.1" cy="628.4" r="0.54" fill="#b0f6ec"/><circle cx="437.2" cy="633.2" r="0.67" fill="#5fd8c8"/><circle cx="456.6" cy="632.9" r="0.87" fill="#5fd8c8"/><circle cx="453.4" cy="627.8" r="0.79" fill="#72e4d4"/><circle cx="443.1" cy="611.5" r="0.78" fill="#9cf2e4"/><circle cx="456.5" cy="623.2" r="0.88" fill="#9cf2e4"/><circle cx="449.5" cy="622.1" r="0.51" fill="#9cf2e4"/><circle cx="456.7" cy="615.7" r="0.60" fill="#b0f6ec"/><circle cx="426.9" cy="622.9" r="0.66" fill="#5fd8c8"/><circle cx="440.7" cy="634.1" r="0.67" fill="#9cf2e4"/><circle cx="438.1" cy="632.1" r="0.66" fill="#72e4d4"/><circle cx="427.1" cy="635.4" r="0.77" fill="#72e4d4"/><circle cx="428.9" cy="615.2" r="0.54" fill="#72e4d4"/><circle cx="456.4" cy="627.0" r="0.53" fill="#72e4d4"/><circle cx="430.2" cy="628.0" r="0.65" fill="#5fd8c8"/><circle cx="434.9" cy="619.6" r="0.66" fill="#b0f6ec"/><circle cx="456.0" cy="633.2" r="0.53" fill="#9cf2e4"/><circle cx="449.6" cy="624.4" r="0.75" fill="#b0f6ec"/><circle cx="456.3" cy="615.5" r="0.66" fill="#b0f6ec"/><circle cx="426.2" cy="608.8" r="0.82" fill="#5fd8c8"/><circle cx="433.2" cy="635.0" r="0.84" fill="#9cf2e4"/><circle cx="449.9" cy="626.2" r="0.56" fill="#b0f6ec"/><circle cx="439.2" cy="631.7" r="0.75" fill="#9cf2e4"/><circle cx="436.7" cy="635.6" r="0.89" fill="#b0f6ec"/><circle cx="456.7" cy="623.5" r="0.52" fill="#b0f6ec"/><circle cx="456.7" cy="625.4" r="0.83" fill="#9cf2e4"/><circle cx="424.0" cy="634.1" r="0.74" fill="#72e4d4"/><circle cx="452.5" cy="618.6" r="0.68" fill="#9cf2e4"/><circle cx="443.9" cy="622.3" r="0.52" fill="#5fd8c8"/><circle cx="434.2" cy="619.1" r="0.56" fill="#9cf2e4"/><circle cx="448.7" cy="636.0" r="0.94" fill="#9cf2e4"/><circle cx="444.8" cy="634.8" r="0.66" fill="#72e4d4"/><circle cx="445.6" cy="635.4" r="0.85" fill="#72e4d4"/><circle cx="432.4" cy="635.5" r="0.67" fill="#b0f6ec"/><circle cx="456.6" cy="617.2" r="0.96" fill="#9cf2e4"/><circle cx="446.0" cy="608.1" r="0.74" fill="#5fd8c8"/><circle cx="446.9" cy="619.6" r="0.95" fill="#b0f6ec"/><circle cx="449.9" cy="623.1" r="0.89" fill="#5fd8c8"/><circle cx="442.3" cy="633.0" r="0.91" fill="#b0f6ec"/><circle cx="446.9" cy="617.9" r="0.91" fill="#72e4d4"/><circle cx="437.1" cy="631.5" r="0.91" fill="#5fd8c8"/><circle cx="428.2" cy="618.4" r="0.60" fill="#5fd8c8"/><circle cx="431.5" cy="608.6" r="0.64" fill="#72e4d4"/><circle cx="430.5" cy="630.9" r="0.81" fill="#9cf2e4"/><circle cx="432.0" cy="621.8" r="0.68" fill="#72e4d4"/><circle cx="440.8" cy="627.7" r="0.80" fill="#5fd8c8"/><circle cx="430.7" cy="631.0" r="0.70" fill="#72e4d4"/><circle cx="443.3" cy="621.8" r="0.78" fill="#9cf2e4"/><circle cx="426.2" cy="611.6" r="0.53" fill="#72e4d4"/><circle cx="455.7" cy="632.0" r="0.94" fill="#72e4d4"/><circle cx="430.5" cy="627.0" r="1.00" fill="#72e4d4"/><circle cx="447.1" cy="632.7" r="0.50" fill="#b0f6ec"/><circle cx="445.8" cy="634.4" r="0.53" fill="#72e4d4"/><circle cx="438.7" cy="635.9" r="0.64" fill="#b0f6ec"/><circle cx="440.8" cy="622.5" r="0.52" fill="#9cf2e4"/><circle cx="425.6" cy="633.7" r="0.77" fill="#72e4d4"/><circle cx="424.2" cy="613.4" r="0.54" fill="#5fd8c8"/><circle cx="457.7" cy="614.3" r="0.84" fill="#5fd8c8"/><circle cx="455.2" cy="613.5" r="0.66" fill="#5fd8c8"/><circle cx="445.3" cy="610.7" r="0.74" fill="#5fd8c8"/><circle cx="444.1" cy="625.5" r="0.67" fill="#72e4d4"/><circle cx="432.4" cy="621.3" r="0.98" fill="#5fd8c8"/><circle cx="451.9" cy="622.6" r="0.62" fill="#5fd8c8"/><circle cx="450.4" cy="625.3" r="0.88" fill="#b0f6ec"/><circle cx="443.7" cy="610.4" r="0.53" fill="#5fd8c8"/><circle cx="436.8" cy="632.9" r="0.85" fill="#9cf2e4"/><circle cx="426.1" cy="630.5" r="0.53" fill="#b0f6ec"/><circle cx="426.2" cy="627.0" r="0.78" fill="#72e4d4"/><circle cx="452.9" cy="619.2" r="0.81" fill="#b0f6ec"/><circle cx="431.9" cy="624.8" r="0.83" fill="#5fd8c8"/><circle cx="439.4" cy="621.0" r="0.71" fill="#5fd8c8"/><circle cx="435.5" cy="634.3" r="0.89" fill="#b0f6ec"/><circle cx="441.6" cy="624.5" r="0.55" fill="#5fd8c8"/><circle cx="444.2" cy="609.9" r="0.89" fill="#9cf2e4"/><circle cx="454.7" cy="611.5" r="0.75" fill="#72e4d4"/><circle cx="438.3" cy="628.3" r="0.72" fill="#9cf2e4"/><circle cx="428.7" cy="609.2" r="0.56" fill="#b0f6ec"/><circle cx="441.4" cy="626.2" r="0.68" fill="#9cf2e4"/><circle cx="429.0" cy="616.6" r="0.67" fill="#72e4d4"/><circle cx="457.0" cy="622.5" r="0.83" fill="#9cf2e4"/><circle cx="425.9" cy="622.2" r="0.92" fill="#5fd8c8"/></g>
<path d="M430.0 628.0 L452.0 622.0" stroke="#3fcab8" stroke-width="0.5" opacity="0.7"/>
<path d="M431.5 625.0 L451.5 619.5" stroke="#3fcab8" stroke-width="0.5" opacity="0.7"/>
<path d="M433.0 622.0 L451.0 617.0" stroke="#3fcab8" stroke-width="0.5" opacity="0.7"/>
<path d="M434.5 619.0 L450.5 614.5" stroke="#3fcab8" stroke-width="0.5" opacity="0.7"/>
<path d="M436.0 616.0 L450.0 612.0" stroke="#3fcab8" stroke-width="0.5" opacity="0.7"/>
<g opacity="0.85"><circle cx="433.9" cy="634.2" r="0.81" fill="#6fe6d2"/><circle cx="434.7" cy="633.0" r="1.07" fill="#5fdcc8"/><circle cx="434.2" cy="633.7" r="1.02" fill="#9af4e6"/><circle cx="434.1" cy="633.5" r="0.79" fill="#5fdcc8"/><circle cx="436.9" cy="632.9" r="0.97" fill="#7eeedc"/><circle cx="434.4" cy="633.3" r="0.96" fill="#6fe6d2"/><circle cx="435.9" cy="636.4" r="1.22" fill="#9af4e6"/><circle cx="436.1" cy="633.8" r="0.92" fill="#7eeedc"/><circle cx="435.9" cy="635.3" r="0.72" fill="#7eeedc"/><circle cx="436.9" cy="635.8" r="1.05" fill="#9af4e6"/><circle cx="436.9" cy="635.4" r="0.81" fill="#6fe6d2"/><circle cx="436.8" cy="636.0" r="0.80" fill="#6fe6d2"/><circle cx="437.1" cy="635.7" r="1.16" fill="#7eeedc"/><circle cx="438.5" cy="635.8" r="0.91" fill="#7eeedc"/><circle cx="437.1" cy="636.4" r="0.95" fill="#9af4e6"/><circle cx="438.0" cy="634.5" r="1.22" fill="#5fdcc8"/><circle cx="438.2" cy="635.9" r="0.78" fill="#6fe6d2"/><circle cx="438.1" cy="635.5" r="0.91" fill="#9af4e6"/><circle cx="437.9" cy="637.4" r="1.05" fill="#7eeedc"/><circle cx="438.4" cy="635.1" r="1.17" fill="#9af4e6"/><circle cx="439.0" cy="635.8" r="0.73" fill="#9af4e6"/><circle cx="440.1" cy="635.3" r="1.23" fill="#5fdcc8"/><circle cx="439.3" cy="637.3" r="0.96" fill="#7eeedc"/><circle cx="439.6" cy="637.8" r="1.19" fill="#9af4e6"/><circle cx="438.5" cy="637.2" r="0.88" fill="#9af4e6"/><circle cx="438.4" cy="637.0" r="1.23" fill="#5fdcc8"/><circle cx="439.9" cy="638.5" r="1.21" fill="#7eeedc"/><circle cx="440.6" cy="639.5" r="0.95" fill="#6fe6d2"/><circle cx="439.8" cy="638.3" r="1.19" fill="#6fe6d2"/><circle cx="441.4" cy="637.4" r="1.00" fill="#6fe6d2"/><circle cx="440.9" cy="637.2" r="0.99" fill="#6fe6d2"/><circle cx="440.0" cy="637.5" r="1.04" fill="#5fdcc8"/><circle cx="440.4" cy="638.6" r="0.90" fill="#5fdcc8"/><circle cx="441.0" cy="639.2" r="0.80" fill="#6fe6d2"/><circle cx="441.8" cy="639.0" r="1.20" fill="#9af4e6"/><circle cx="442.5" cy="637.6" r="1.05" fill="#9af4e6"/><circle cx="442.7" cy="638.6" r="0.74" fill="#7eeedc"/><circle cx="441.4" cy="638.6" r="1.07" fill="#9af4e6"/><circle cx="442.2" cy="640.9" r="1.08" fill="#9af4e6"/><circle cx="443.3" cy="640.4" r="0.78" fill="#9af4e6"/><circle cx="444.1" cy="639.4" r="1.15" fill="#5fdcc8"/><circle cx="445.0" cy="638.8" r="1.12" fill="#7eeedc"/><circle cx="442.5" cy="639.9" r="1.12" fill="#6fe6d2"/><circle cx="444.2" cy="639.1" r="1.10" fill="#6fe6d2"/><circle cx="443.0" cy="640.1" r="1.13" fill="#5fdcc8"/><circle cx="444.0" cy="638.8" r="1.14" fill="#9af4e6"/><circle cx="445.2" cy="639.3" r="1.22" fill="#5fdcc8"/><circle cx="444.9" cy="641.3" r="1.01" fill="#9af4e6"/><circle cx="446.4" cy="642.0" r="0.87" fill="#7eeedc"/><circle cx="443.6" cy="640.5" r="0.90" fill="#6fe6d2"/><circle cx="444.2" cy="641.5" r="0.92" fill="#9af4e6"/><circle cx="445.4" cy="640.9" r="1.13" fill="#6fe6d2"/><circle cx="447.4" cy="643.0" r="0.88" fill="#5fdcc8"/><circle cx="446.7" cy="640.9" r="0.91" fill="#5fdcc8"/><circle cx="446.6" cy="641.7" r="1.01" fill="#5fdcc8"/><circle cx="445.9" cy="640.6" r="0.79" fill="#6fe6d2"/><circle cx="448.4" cy="641.9" r="0.97" fill="#6fe6d2"/><circle cx="447.6" cy="643.6" r="0.91" fill="#6fe6d2"/><circle cx="447.5" cy="643.3" r="0.74" fill="#7eeedc"/><circle cx="447.3" cy="641.9" r="0.88" fill="#5fdcc8"/><circle cx="445.5" cy="644.0" r="0.77" fill="#5fdcc8"/><circle cx="447.4" cy="642.1" r="1.23" fill="#6fe6d2"/><circle cx="448.7" cy="642.9" r="0.94" fill="#5fdcc8"/><circle cx="449.0" cy="643.5" r="0.87" fill="#6fe6d2"/><circle cx="447.2" cy="642.6" r="0.85" fill="#7eeedc"/><circle cx="449.8" cy="642.6" r="1.15" fill="#6fe6d2"/><circle cx="447.0" cy="642.6" r="1.18" fill="#5fdcc8"/><circle cx="448.9" cy="643.0" r="0.75" fill="#5fdcc8"/><circle cx="448.5" cy="644.8" r="1.14" fill="#5fdcc8"/><circle cx="448.3" cy="642.0" r="0.80" fill="#6fe6d2"/><circle cx="450.7" cy="644.7" r="0.94" fill="#5fdcc8"/><circle cx="450.6" cy="643.1" r="1.01" fill="#5fdcc8"/><circle cx="450.5" cy="643.4" r="1.19" fill="#6fe6d2"/><circle cx="450.3" cy="645.1" r="0.86" fill="#7eeedc"/><circle cx="450.5" cy="642.5" r="0.82" fill="#5fdcc8"/><circle cx="449.6" cy="644.9" r="0.77" fill="#9af4e6"/><circle cx="451.8" cy="644.5" r="1.12" fill="#9af4e6"/><circle cx="450.9" cy="644.6" r="0.81" fill="#7eeedc"/><circle cx="451.4" cy="644.7" r="1.08" fill="#5fdcc8"/><circle cx="450.6" cy="645.8" r="1.17" fill="#5fdcc8"/><circle cx="452.9" cy="645.1" r="1.09" fill="#6fe6d2"/><circle cx="451.4" cy="646.4" r="0.97" fill="#7eeedc"/><circle cx="453.9" cy="646.0" r="1.09" fill="#5fdcc8"/><circle cx="453.8" cy="646.7" r="1.16" fill="#6fe6d2"/><circle cx="453.7" cy="644.4" r="0.80" fill="#7eeedc"/><circle cx="452.0" cy="645.4" r="0.74" fill="#7eeedc"/><circle cx="453.1" cy="645.4" r="0.90" fill="#6fe6d2"/><circle cx="452.9" cy="643.8" r="0.99" fill="#5fdcc8"/><circle cx="453.2" cy="644.4" r="1.15" fill="#7eeedc"/><circle cx="453.1" cy="646.7" r="0.73" fill="#7eeedc"/><circle cx="454.3" cy="646.8" r="0.81" fill="#6fe6d2"/><circle cx="452.8" cy="647.0" r="0.75" fill="#5fdcc8"/><circle cx="453.0" cy="646.8" r="1.15" fill="#7eeedc"/><circle cx="453.2" cy="648.8" r="1.14" fill="#6fe6d2"/><circle cx="452.3" cy="646.8" r="0.98" fill="#9af4e6"/><circle cx="451.8" cy="648.3" r="1.04" fill="#5fdcc8"/><circle cx="452.4" cy="647.2" r="0.82" fill="#9af4e6"/><circle cx="451.8" cy="647.5" r="1.06" fill="#7eeedc"/><circle cx="450.6" cy="648.3" r="0.74" fill="#9af4e6"/><circle cx="450.9" cy="646.9" r="0.74" fill="#6fe6d2"/><circle cx="449.5" cy="648.8" r="0.97" fill="#7eeedc"/><circle cx="450.5" cy="646.2" r="1.21" fill="#6fe6d2"/><circle cx="450.5" cy="648.7" r="0.88" fill="#5fdcc8"/><circle cx="449.3" cy="645.8" r="1.08" fill="#9af4e6"/><circle cx="450.8" cy="650.0" r="1.08" fill="#5fdcc8"/><circle cx="450.2" cy="648.6" r="1.20" fill="#5fdcc8"/><circle cx="448.4" cy="649.5" r="0.83" fill="#7eeedc"/><circle cx="449.6" cy="649.9" r="1.19" fill="#9af4e6"/><circle cx="449.0" cy="649.7" r="0.83" fill="#7eeedc"/><circle cx="449.8" cy="649.0" r="0.86" fill="#6fe6d2"/><circle cx="447.4" cy="649.7" r="0.83" fill="#5fdcc8"/><circle cx="448.3" cy="647.8" r="0.85" fill="#7eeedc"/><circle cx="445.1" cy="648.3" r="1.06" fill="#9af4e6"/><circle cx="447.9" cy="648.0" r="1.10" fill="#9af4e6"/><circle cx="447.4" cy="650.0" r="1.20" fill="#6fe6d2"/><circle cx="447.8" cy="647.3" r="0.82" fill="#5fdcc8"/><circle cx="446.2" cy="648.7" r="1.05" fill="#7eeedc"/><circle cx="447.1" cy="648.5" r="0.81" fill="#6fe6d2"/><circle cx="446.8" cy="648.7" r="0.80" fill="#6fe6d2"/><circle cx="446.4" cy="649.3" r="1.10" fill="#9af4e6"/><circle cx="446.2" cy="649.7" r="0.93" fill="#6fe6d2"/><circle cx="445.4" cy="650.3" r="1.23" fill="#6fe6d2"/><circle cx="445.1" cy="651.0" r="0.74" fill="#9af4e6"/><circle cx="444.9" cy="649.6" r="0.94" fill="#5fdcc8"/><circle cx="445.0" cy="647.5" r="1.14" fill="#7eeedc"/><circle cx="444.9" cy="648.3" r="0.75" fill="#9af4e6"/><circle cx="443.9" cy="649.2" r="1.10" fill="#9af4e6"/><circle cx="443.8" cy="650.1" r="0.86" fill="#5fdcc8"/><circle cx="444.4" cy="649.9" r="0.96" fill="#6fe6d2"/><circle cx="444.0" cy="649.6" r="1.17" fill="#9af4e6"/><circle cx="441.1" cy="649.9" r="1.22" fill="#9af4e6"/><circle cx="442.8" cy="650.4" r="1.24" fill="#7eeedc"/><circle cx="442.7" cy="650.1" r="1.21" fill="#5fdcc8"/><circle cx="443.5" cy="649.7" r="1.12" fill="#9af4e6"/><circle cx="442.7" cy="648.4" r="0.89" fill="#5fdcc8"/><circle cx="441.8" cy="649.4" r="0.73" fill="#5fdcc8"/><circle cx="443.4" cy="649.5" r="0.83" fill="#7eeedc"/><circle cx="442.8" cy="649.8" r="1.09" fill="#7eeedc"/><circle cx="441.0" cy="649.0" r="0.84" fill="#5fdcc8"/><circle cx="442.0" cy="650.2" r="0.84" fill="#6fe6d2"/><circle cx="442.7" cy="650.6" r="1.05" fill="#5fdcc8"/><circle cx="439.9" cy="651.3" r="1.20" fill="#6fe6d2"/><circle cx="441.0" cy="650.3" r="0.93" fill="#9af4e6"/><circle cx="439.3" cy="650.7" r="1.19" fill="#9af4e6"/><circle cx="439.9" cy="649.2" r="1.21" fill="#7eeedc"/><circle cx="441.1" cy="651.7" r="1.14" fill="#6fe6d2"/><circle cx="439.5" cy="651.7" r="1.11" fill="#9af4e6"/><circle cx="440.2" cy="651.1" r="0.97" fill="#7eeedc"/><circle cx="440.5" cy="651.9" r="0.99" fill="#9af4e6"/><circle cx="439.1" cy="650.6" r="0.91" fill="#6fe6d2"/><circle cx="438.9" cy="652.0" r="1.22" fill="#5fdcc8"/><circle cx="438.0" cy="651.1" r="0.81" fill="#6fe6d2"/><circle cx="438.4" cy="651.0" r="1.24" fill="#5fdcc8"/><circle cx="436.1" cy="652.4" r="0.76" fill="#6fe6d2"/><circle cx="438.1" cy="652.0" r="0.77" fill="#7eeedc"/><circle cx="437.0" cy="652.9" r="0.96" fill="#7eeedc"/><circle cx="438.0" cy="652.0" r="1.23" fill="#7eeedc"/><circle cx="438.2" cy="652.6" r="0.70" fill="#9af4e6"/><circle cx="437.8" cy="651.7" r="0.89" fill="#5fdcc8"/><circle cx="436.0" cy="653.4" r="0.89" fill="#9af4e6"/><circle cx="437.3" cy="650.1" r="1.07" fill="#5fdcc8"/><circle cx="434.2" cy="650.6" r="1.18" fill="#7eeedc"/><circle cx="437.8" cy="652.3" r="0.92" fill="#6fe6d2"/><circle cx="436.3" cy="652.4" r="0.99" fill="#6fe6d2"/><circle cx="434.3" cy="653.3" r="1.06" fill="#5fdcc8"/><circle cx="433.8" cy="652.2" r="0.70" fill="#9af4e6"/><circle cx="435.7" cy="652.4" r="0.73" fill="#9af4e6"/><circle cx="434.4" cy="651.6" r="0.97" fill="#7eeedc"/><circle cx="432.8" cy="654.2" r="1.22" fill="#5fdcc8"/><circle cx="436.2" cy="652.1" r="1.20" fill="#5fdcc8"/><circle cx="433.5" cy="652.9" r="0.78" fill="#7eeedc"/><circle cx="434.9" cy="653.6" r="0.87" fill="#5fdcc8"/><circle cx="433.7" cy="653.2" r="0.76" fill="#6fe6d2"/><circle cx="433.2" cy="652.9" r="1.22" fill="#7eeedc"/><circle cx="435.1" cy="654.2" r="0.72" fill="#9af4e6"/><circle cx="434.0" cy="651.3" r="0.82" fill="#9af4e6"/><circle cx="430.9" cy="650.2" r="1.07" fill="#6fe6d2"/><circle cx="433.4" cy="651.6" r="0.97" fill="#9af4e6"/><circle cx="433.2" cy="650.6" r="1.12" fill="#7eeedc"/><circle cx="431.0" cy="651.5" r="1.09" fill="#5fdcc8"/><circle cx="430.1" cy="650.9" r="1.23" fill="#5fdcc8"/><circle cx="431.3" cy="651.6" r="0.76" fill="#7eeedc"/><circle cx="431.2" cy="652.9" r="1.03" fill="#6fe6d2"/><circle cx="430.5" cy="651.8" r="0.90" fill="#9af4e6"/><circle cx="431.3" cy="651.9" r="0.70" fill="#7eeedc"/><circle cx="429.5" cy="652.0" r="0.91" fill="#5fdcc8"/><circle cx="429.1" cy="653.2" r="1.07" fill="#6fe6d2"/><circle cx="428.1" cy="652.1" r="0.82" fill="#5fdcc8"/><circle cx="430.9" cy="652.4" r="0.87" fill="#9af4e6"/><circle cx="429.6" cy="651.3" r="0.95" fill="#9af4e6"/><circle cx="429.3" cy="653.5" r="1.14" fill="#7eeedc"/><circle cx="427.7" cy="651.8" r="1.24" fill="#7eeedc"/><circle cx="427.6" cy="654.2" r="1.02" fill="#6fe6d2"/><circle cx="426.3" cy="652.3" r="0.91" fill="#9af4e6"/><circle cx="428.3" cy="653.6" r="1.17" fill="#6fe6d2"/><circle cx="427.2" cy="652.0" r="1.18" fill="#6fe6d2"/><circle cx="427.8" cy="651.0" r="0.86" fill="#6fe6d2"/><circle cx="428.1" cy="652.2" r="0.89" fill="#5fdcc8"/><circle cx="428.0" cy="652.2" r="0.92" fill="#9af4e6"/><circle cx="425.8" cy="654.5" r="1.09" fill="#5fdcc8"/><circle cx="426.5" cy="652.8" r="1.14" fill="#7eeedc"/><circle cx="426.7" cy="651.0" r="0.95" fill="#6fe6d2"/><circle cx="424.3" cy="651.8" r="0.97" fill="#6fe6d2"/><circle cx="425.7" cy="654.0" r="0.81" fill="#7eeedc"/><circle cx="423.4" cy="653.8" r="0.76" fill="#6fe6d2"/><circle cx="422.7" cy="654.3" r="1.07" fill="#6fe6d2"/><circle cx="424.6" cy="652.1" r="1.24" fill="#6fe6d2"/><circle cx="424.6" cy="652.1" r="0.98" fill="#9af4e6"/><circle cx="421.4" cy="650.8" r="1.04" fill="#5fdcc8"/><circle cx="423.6" cy="652.8" r="0.92" fill="#9af4e6"/><circle cx="422.2" cy="650.0" r="1.06" fill="#5fdcc8"/><circle cx="423.6" cy="649.3" r="1.07" fill="#7eeedc"/><circle cx="423.0" cy="650.6" r="1.06" fill="#9af4e6"/><circle cx="421.9" cy="651.7" r="0.71" fill="#7eeedc"/><circle cx="423.2" cy="653.4" r="1.07" fill="#6fe6d2"/><circle cx="423.5" cy="653.0" r="1.01" fill="#9af4e6"/><circle cx="421.6" cy="652.6" r="1.03" fill="#5fdcc8"/><circle cx="420.3" cy="653.2" r="0.94" fill="#6fe6d2"/><circle cx="421.6" cy="653.5" r="1.20" fill="#6fe6d2"/><circle cx="420.0" cy="654.1" r="0.92" fill="#5fdcc8"/><circle cx="422.6" cy="654.3" r="1.00" fill="#7eeedc"/><circle cx="420.8" cy="652.8" r="1.06" fill="#7eeedc"/><circle cx="420.9" cy="655.0" r="0.80" fill="#5fdcc8"/><circle cx="420.5" cy="653.3" r="0.77" fill="#6fe6d2"/><circle cx="419.7" cy="653.7" r="0.84" fill="#7eeedc"/><circle cx="420.4" cy="654.3" r="0.86" fill="#6fe6d2"/><circle cx="417.3" cy="655.4" r="0.70" fill="#9af4e6"/><circle cx="421.8" cy="654.9" r="1.20" fill="#9af4e6"/><circle cx="418.4" cy="653.6" r="1.02" fill="#9af4e6"/><circle cx="416.1" cy="654.1" r="0.89" fill="#6fe6d2"/><circle cx="418.0" cy="653.4" r="0.72" fill="#7eeedc"/><circle cx="418.9" cy="655.6" r="1.16" fill="#6fe6d2"/><circle cx="417.5" cy="654.6" r="0.90" fill="#6fe6d2"/><circle cx="417.9" cy="654.0" r="1.00" fill="#9af4e6"/><circle cx="416.0" cy="656.8" r="0.92" fill="#7eeedc"/><circle cx="419.0" cy="654.8" r="1.22" fill="#6fe6d2"/><circle cx="416.8" cy="655.5" r="1.10" fill="#6fe6d2"/><circle cx="416.9" cy="654.3" r="1.06" fill="#6fe6d2"/><circle cx="416.2" cy="656.2" r="1.25" fill="#5fdcc8"/><circle cx="414.8" cy="657.7" r="0.84" fill="#9af4e6"/><circle cx="416.6" cy="656.5" r="1.00" fill="#7eeedc"/><circle cx="416.0" cy="656.5" r="1.20" fill="#9af4e6"/><circle cx="416.8" cy="657.8" r="0.85" fill="#7eeedc"/><circle cx="413.9" cy="658.3" r="0.91" fill="#7eeedc"/><circle cx="415.4" cy="656.2" r="0.99" fill="#9af4e6"/><circle cx="413.8" cy="655.7" r="0.75" fill="#9af4e6"/></g>
<rect x="425.3" y="595.8" width="33.4" height="37.4" fill="none" stroke="#333" stroke-width="0.6" stroke-dasharray="1.5,1"/>
<line x1="458.70" y1="595.80" x2="511.40" y2="565.60" stroke="#444" stroke-width="0.6"/>
<line x1="458.70" y1="633.20" x2="511.40" y2="659.30" stroke="#444" stroke-width="0.6"/>
<rect x="511.4" y="565.5" width="100.2" height="94" fill="none" stroke="#666" stroke-width="0.7" stroke-dasharray="0.8,0.8"/>
<clipPath id="ins"><rect x="511.8" y="565.9" width="99.4" height="93.2"/></clipPath><g clip-path="url(#ins)">
<path d="M512 590 C515 586 518 588 519 584 C521 580 524 583 526 579 C528 575 526 571 529 569" fill="none" stroke="#b3b6ea" stroke-width="0.55"/>
<path d="M519 585 C522 590 525 592 528 596 C530 600 532 604 530 608" fill="none" stroke="#b3b6ea" stroke-width="0.55"/>
<path d="M512 602 C516 606 514 612 518 616 C520 622 516 626 520 630" fill="none" stroke="#b3b6ea" stroke-width="0.55"/>
<path d="M528 569 C532 572 536 570 538 566" fill="none" stroke="#b3b6ea" stroke-width="0.5"/>
<path d="M548 580 C552 586 550 592 554 596 C556 600 552 604 555 608" fill="none" stroke="#b3b6ea" stroke-width="0.5"/>
<path d="M556 568 C562 576 570 574 578 576 C586 578 594 576 602 578 C606 576 610 574 611 576" fill="none" stroke="#b3b6ea" stroke-width="0.55"/>
<path d="M598 568 C602 571 606 567 610 570" fill="none" stroke="#b3b6ea" stroke-width="0.5"/>
<path d="M515 625 C520 628 524 632 522 638" fill="none" stroke="#b3b6ea" stroke-width="0.5"/>
<path d="M512 582 C516 584 520 580 524 582 C528 578 530 574 534 576 C538 572 542 574 546 570" fill="none" stroke="#74e6d6" stroke-width="0.5"/>
<path d="M546 570 C550 574 554 572 556 578 C560 582 564 580 566 586" fill="none" stroke="#74e6d6" stroke-width="0.5"/>
<path d="M560 575 C566 582 570 588 572 593 C570 600 568 604 567 609 C566 614 564 618 562 624 C564 630 566 634 567 638 C564 641 562 642 560 643" fill="none" stroke="#74e6d6" stroke-width="0.55"/>
<path d="M584 575 C586 582 590 588 589 593 C590 598 592 602 592 607 C588 606 584 606 582 604 C578 603 576 602 574 602 C572 604 570 604 568 606" fill="none" stroke="#74e6d6" stroke-width="0.55"/>
<path d="M572 593 C576 596 580 594 582 598" fill="none" stroke="#74e6d6" stroke-width="0.45"/>
<path d="M540 612 C546 614 552 612 556 618 C560 622 558 628 562 630" fill="none" stroke="#74e6d6" stroke-width="0.45"/>
<path d="M555 636 C560 640 562 646 566 650" fill="none" stroke="#74e6d6" stroke-width="0.45"/>
<path d="M558.0 580.0 L558.8 581.2 L558.9 582.8 L558.5 584.2 L557.6 585.2 L556.8 586.3 L555.7 586.7 L554.7 586.9 L554.1 588.2 L553.5 589.6 L554.2 591.0 L553.7 592.4 L552.7 592.7 L551.7 593.5 L551.0 594.8 L550.0 595.4 L549.3 596.7 L549.6 598.2 L550.5 599.3 L551.7 600.0 L552.7 601.0 L552.5 602.5 L553.2 603.9 L552.6 605.2 L551.9 606.5 L550.9 606.7 L550.4 606.2 L549.4 606.5 L548.5 606.4 L547.5 607.3 L547.8 608.8 L548.3 610.3 L548.0 611.8 L547.6 613.2 L548.0 614.7 L547.4 616.1 L546.4 616.5 L545.6 617.6 L544.8 618.8 L543.9 619.7 L543.0 619.5 L542.0 620.3 L541.0 620.9 L540.5 620.4 L540.2 619.8 L540.6 619.2 L541.6 619.1 L542.6 619.0 L543.2 618.5 L544.0 618.1 L544.8 617.8 L545.3 617.2 L546.4 617.4 L547.3 617.2 L548.3 617.0 L549.4 617.5 L550.2 618.7 L549.9 620.2 L549.3 621.5 L549.3 623.1 L548.5 624.2" fill="none" stroke="#74e6d6" stroke-width="0.45" stroke-linejoin="round"/>
<path d="M575.0 585.0 L574.1 585.6 L573.7 585.0 L574.4 584.3 L575.0 583.6 L575.9 583.1 L576.2 582.4 L575.7 581.8 L574.9 581.7 L574.4 581.2 L573.5 581.4 L573.4 580.6 L572.5 580.7 L571.8 581.6 L572.1 583.0 L571.7 584.2 L571.6 585.5 L571.6 586.9 L572.0 588.3 L572.1 589.7 L572.5 591.1 L573.6 592.0 L574.7 592.8 L576.0 593.1 L576.8 592.5 L578.1 592.6 L579.3 593.1 L580.4 594.2 L580.4 595.5 L580.8 596.9 L581.5 598.2 L582.4 599.4 L583.5 600.4 L584.2 601.6 L585.4 601.7 L586.7 601.7 L588.0 601.8 L589.1 601.5 L589.0 600.7 L589.5 600.0 L588.8 599.7 L588.1 599.3 L587.3 599.7 L587.3 601.1 L588.1 602.3 L589.4 602.4 L590.1 601.7 L591.2 601.4 L592.5 601.6 L593.7 601.5 L595.0 601.8" fill="none" stroke="#74e6d6" stroke-width="0.45" stroke-linejoin="round"/>
<path d="M590.0 578.0 L590.3 579.4 L591.3 580.2 L591.9 581.5 L592.2 582.9 L592.9 584.2 L593.2 585.6 L593.4 587.1 L594.4 587.7 L595.4 588.4 L596.3 589.4 L597.1 590.5 L597.0 592.0 L596.3 593.3 L595.9 594.7 L596.2 596.1 L597.2 596.8 L597.7 598.1 L597.7 599.6 L597.4 601.1 L597.2 602.6 L597.1 604.1 L597.6 605.4 L598.2 606.7 L599.2 607.2 L600.2 608.1 L600.9 609.2 L601.3 610.7 L602.1 611.6 L603.1 611.5 L603.6 611.0 L604.6 610.9 L605.5 610.8 L606.5 611.5 L607.6 611.9 L608.6 612.0 L609.3 613.3 L610.4 613.6 L611.1 613.2 L612.0 613.0 L613.0 613.2 L613.9 613.1 L614.9 613.3 L615.9 613.2 L617.0 613.6 L617.5 615.0" fill="none" stroke="#74e6d6" stroke-width="0.45" stroke-linejoin="round"/>
<path d="M548.0 600.0 L549.3 600.1 L550.5 600.8 L551.4 602.0 L552.6 602.6 L553.5 602.1 L554.6 601.7 L554.7 601.0 L554.6 600.3 L555.4 599.8 L556.7 600.2 L557.6 599.7 L557.3 599.0 L556.5 599.0 L556.3 598.3 L555.4 598.6 L554.8 599.7 L555.2 601.1 L556.4 601.9 L557.5 602.8 L558.8 602.8 L559.9 602.6 L561.2 603.0 L562.3 604.0 L563.5 604.8 L564.1 606.2 L564.6 607.6 L564.1 608.8 L564.3 610.3 L564.9 611.7 L565.3 613.1 L564.6 614.0 L563.7 614.7 L562.9 615.4 L562.5 616.6 L562.6 618.1 L563.5 619.3 L563.2 620.5 L562.3 620.9 L561.9 620.3 L561.6 619.7" fill="none" stroke="#74e6d6" stroke-width="0.45" stroke-linejoin="round"/>
<path d="M566.0 610.0 L566.8 611.2 L567.1 612.8 L568.0 613.9 L569.1 614.6 L569.9 615.8 L570.0 617.4 L571.0 618.2 L571.9 618.1 L573.0 619.0 L573.9 618.9 L575.0 619.3 L575.9 619.1 L576.9 619.4 L577.8 620.6 L578.4 622.0 L579.3 623.1 L580.4 623.8 L581.4 624.9 L582.1 626.2 L583.0 627.3 L584.0 628.3 L584.9 629.4 L586.0 629.9 L586.7 629.6 L587.6 629.4 L587.4 628.8 L587.5 628.2 L588.4 628.0 L589.4 628.7 L590.4 628.7 L591.3 628.5 L592.3 629.4 L593.4 630.0 L593.7 631.5 L594.6 632.6 L594.8 634.1 L595.9 634.9 L596.8 636.0 L596.9 637.6 L596.9 639.2 L596.6 640.8 L595.5 641.4 L595.0 640.9 L594.0 641.1 L592.9 641.2" fill="none" stroke="#74e6d6" stroke-width="0.45" stroke-linejoin="round"/>
<path d="M530.0 590.0 L530.7 589.2 L532.0 589.0 L533.1 589.9 L534.5 590.4 L535.4 591.5 L536.6 592.3 L538.0 592.2 L539.1 591.6 L540.5 591.8 L541.4 591.0 L542.7 590.7 L543.6 590.0 L543.6 589.1 L543.5 588.3 L543.0 587.7 L542.5 587.1 L543.0 586.2 L544.4 586.1 L545.2 585.4 L546.6 585.8 L547.8 586.6 L548.0 587.9 L547.3 588.7 L546.7 589.4 L546.6 590.6 L545.8 590.9 L545.7 590.0 L546.0 589.1 L545.4 588.7 L545.5 587.9" fill="none" stroke="#74e6d6" stroke-width="0.45" stroke-linejoin="round"/>
<path d="M600.0 590.0 L600.8 589.5 L600.3 588.8 L601.0 588.3 L602.1 588.5 L602.5 587.8 L603.5 587.7 L604.5 588.4 L605.5 588.2 L606.3 589.3 L607.3 590.1 L608.3 590.7 L609.1 591.8 L609.5 593.1 L609.2 594.5 L609.5 595.8 L609.9 597.1 L611.0 597.8 L612.0 597.7 L613.1 597.7 L613.2 596.9 L613.0 596.1 L613.6 595.5 L613.3 594.8 L612.8 594.1 L611.7 594.4 L610.8 594.2 L609.8 595.0 L609.5 596.3 L608.7 597.3 L607.9 598.4" fill="none" stroke="#74e6d6" stroke-width="0.45" stroke-linejoin="round"/>
<path d="M514.0 575.0 L515.1 575.0 L516.3 575.6 L517.1 575.2 L518.3 575.8 L519.3 575.7 L519.2 575.2 L518.8 574.6 L517.9 574.8 L517.3 576.2 L517.4 577.8 L517.6 579.4 L518.5 580.6 L518.5 582.2 L519.1 583.7 L519.1 585.3 L519.6 586.8 L520.8 587.6 L522.0 588.1 L523.0 589.2 L524.1 590.2 L524.9 591.5 L526.1 591.9 L526.7 591.4 L526.4 590.9 L526.0 590.4 L526.6 589.9 L526.8 589.4 L527.8 589.3 L527.9 588.7 L527.3 588.3 L527.1 587.8 L527.7 587.3 L528.8 587.4 L529.2 586.9 L529.8 586.4 L529.6 585.8 L530.1 585.3 L530.8 584.9 L531.9 584.8 L533.0 585.6" fill="none" stroke="#b3b6ea" stroke-width="0.5" stroke-linejoin="round"/>
<path d="M520.0 600.0 L521.1 600.5 L521.5 599.9 L521.2 599.4 L521.6 598.8 L522.5 598.6 L523.3 598.3 L524.4 598.6 L525.5 598.8 L526.4 600.0 L527.1 601.4 L528.3 602.0 L529.4 602.7 L530.5 603.3 L531.7 604.1 L532.7 604.0 L533.8 604.5 L534.6 604.2 L534.9 603.7 L534.5 603.2 L533.6 603.1 L532.6 604.0 L531.6 604.1 L530.9 603.8 L530.0 604.8 L528.9 605.5 L528.7 607.1 L528.2 608.5 L527.8 610.0 L527.4 611.5 L526.4 612.5 L525.4 612.6 L524.7 612.4 L523.7 612.6 L523.0 613.9 L522.1 615.0" fill="none" stroke="#b3b6ea" stroke-width="0.5" stroke-linejoin="round"/>
<path d="M530.0 568.0 L530.5 567.4 L530.7 566.7 L530.2 566.2 L530.0 565.5 L531.0 565.4 L531.9 565.2 L533.0 565.9 L533.6 565.4 L534.3 565.0 L534.3 564.3 L534.2 563.6 L534.4 562.9 L535.4 562.8 L536.4 562.8 L537.4 563.8 L538.4 564.4 L539.2 564.0 L539.8 563.5 L540.9 563.5 L542.0 564.1 L542.5 563.5 L542.4 562.8 L541.7 562.4 L540.8 562.1 L541.0 561.4 L540.5 560.8 L539.4 561.3 L538.7 560.8 L539.1 560.2 L540.0 560.0" fill="none" stroke="#b3b6ea" stroke-width="0.5" stroke-linejoin="round"/>
<path d="M600.0 566.0 L600.2 567.3 L600.2 568.6 L600.9 569.7 L600.8 571.0 L600.5 572.2 L599.6 572.8 L598.6 573.0 L597.7 572.7 L597.5 571.8 L596.9 571.2 L595.9 571.6 L595.2 571.0 L594.3 571.4 L593.3 571.7 L593.0 570.8 L592.4 570.2 L591.4 570.1 L590.4 570.4 L589.8 571.4 L588.8 571.8 L588.1 572.7 L588.4 574.0 L588.5 575.3 L589.3 576.4 L590.5 576.7" fill="none" stroke="#b3b6ea" stroke-width="0.5" stroke-linejoin="round"/>
<path d="M527.5 575.5 C532 580 535 586 536.5 595 C537 602 535 607 531 611 C527 613 523 614 519.6 614.4" fill="none" stroke="#b2b5e6" stroke-width="3" stroke-linecap="butt"/>
<path d="M527.5 575.5 C532 580 535 586 536.5 595 C537 602 535 607 531 611 C527 613 523 614 519.6 614.4" fill="none" stroke="#9295d2" stroke-width="0.4" opacity="0.6"/>
<path d="M535.7 567.8 C538 572 540 578 541.5 586 C542.5 594 542 600 540.5 605 C539.5 608 538.5 610 538 611.2" fill="none" stroke="#b2b5e6" stroke-width="2.8" stroke-linecap="butt"/>
<path d="M535.7 567.8 C538 572 540 578 541.5 586 C542.5 594 542 600 540.5 605 C539.5 608 538.5 610 538 611.2" fill="none" stroke="#9295d2" stroke-width="0.4" opacity="0.6"/>
<path d="M542.1 572.6 C544 577 546 582 546.8 588 C547.3 594 546.5 599 545.3 603.2" fill="none" stroke="#b2b5e6" stroke-width="2.6" stroke-linecap="butt"/>
<path d="M542.1 572.6 C544 577 546 582 546.8 588 C547.3 594 546.5 599 545.3 603.2" fill="none" stroke="#9295d2" stroke-width="0.4" opacity="0.6"/>
<path d="M516.4 614.4 C521 612 527 610.5 532.5 609.6" fill="none" stroke="#b2b5e6" stroke-width="2.2" stroke-linecap="butt"/>
<path d="M516.4 614.4 C521 612 527 610.5 532.5 609.6" fill="none" stroke="#9295d2" stroke-width="0.4" opacity="0.6"/>
<path d="M551.8 566.2 C556 568.5 560 571 564.6 574.2" fill="none" stroke="#b2b5e6" stroke-width="2.4" stroke-linecap="butt"/>
<path d="M551.8 566.2 C556 568.5 560 571 564.6 574.2" fill="none" stroke="#9295d2" stroke-width="0.4" opacity="0.6"/>
<path d="M560 569.5 C570 570 585 571 600 572.5" fill="none" stroke="#b2b5e6" stroke-width="2.6" stroke-linecap="butt"/>
<path d="M560 569.5 C570 570 585 571 600 572.5" fill="none" stroke="#9295d2" stroke-width="0.4" opacity="0.6"/>
<path d="M520.0 654.0 L555.0 634.0" stroke="#9ef2e8" stroke-width="1.6" opacity="0.85"/>
<path d="M520.8 652.0 L555.5 632.2" stroke="#9ef2e8" stroke-width="1.6" opacity="0.85"/>
<path d="M521.6 650.0 L556.0 630.4" stroke="#9ef2e8" stroke-width="1.6" opacity="0.85"/>
<path d="M522.4 648.0 L556.5 628.6" stroke="#9ef2e8" stroke-width="1.6" opacity="0.85"/>
<path d="M512 650 C518 642 524 640 530 636 L534 646 C528 652 520 656 512 659 Z" fill="#a7f1e6" opacity="0.8"/>
<path d="M524 628 C530 624 536 622 544 620 L548 626 C540 630 532 632 526 634 Z" fill="#9ceee2" opacity="0.75"/>
<path d="M540 658 C546 655 552 656 556 659 Z" fill="#a7f1e6" opacity="0.8"/>
<path d="M514 640 C516 646 515 652 517 658" fill="none" stroke="#b2b5e6" stroke-width="1.6"/>
<path d="M542 622.5 L543.5 625 L542.5 628" fill="none" stroke="#3438d0" stroke-width="0.8"/>
<path d="M519.6 646.5 L521 650 L520 653 L522 656" fill="none" stroke="#3438d0" stroke-width="0.8"/>
<path d="M523.5 648 L525.3 656.2" fill="none" stroke="#3438d0" stroke-width="0.8"/>
<path d="M596.4 573.9 L600 575 L606 577.5 L603.6 580" fill="none" stroke="#3438d0" stroke-width="0.8"/>
<path d="M586 570 L588 573" fill="none" stroke="#3438d0" stroke-width="0.8"/>
<path d="M586.7 570.3 L590 572.5 L594 574" stroke="#2fb9a8" stroke-width="1.0" fill="none"/>
<text x="574.50" y="571.00" font-size="3.1" text-anchor="start" fill="#222" style="font-weight:bold">GLN 330</text>
<text x="595.00" y="572.60" font-size="3.1" text-anchor="start" fill="#222" style="font-weight:bold">3.8</text>
<text x="598.80" y="585.80" font-size="3.1" text-anchor="start" fill="#222" style="font-weight:bold">LYS 548</text>
<text x="536.50" y="620.40" font-size="3.1" text-anchor="start" fill="#222" style="font-weight:bold">ARG 152</text>
<text x="535.70" y="625.60" font-size="3.1" text-anchor="start" fill="#222" style="font-weight:bold">3.7</text>
<text x="530.90" y="632.40" font-size="3.1" text-anchor="start" fill="#222" style="font-weight:bold">MET 462</text>
<text x="518.80" y="636.80" font-size="3.1" text-anchor="start" fill="#222" style="font-weight:bold">GLU 117</text>
<text x="519.20" y="646.40" font-size="3.1" text-anchor="start" fill="#222" style="font-weight:bold">3.6</text>
<text x="533.30" y="646.40" font-size="3.1" text-anchor="start" fill="#222" style="font-weight:bold">ARG 432</text>
<text x="527.70" y="651.30" font-size="3.1" text-anchor="start" fill="#222" style="font-weight:bold">3.4</text>
<text x="527.30" y="657.10" font-size="3.1" text-anchor="start" fill="#222" style="font-weight:bold">GLN 128</text>
<text x="512.00" y="659.30" font-size="3.1" text-anchor="start" fill="#222" style="font-weight:bold">LYS 398</text>
</g>
<g transform="translate(380.10 682.74) scale(0.92 1)"><text x="0" y="0" font-size="12.2" font-weight="bold" fill="#000">M</text></g>
<line x1="419.60" y1="717.98" x2="526.30" y2="717.98" stroke="#8fe85a" stroke-width="0.5" stroke-opacity="0.35"/>
<path d="M468.80 718.27 L468.80 717.76 L469.25 717.66 L469.70 717.30 L470.15 717.30 L470.59 717.10 L471.04 716.94 L471.49 716.97 L471.94 716.40 L472.39 716.16 L472.84 716.01 L473.29 715.58 L473.74 715.34 L474.19 714.87 L474.64 714.21 L475.09 714.24 L475.53 713.21 L475.98 712.81 L476.43 712.18 L476.88 711.20 L477.33 711.41 L477.78 710.72 L478.23 709.74 L478.68 708.38 L479.13 707.68 L479.58 706.95 L480.02 706.75 L480.47 705.38 L480.92 704.34 L481.37 702.93 L481.82 701.96 L482.27 703.23 L482.72 702.34 L483.17 701.42 L483.62 700.61 L484.07 700.07 L484.51 699.32 L484.96 697.34 L485.41 698.23 L485.86 696.71 L486.31 697.61 L486.76 697.05 L487.21 698.52 L487.66 697.94 L488.11 699.47 L488.56 696.82 L489.01 698.95 L489.45 700.05 L489.90 700.23 L490.35 698.52 L490.80 699.39 L491.25 699.59 L491.70 700.36 L492.15 701.15 L492.60 702.49 L493.05 702.33 L493.50 701.34 L493.94 702.88 L494.39 703.50 L494.84 703.33 L495.29 705.21 L495.74 704.79 L496.19 704.51 L496.64 705.62 L497.09 706.08 L497.54 706.63 L497.99 707.90 L498.43 708.26 L498.88 708.03 L499.33 708.57 L499.78 709.97 L500.23 710.39 L500.68 710.68 L501.13 711.23 L501.58 711.32 L502.03 712.27 L502.48 712.30 L502.93 712.92 L503.37 713.11 L503.82 713.27 L504.27 713.99 L504.72 714.41 L505.17 714.70 L505.62 714.99 L506.07 714.91 L506.52 715.37 L506.97 715.78 L507.42 715.93 L507.86 716.04 L508.31 716.31 L508.76 716.25 L509.21 716.70 L509.66 716.82 L510.11 716.90 L510.56 717.09 L511.01 717.24 L511.46 717.14 L511.91 717.44 L512.35 717.31 L512.80 717.61 L513.25 717.63 L513.70 717.70 L514.15 717.59 L514.15 718.27 Z" fill="#c6f5a4" stroke="#8fe85a" stroke-width="0.6" stroke-linejoin="round"/>
<text x="416.00" y="713.77" font-size="6.8" text-anchor="end" fill="#222">PANC01</text>
<line x1="419.60" y1="742.65" x2="526.30" y2="742.65" stroke="#4fe6f2" stroke-width="0.5" stroke-opacity="0.35"/>
<path d="M476.63 742.95 L476.63 742.17 L477.08 741.75 L477.52 741.18 L477.96 740.40 L478.40 739.39 L478.85 738.11 L479.29 736.57 L479.73 734.78 L480.17 732.77 L480.62 730.64 L481.06 728.49 L481.50 726.45 L481.94 724.65 L482.38 723.24 L482.83 722.32 L483.27 721.98 L483.71 722.28 L484.15 723.26 L484.60 724.82 L485.04 726.82 L485.48 729.07 L485.92 731.41 L486.37 733.67 L486.81 735.74 L487.25 737.54 L487.69 739.02 L488.13 740.19 L488.58 741.08 L489.02 741.72 L489.46 742.17 L489.46 742.95 Z" fill="#a4f6fa" stroke="#4fe6f2" stroke-width="0.6" stroke-linejoin="round"/>
<text x="416.00" y="738.45" font-size="6.8" text-anchor="end" fill="#222">VEGF</text>
<line x1="419.60" y1="767.33" x2="526.30" y2="767.33" stroke="#e2a466" stroke-width="0.5" stroke-opacity="0.35"/>
<path d="M471.50 767.62 L471.50 767.05 L471.95 766.84 L472.39 766.58 L472.84 766.24 L473.29 765.82 L473.74 765.30 L474.18 764.68 L474.63 763.95 L475.08 763.10 L475.53 762.12 L475.97 761.03 L476.42 759.83 L476.87 758.53 L477.32 757.17 L477.76 755.77 L478.21 754.36 L478.66 753.00 L479.11 751.71 L479.55 750.55 L480.00 749.56 L480.45 748.77 L480.89 748.22 L481.34 747.93 L481.79 747.91 L482.24 748.13 L482.68 748.60 L483.13 749.28 L483.58 750.16 L484.03 751.20 L484.47 752.37 L484.92 753.64 L485.37 754.96 L485.82 756.30 L486.26 757.62 L486.71 758.90 L487.16 760.11 L487.61 761.23 L488.05 762.25 L488.50 763.17 L488.95 763.97 L489.39 764.67 L489.84 765.26 L490.29 765.76 L490.74 766.17 L491.18 766.51 L491.63 766.77 L492.08 766.99 L492.08 767.62 Z" fill="#eecaa2" stroke="#e2a466" stroke-width="0.6" stroke-linejoin="round"/>
<text x="416.00" y="763.12" font-size="6.8" text-anchor="end" fill="#222">IL-10+IL-4</text>
<line x1="419.60" y1="792.00" x2="526.30" y2="792.00" stroke="#e35858" stroke-width="0.5" stroke-opacity="0.35"/>
<path d="M468.56 792.30 L468.56 791.55 L469.00 791.25 L469.44 790.86 L469.89 790.36 L470.33 789.74 L470.78 788.97 L471.22 788.04 L471.67 786.94 L472.11 785.68 L472.56 784.25 L473.00 782.69 L473.44 781.01 L473.89 779.27 L474.33 777.51 L474.78 775.81 L475.22 774.21 L475.67 772.80 L476.11 771.63 L476.56 770.77 L477.00 770.25 L477.44 770.09 L477.89 770.22 L478.33 770.57 L478.78 771.11 L479.22 771.84 L479.67 772.74 L480.11 773.78 L480.56 774.93 L481.00 776.17 L481.44 777.47 L481.89 778.80 L482.33 780.12 L482.78 781.43 L483.22 782.68 L483.67 783.88 L484.11 785.00 L484.56 786.03 L485.00 786.97 L485.44 787.81 L485.89 788.55 L486.33 789.20 L486.78 789.77 L487.22 790.25 L487.67 790.65 L488.11 790.99 L488.56 791.27 L489.00 791.50 L489.44 791.68 L489.44 792.30 Z" fill="#f1a9a9" stroke="#e35858" stroke-width="0.6" stroke-linejoin="round"/>
<text x="416.00" y="787.80" font-size="6.8" text-anchor="end" fill="#222">LPS+IFN-γ</text>
<line x1="419.60" y1="693.60" x2="526.30" y2="693.60" stroke="#8a8a8a" stroke-width="1.1"/>
<line x1="526.30" y1="693.60" x2="526.30" y2="792.30" stroke="#8a8a8a" stroke-width="1"/>
<line x1="419.60" y1="792.30" x2="526.30" y2="792.30" stroke="#8a8a8a" stroke-width="1"/>
<line x1="419.60" y1="693.60" x2="419.60" y2="792.30" stroke="#8a8a8a" stroke-width="1"/>
<text x="476.30" y="687.90" font-size="9.1" text-anchor="middle" fill="#111">MARCO</text>
<text x="435.70" y="801.60" font-size="9" text-anchor="middle" fill="#222">-10<tspan font-size="5.58" dy="-3.42">3</tspan></text>
<text x="453.80" y="801.60" font-size="9" text-anchor="middle" fill="#222">0</text>
<text x="473.60" y="801.60" font-size="9" text-anchor="middle" fill="#222">10<tspan font-size="5.58" dy="-3.42">3</tspan></text>
<text x="495.20" y="801.60" font-size="9" text-anchor="middle" fill="#222">10<tspan font-size="5.58" dy="-3.42">4</tspan></text>
<text x="516.30" y="801.60" font-size="9" text-anchor="middle" fill="#222">10<tspan font-size="5.58" dy="-3.42">5</tspan></text>
<g transform="translate(542.10 682.74) scale(0.9 1)"><text x="0" y="0" font-size="12.2" font-weight="bold" fill="#000">N</text></g>
<text x="626.20" y="690.60" font-size="9.2" text-anchor="middle" fill="#111">MARCO</text>
<line x1="579.80" y1="705.70" x2="579.80" y2="793.70" stroke="#222" stroke-width="0.9"/>
<line x1="579.80" y1="793.30" x2="678.20" y2="793.30" stroke="#222" stroke-width="0.9"/>
<line x1="576.80" y1="793.30" x2="579.80" y2="793.30" stroke="#222" stroke-width="0.8"/>
<text x="576.20" y="796.61" font-size="9.2" text-anchor="end" fill="#222">0.0</text>
<line x1="576.80" y1="775.78" x2="579.80" y2="775.78" stroke="#222" stroke-width="0.8"/>
<text x="576.20" y="779.09" font-size="9.2" text-anchor="end" fill="#222">0.5</text>
<line x1="576.80" y1="758.26" x2="579.80" y2="758.26" stroke="#222" stroke-width="0.8"/>
<text x="576.20" y="761.57" font-size="9.2" text-anchor="end" fill="#222">1.0</text>
<line x1="576.80" y1="740.74" x2="579.80" y2="740.74" stroke="#222" stroke-width="0.8"/>
<text x="576.20" y="744.05" font-size="9.2" text-anchor="end" fill="#222">1.5</text>
<line x1="576.80" y1="723.22" x2="579.80" y2="723.22" stroke="#222" stroke-width="0.8"/>
<text x="576.20" y="726.53" font-size="9.2" text-anchor="end" fill="#222">2.0</text>
<line x1="576.80" y1="705.70" x2="579.80" y2="705.70" stroke="#222" stroke-width="0.8"/>
<text x="576.20" y="709.01" font-size="9.2" text-anchor="end" fill="#222">2.5</text>
<text x="556.80" y="749.50" font-size="9.4" text-anchor="middle" fill="#222" transform="rotate(-90 556.8 749.5)">Relative MFI</text>
<rect x="588.85" y="759.06" width="13.60" height="34.24" fill="#ff2b1c" stroke="#f22a1a" stroke-width="0.9"/>
<line x1="595.65" y1="793.30" x2="595.65" y2="795.80" stroke="#222" stroke-width="0.8"/>
<circle cx="592.45" cy="758.26" r="0.95" fill="#f22a1a"/>
<circle cx="595.65" cy="758.26" r="0.95" fill="#f22a1a"/>
<circle cx="598.85" cy="758.26" r="0.95" fill="#f22a1a"/>
<text x="595.45" y="798.30" font-size="7.5" text-anchor="end" fill="#222" transform="rotate(-50 595.45 798.3)">LPS+IFN-γ</text>
<rect x="611.45" y="736.28" width="13.60" height="57.02" fill="#f1c996" stroke="#e9b880" stroke-width="0.9"/>
<line x1="618.25" y1="793.30" x2="618.25" y2="795.80" stroke="#222" stroke-width="0.8"/>
<line x1="618.25" y1="733.03" x2="618.25" y2="738.64" stroke="#e9b880" stroke-width="0.8"/>
<line x1="615.25" y1="733.03" x2="621.25" y2="733.03" stroke="#e9b880" stroke-width="0.8"/>
<line x1="615.25" y1="738.64" x2="621.25" y2="738.64" stroke="#e9b880" stroke-width="0.8"/>
<circle cx="618.25" cy="730.23" r="0.95" fill="#e9b880"/>
<text x="618.25" y="726.72" font-size="9" text-anchor="middle" fill="#222">**</text>
<text x="618.05" y="798.30" font-size="7.5" text-anchor="end" fill="#222" transform="rotate(-50 618.05 798.3)">IL10+IL-4</text>
<rect x="634.05" y="734.88" width="13.60" height="58.42" fill="#7cb7f7" stroke="#5c9ff0" stroke-width="0.9"/>
<line x1="640.85" y1="793.30" x2="640.85" y2="795.80" stroke="#222" stroke-width="0.8"/>
<line x1="640.85" y1="731.63" x2="640.85" y2="737.24" stroke="#5c9ff0" stroke-width="0.8"/>
<line x1="637.85" y1="731.63" x2="643.85" y2="731.63" stroke="#5c9ff0" stroke-width="0.8"/>
<line x1="637.85" y1="737.24" x2="643.85" y2="737.24" stroke="#5c9ff0" stroke-width="0.8"/>
<circle cx="640.85" cy="730.23" r="0.95" fill="#5c9ff0"/>
<text x="640.85" y="723.32" font-size="9" text-anchor="middle" fill="#222">***</text>
<text x="640.65" y="798.30" font-size="7.5" text-anchor="end" fill="#222" transform="rotate(-50 640.65 798.3)">VEGF</text>
<rect x="656.65" y="719.11" width="13.60" height="74.19" fill="#44ea33" stroke="#2ed61e" stroke-width="0.9"/>
<line x1="663.45" y1="793.30" x2="663.45" y2="795.80" stroke="#222" stroke-width="0.8"/>
<line x1="663.45" y1="714.46" x2="663.45" y2="722.87" stroke="#2ed61e" stroke-width="0.8"/>
<line x1="660.45" y1="714.46" x2="666.45" y2="714.46" stroke="#2ed61e" stroke-width="0.8"/>
<line x1="660.45" y1="722.87" x2="666.45" y2="722.87" stroke="#2ed61e" stroke-width="0.8"/>
<circle cx="663.45" cy="711.66" r="0.95" fill="#2ed61e"/>
<text x="663.45" y="705.72" font-size="9" text-anchor="middle" fill="#222">***</text>
<text x="663.25" y="798.30" font-size="7.5" text-anchor="end" fill="#222" transform="rotate(-50 663.25 798.3)">PANC-1</text></svg></body></html>
